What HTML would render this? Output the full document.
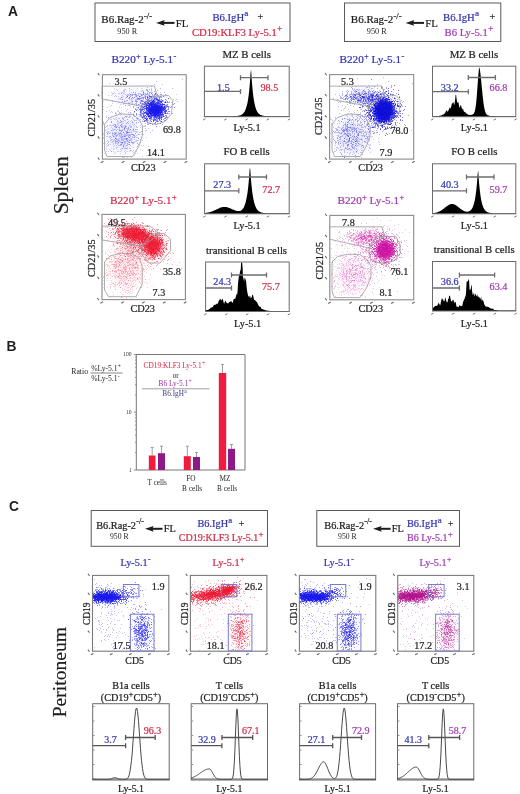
<!DOCTYPE html>
<html><head><meta charset="utf-8"><style>
html,body{margin:0;padding:0;background:#fff;}
body{width:520px;height:794px;overflow:hidden;font-family:"Liberation Serif", serif;}
svg{display:block;filter:blur(0.3px);}
</style></head><body>
<svg width="520" height="794" viewBox="0 0 520 794">
<defs>
<filter id="b5" x="-50%" y="-50%" width="200%" height="200%"><feGaussianBlur stdDeviation="0.5"/></filter>
<filter id="b8" x="-50%" y="-50%" width="200%" height="200%"><feGaussianBlur stdDeviation="0.8"/></filter>
<filter id="b10" x="-50%" y="-50%" width="200%" height="200%"><feGaussianBlur stdDeviation="1.0"/></filter>
<filter id="b12" x="-50%" y="-50%" width="200%" height="200%"><feGaussianBlur stdDeviation="1.2"/></filter>
<filter id="b15" x="-50%" y="-50%" width="200%" height="200%"><feGaussianBlur stdDeviation="1.5"/></filter>
<filter id="b20" x="-50%" y="-50%" width="200%" height="200%"><feGaussianBlur stdDeviation="2.0"/></filter>
<filter id="b25" x="-50%" y="-50%" width="200%" height="200%"><feGaussianBlur stdDeviation="2.5"/></filter>
<filter id="b30" x="-50%" y="-50%" width="200%" height="200%"><feGaussianBlur stdDeviation="3.0"/></filter>
<filter id="b40" x="-50%" y="-50%" width="200%" height="200%"><feGaussianBlur stdDeviation="4.0"/></filter>
</defs>
<rect width="520" height="794" fill="#fff"/>
<text transform="translate(8.00 15.80) scale(1 1.0)" font-size="13.8" fill="#1e1e1e" text-anchor="start" font-family='"Liberation Sans", sans-serif' font-weight="bold" >A</text>
<text transform="translate(6.60 350.90) scale(1 1.0)" font-size="13.8" fill="#1e1e1e" text-anchor="start" font-family='"Liberation Sans", sans-serif' font-weight="bold" >B</text>
<text transform="translate(8.90 510.80) scale(1 1.0)" font-size="13.8" fill="#1e1e1e" text-anchor="start" font-family='"Liberation Sans", sans-serif' font-weight="bold" >C</text>
<text transform="translate(67.8 214.3) rotate(-90) scale(1 1.0)" stroke="#1e1e1e" stroke-width="0.22" font-size="21.3" fill="#1e1e1e" font-family='"Liberation Serif", serif'>Spleen</text>
<text transform="translate(66.2 717.3) rotate(-90) scale(1 1.0)" stroke="#1e1e1e" stroke-width="0.22" font-size="19.6" fill="#1e1e1e" font-family='"Liberation Serif", serif'>Peritoneum</text>
<rect x="95.00" y="3.00" width="195.00" height="38.50" fill="none" stroke="#5a5a5a" stroke-width="1"/>
<text transform="translate(101.30 22.90) scale(1 1.0)" font-size="11" fill="#1e1e1e" stroke="#1e1e1e" stroke-width="0.22" text-anchor="start" font-family='"Liberation Serif", serif'>B6.Rag-2<tspan dx="0.2" dy="-3.60" font-size="8.60">-/-</tspan></text>
<text transform="translate(117.30 33.90) scale(1 1.0)" font-size="8.2" fill="#1e1e1e" text-anchor="start" font-family='"Liberation Serif", serif' font-weight="normal" >950 R</text>
<path d="M156.1 22.9 L164.7 20.0 L163.5 22.9 L164.7 25.8 Z" fill="#1e1e1e"/>
<rect x="162.1" y="21.9" width="12.4" height="2.0" fill="#1e1e1e"/>
<text transform="translate(175.70 26.60) scale(1 1.0)" font-size="10.8" fill="#1e1e1e" stroke="#1e1e1e" stroke-width="0.22" text-anchor="start" font-family='"Liberation Serif", serif' font-weight="normal" >FL</text>
<text transform="translate(212.40 20.60) scale(1 1.0)" font-size="10.7" fill="#3434b4" stroke="#3434b4" stroke-width="0.22" text-anchor="start" font-family='"Liberation Serif", serif'>B6.IgH<tspan dx="0.2" dy="-4.60" font-size="9.20">a</tspan></text>
<text transform="translate(257.60 20.00) scale(1 1.0)" font-size="10" fill="#1e1e1e" stroke="#1e1e1e" stroke-width="0.22" text-anchor="start" font-family='"Liberation Serif", serif' font-weight="normal" >+</text>
<text transform="translate(191.90 36.30) scale(1 1.0)" font-size="10.7" fill="#d22a48" stroke="#d22a48" stroke-width="0.22" text-anchor="start" font-family='"Liberation Serif", serif'>CD19:KLF3 Ly-5.1<tspan dx="0.2" dy="-4.40" font-size="9.60">+</tspan></text>
<rect x="344.50" y="3.00" width="156.30" height="38.50" fill="none" stroke="#5a5a5a" stroke-width="1"/>
<text transform="translate(350.80 22.90) scale(1 1.0)" font-size="11" fill="#1e1e1e" stroke="#1e1e1e" stroke-width="0.22" text-anchor="start" font-family='"Liberation Serif", serif'>B6.Rag-2<tspan dx="0.2" dy="-3.60" font-size="8.60">-/-</tspan></text>
<text transform="translate(366.80 33.90) scale(1 1.0)" font-size="8.2" fill="#1e1e1e" text-anchor="start" font-family='"Liberation Serif", serif' font-weight="normal" >950 R</text>
<path d="M405.6 22.9 L414.2 20.0 L413.0 22.9 L414.2 25.8 Z" fill="#1e1e1e"/>
<rect x="411.6" y="21.9" width="12.4" height="2.0" fill="#1e1e1e"/>
<text transform="translate(425.20 26.60) scale(1 1.0)" font-size="10.8" fill="#1e1e1e" stroke="#1e1e1e" stroke-width="0.22" text-anchor="start" font-family='"Liberation Serif", serif' font-weight="normal" >FL</text>
<text transform="translate(443.00 20.60) scale(1 1.0)" font-size="10.7" fill="#3434b4" stroke="#3434b4" stroke-width="0.22" text-anchor="start" font-family='"Liberation Serif", serif'>B6.IgH<tspan dx="0.2" dy="-4.60" font-size="9.20">a</tspan></text>
<text transform="translate(489.50 20.00) scale(1 1.0)" font-size="10" fill="#1e1e1e" stroke="#1e1e1e" stroke-width="0.22" text-anchor="start" font-family='"Liberation Serif", serif' font-weight="normal" >+</text>
<text transform="translate(444.50 36.30) scale(1 1.0)" font-size="10.7" fill="#a23ab4" stroke="#a23ab4" stroke-width="0.22" text-anchor="start" font-family='"Liberation Serif", serif'>B6 Ly-5.1<tspan dx="0.2" dy="-4.40" font-size="9.60">+</tspan></text>
<text transform="translate(111.50 63.00) scale(1 1.0)" font-size="11.2" fill="#3434b4" stroke="#3434b4" stroke-width="0.22" text-anchor="start" font-family='"Liberation Serif", serif' xml:space="preserve"><tspan>B220</tspan><tspan dx="0.3" dy="-4.30" font-size="8.40">+</tspan><tspan dy="4.30" font-size="11.2"> Ly-5.1</tspan><tspan dx="0.3" dy="-4.30" font-size="8.40">-</tspan></text>
<clipPath id="c10274"><rect x="102.4" y="74.7" width="83.79999999999998" height="84.39999999999999"/></clipPath>
<g clip-path="url(#c10274)">
<ellipse cx="123" cy="134" rx="15" ry="18" fill="#1515ee" fill-opacity="0.08" transform="rotate(0 123 134)" filter="url(#b40)"/>
<ellipse cx="135" cy="97" rx="22" ry="8" fill="#1515ee" fill-opacity="0.06" transform="rotate(0 135 97)" filter="url(#b40)"/>
<path transform="translate(0 0.5)" d="M129 88h1M156 81h1M146 105h1M108 117h1M106 111h1M109 83h1M137 143h1M113 93h1M154 153h1M150 108h1M182 79h1M173 99h1" stroke="#1515ee" stroke-width="1" stroke-opacity="0.3" fill="none"/>
<path transform="translate(0 0.5)" d="M125 138h1M115 152h1M127 147h1M115 125h1M118 132h1M128 136h1M117 123h1M116 147h1M113 136h1M126 117h1M122 148h1M120 125h1M126 133h1M107 143h1M128 144h1M136 137h1M123 119h1M128 127h1M117 120h1M112 128h1M134 111h1M107 136h1M136 140h1M103 106h1M125 125h1M110 144h1M133 135h1M124 138h1M137 140h1M127 140h1M106 148h1M131 139h1M130 114h1M120 145h1M108 151h1M127 132h1M125 141h1M123 146h1M115 129h1M132 134h1M113 144h1M136 129h1M108 132h1M120 130h1M136 122h1M134 120h1M114 140h1M133 143h1M125 135h1M123 140h1M120 137h1M127 134h1M129 140h1M142 137h1M117 129h1M121 144h1M118 138h1M140 105h1M110 136h1M125 136h1M117 141h1M124 128h1M146 137h1M116 132h1M119 133h1M132 121h1M121 144h1M130 150h1M104 130h1M118 140h1M132 104h1M132 118h1M128 117h1M123 147h1M120 136h1M129 135h1M121 150h1M132 130h1M149 121h1M131 131h1M123 141h1M124 141h1M106 117h1M128 123h1M111 117h1M134 142h1M136 123h1M122 121h1M129 151h1M113 151h1M131 132h1M121 127h1M125 138h1M136 122h1M133 150h1M136 132h1M114 145h1M123 135h1M136 131h1M103 143h1M125 127h1M121 143h1M122 148h1M121 145h1M136 151h1M115 143h1M103 122h1M109 133h1M120 133h1M116 136h1M139 134h1M127 145h1M120 120h1M116 145h1M105 127h1M132 142h1M122 142h1M123 121h1M106 126h1M131 127h1M112 125h1M106 132h1M110 138h1M115 112h1M129 130h1M124 128h1M129 142h1M128 137h1M135 141h1M126 111h1M130 148h1M119 128h1M141 114h1M112 141h1M140 132h1M127 143h1M112 133h1M124 143h1M121 131h1M111 130h1M130 135h1M113 124h1M148 146h1M128 105h1M128 139h1M138 138h1M121 139h1M125 126h1M135 153h1M107 126h1M124 136h1M118 123h1M143 145h1M110 119h1M139 144h1M140 142h1M113 136h1M121 139h1M114 132h1M126 138h1M128 136h1M118 142h1M122 124h1M115 133h1M120 135h1M121 135h1M120 120h1M126 145h1M126 131h1M126 123h1M103 134h1M112 142h1M111 105h1M111 151h1M118 118h1M114 139h1M126 135h1M136 141h1M121 140h1M138 144h1M132 122h1M120 142h1M119 145h1M127 143h1M134 131h1M118 143h1M131 134h1M110 136h1M125 146h1M129 134h1M130 139h1M124 134h1M119 141h1M111 127h1M122 117h1M117 111h1M115 140h1M127 133h1M119 118h1M140 139h1M132 124h1M120 113h1M129 144h1M103 133h1M128 114h1M103 122h1M115 118h1M122 136h1M128 141h1M137 146h1M108 128h1M111 122h1M121 134h1M126 116h1M109 133h1M120 130h1M121 125h1M129 137h1M121 126h1M120 104h1M112 134h1M106 136h1M123 118h1M119 130h1M126 140h1M121 124h1M120 133h1M129 137h1M114 119h1M118 125h1M110 132h1M117 135h1M127 129h1M145 130h1M133 135h1M133 107h1M114 136h1M125 148h1M129 144h1M127 132h1M127 122h1M133 122h1M124 157h1M119 134h1M133 134h1M113 136h1M127 141h1M114 153h1M138 134h1M124 129h1M136 126h1M128 128h1M115 141h1M135 133h1M115 142h1M121 137h1M137 146h1M122 142h1M115 133h1M104 153h1M135 120h1M106 116h1M133 128h1M121 130h1M120 122h1M122 118h1M121 137h1M126 131h1M112 135h1M117 151h1M129 132h1M117 126h1M112 130h1M124 139h1M127 157h1M114 134h1M149 113h1M116 135h1M123 138h1M119 138h1M122 142h1M103 124h1M121 122h1M111 140h1M115 140h1M129 137h1M127 132h1M107 133h1M126 128h1M121 142h1M113 141h1M140 127h1M123 132h1M137 137h1M130 126h1M121 133h1M104 149h1M130 114h1M129 132h1M126 138h1M107 131h1M136 127h1M111 119h1M109 137h1M138 138h1M116 126h1M127 140h1M111 121h1M124 136h1M108 131h1M116 139h1M120 133h1M118 145h1M135 129h1M130 125h1M122 142h1M137 129h1M121 136h1M107 134h1M115 138h1M110 112h1M122 136h1M116 143h1M119 127h1M126 116h1M115 133h1M130 132h1M125 126h1M125 152h1M115 134h1M123 145h1M109 110h1M128 142h1M124 136h1M131 138h1M138 120h1M118 96h1M130 129h1M131 157h1M121 131h1M117 124h1M115 141h1M122 134h1M120 144h1M126 132h1M128 132h1M110 150h1M126 123h1M132 137h1M106 151h1M125 143h1M123 132h1M106 144h1M122 130h1M125 134h1M128 129h1M121 110h1M117 141h1M135 129h1M120 151h1M118 142h1M138 134h1M134 126h1M124 133h1M123 146h1M145 126h1M116 139h1M111 139h1M127 130h1M127 116h1M129 117h1M115 127h1M117 143h1M122 129h1M127 151h1M122 138h1M134 136h1M144 112h1M121 138h1M131 141h1M119 122h1M123 145h1M111 122h1M121 112h1M119 129h1M126 126h1M113 129h1M121 126h1M122 142h1M133 152h1M114 129h1M114 133h1M127 119h1M126 133h1M103 137h1M133 113h1M130 136h1M126 138h1M135 131h1M130 129h1M129 125h1M120 153h1M126 132h1M110 125h1M123 144h1M126 139h1M121 148h1M118 127h1M130 134h1M119 127h1M119 140h1M125 120h1M126 135h1M111 142h1M119 130h1M129 148h1M115 138h1M117 147h1M115 142h1M144 106h1M117 139h1M121 126h1M143 134h1M105 143h1M104 146h1M116 135h1M134 135h1M108 115h1M133 142h1M113 143h1M126 141h1M131 142h1M130 106h1M123 139h1M147 123h1M118 134h1M130 129h1M133 125h1M124 128h1M123 126h1M106 146h1M125 127h1M124 144h1M112 132h1M127 139h1M118 110h1M134 137h1M122 130h1M124 129h1M111 125h1M116 127h1M110 140h1M108 141h1M111 137h1M135 136h1M114 134h1M123 114h1M115 135h1M117 134h1M129 142h1M131 140h1M119 133h1M119 130h1M120 115h1M118 133h1M112 133h1M127 132h1M142 105h1M119 113h1M127 130h1M127 109h1M130 138h1M122 127h1M128 128h1M124 128h1M124 142h1M113 133h1M128 135h1M134 155h1M112 112h1M130 150h1M131 142h1M115 126h1M130 123h1M103 123h1M146 155h1M115 125h1M124 125h1M135 133h1M111 148h1M116 136h1M121 130h1M125 126h1M103 109h1M109 125h1M121 134h1M127 135h1M114 126h1M126 139h1M120 132h1M131 134h1M129 140h1M124 148h1M116 130h1M113 125h1M137 153h1M122 140h1M133 142h1M134 120h1M115 138h1M136 135h1M113 130h1M115 124h1M137 127h1M122 157h1M133 137h1M115 138h1M138 140h1M134 135h1M127 131h1M126 148h1M107 133h1M124 127h1M118 142h1M142 140h1M125 116h1M141 134h1M121 121h1M121 121h1M122 139h1M122 137h1M113 149h1M115 113h1M120 125h1M111 130h1M124 120h1M120 149h1M128 132h1M123 132h1M121 142h1M121 107h1M121 124h1M128 127h1M123 157h1M111 121h1M107 107h1M103 138h1M115 113h1M107 140h1M114 129h1M125 148h1M141 145h1M123 136h1M140 149h1M118 139h1M124 134h1M116 119h1M116 117h1M134 139h1M109 149h1M130 113h1M140 142h1M142 120h1M127 138h1M124 135h1M132 117h1M109 118h1M116 127h1M125 136h1M122 126h1M117 144h1M129 135h1M118 151h1M116 141h1M133 131h1M130 121h1M132 136h1M106 141h1M113 148h1M115 132h1M124 130h1M124 127h1M128 134h1M124 103h1M133 134h1M104 135h1M126 145h1M111 151h1M120 141h1M118 121h1M132 143h1M137 143h1M116 115h1M115 126h1M113 140h1M125 131h1M123 132h1M124 142h1M131 126h1M106 149h1M123 146h1M105 130h1M122 118h1M116 141h1M132 151h1M113 118h1M127 144h1M123 119h1M129 142h1M127 128h1M125 142h1M116 113h1M125 139h1M122 143h1M116 133h1M118 140h1M137 131h1M142 150h1M129 140h1M139 132h1M120 122h1M126 148h1M127 138h1M119 135h1M107 145h1M117 121h1M114 124h1M130 145h1M108 144h1M130 127h1M107 125h1M115 137h1M118 111h1M124 117h1M131 120h1M115 124h1M116 148h1M130 140h1M125 116h1M116 127h1M112 139h1M114 126h1M111 111h1M127 148h1M123 123h1M134 137h1M131 150h1M133 129h1M132 142h1M106 129h1M107 132h1M127 122h1M125 150h1M108 145h1M142 156h1M119 136h1M120 144h1M132 134h1M108 142h1M117 140h1M124 151h1M133 129h1M125 153h1M116 138h1M133 147h1M127 119h1M109 136h1M113 146h1M129 115h1M113 135h1" stroke="#1515ee" stroke-width="1" stroke-opacity="0.22" fill="none"/>
<path transform="translate(0 0.5)" d="M130 96h1M143 94h1M143 94h1M129 99h1M129 98h1M157 97h1M135 100h1M132 101h1M120 99h1M130 94h1M160 94h1M159 100h1M155 93h1M152 103h1M135 96h1M168 98h1M131 94h1M142 98h1M139 104h1M132 99h1M155 93h1M150 104h1M119 93h1M123 90h1M142 90h1M143 103h1M116 96h1M112 100h1M127 96h1M137 99h1M132 97h1M129 97h1M121 97h1M111 95h1M161 97h1M120 98h1M124 90h1M127 100h1M141 97h1M124 93h1M154 98h1M124 89h1M119 107h1M122 97h1M139 96h1M133 92h1M123 104h1M127 100h1M114 96h1M140 101h1M122 99h1M142 94h1M143 93h1M126 97h1M123 91h1M131 100h1M131 102h1M121 92h1M157 99h1M149 94h1M147 98h1M145 97h1M152 94h1M124 91h1M152 94h1M123 93h1M131 92h1M133 94h1M129 93h1M137 95h1M138 98h1M141 88h1M130 94h1M147 91h1M127 96h1M132 101h1M131 101h1M117 90h1M152 99h1M143 97h1M143 92h1M149 95h1M149 97h1M111 92h1M151 96h1M131 98h1M131 95h1M138 98h1M156 97h1M161 104h1M159 101h1M138 98h1M135 94h1M136 94h1M158 99h1M131 89h1M136 95h1M122 92h1M107 99h1M136 107h1M136 96h1M155 98h1M139 96h1M129 103h1M150 104h1M132 97h1M125 101h1M118 99h1M151 103h1M124 101h1M127 94h1M119 102h1M158 95h1M127 96h1M169 101h1M129 90h1M128 102h1M161 96h1M128 95h1M112 101h1M122 101h1M114 92h1M140 94h1M147 97h1M121 99h1M147 89h1M160 99h1M146 90h1M127 96h1M151 91h1M125 89h1M133 98h1M115 95h1M143 103h1M145 96h1M121 93h1M128 98h1M136 104h1M140 93h1M157 101h1M138 94h1M112 93h1M148 94h1M119 98h1M140 99h1M145 103h1M126 101h1M124 100h1M139 98h1M149 97h1M151 101h1M138 95h1M127 95h1M134 97h1M175 100h1M146 94h1M127 96h1M139 93h1M157 95h1M151 88h1M136 98h1M139 99h1M140 98h1M112 94h1M106 100h1M140 96h1M126 95h1M160 104h1M136 102h1M116 89h1M130 94h1M129 98h1M176 94h1M137 98h1M136 101h1M160 92h1M139 96h1M141 91h1M114 88h1M143 98h1M137 88h1M132 94h1M118 93h1M146 99h1M136 99h1M129 97h1M137 99h1M136 96h1M135 94h1M166 99h1M142 106h1M155 91h1M146 100h1M161 102h1M147 92h1M125 98h1M143 93h1M132 95h1M137 98h1M133 92h1M153 103h1M135 101h1M142 100h1M143 94h1M144 101h1M125 105h1M164 104h1M162 100h1M132 95h1M126 97h1M136 100h1M110 106h1M166 97h1M145 99h1M140 96h1M135 94h1M139 97h1M141 94h1M137 97h1M144 93h1M142 101h1M144 96h1M130 96h1M146 103h1M134 94h1M141 98h1M125 94h1M135 100h1M121 93h1M143 92h1M138 98h1M135 93h1M136 96h1M141 94h1M151 90h1M134 97h1M149 95h1M144 95h1M146 104h1M131 99h1M124 101h1M152 97h1M122 99h1M151 101h1M147 90h1M128 103h1M121 102h1M161 100h1M151 96h1M121 97h1M134 97h1M146 96h1M139 99h1M136 104h1M142 97h1M134 94h1M154 98h1M122 95h1M135 95h1M151 92h1M143 98h1M121 97h1M135 99h1M131 98h1M115 93h1M147 101h1M136 95h1M151 89h1M126 100h1M145 93h1M112 103h1M138 93h1M137 101h1M103 101h1M146 89h1M147 90h1M151 99h1M166 95h1M137 101h1M128 94h1M132 97h1M122 99h1M144 97h1M159 96h1M153 95h1M146 89h1M139 96h1M130 95h1M132 94h1M108 95h1M129 95h1M123 96h1M147 96h1M130 102h1M149 101h1M152 96h1M135 101h1M129 97h1M141 98h1" stroke="#1515ee" stroke-width="1" stroke-opacity="0.22" fill="none"/>
<path transform="translate(0 0.5)" d="M151 115h1M151 113h1M161 109h1M154 97h1M138 107h1M158 117h1M141 113h1M141 105h1M150 113h1M155 115h1M144 117h1M159 105h1M153 102h1M140 108h1M152 130h1M151 121h1M153 109h1M155 100h1M159 107h1M139 116h1M156 109h1M163 100h1M157 111h1M146 119h1M135 103h1M152 98h1M145 96h1M148 99h1M149 96h1M154 104h1M151 107h1M148 98h1M129 116h1M141 107h1M149 92h1M142 106h1M142 113h1M147 102h1M144 116h1M146 114h1M149 93h1M141 111h1M155 112h1M160 112h1M147 107h1M156 102h1M155 93h1M156 104h1M136 120h1M153 107h1M140 108h1M161 97h1M119 112h1M140 110h1M145 102h1M146 117h1M143 126h1M143 101h1M159 109h1M144 116h1M133 107h1M159 102h1M141 115h1M158 105h1M134 111h1M156 112h1M166 100h1M146 109h1M158 97h1M154 84h1M156 100h1M156 111h1M140 111h1M154 111h1M140 103h1M141 131h1M148 107h1M140 119h1M150 119h1M158 105h1M154 97h1M146 104h1M140 112h1M153 118h1M120 113h1M142 107h1M155 109h1M150 104h1M156 109h1M134 111h1M136 103h1M152 107h1M149 101h1M146 102h1M155 111h1M169 111h1M143 107h1M143 113h1M169 106h1M129 105h1M141 115h1M151 110h1M163 96h1M148 124h1M151 101h1M129 103h1M130 116h1M153 114h1M148 103h1M149 123h1M136 114h1M152 112h1M148 112h1M157 104h1M146 108h1M142 109h1M148 110h1M165 113h1M148 113h1M155 112h1M151 109h1M145 103h1M161 114h1M157 109h1M152 104h1M137 118h1M151 103h1M146 119h1M140 125h1M162 122h1M144 110h1M147 110h1M147 103h1M158 99h1M148 113h1M145 106h1M153 104h1M140 111h1M153 120h1M144 118h1M143 107h1M148 110h1M162 117h1M149 119h1M161 110h1M146 116h1M150 110h1M150 113h1M163 112h1M151 115h1M160 96h1M160 94h1M157 110h1M164 105h1M144 103h1M142 117h1M147 103h1M153 100h1M146 106h1M168 113h1M145 97h1M153 107h1M155 110h1M150 115h1M158 106h1M146 105h1M154 98h1M147 103h1M140 116h1M150 108h1M154 94h1M151 110h1M155 97h1M157 107h1M165 111h1M161 121h1M149 105h1M145 102h1M145 94h1M151 111h1M158 102h1M161 99h1M145 95h1M142 104h1M164 107h1M143 114h1M154 104h1M150 105h1M142 97h1M153 117h1M162 101h1M144 108h1M159 107h1M147 112h1M150 112h1M143 99h1M153 113h1M141 110h1M157 102h1M150 123h1M160 112h1M147 122h1M136 109h1M160 114h1M141 106h1M147 94h1M157 109h1M148 113h1M158 107h1M159 116h1M147 110h1M149 116h1M148 112h1M152 108h1M164 102h1M164 109h1M161 102h1M160 110h1M146 111h1M149 108h1M159 99h1M132 101h1M145 104h1M152 111h1M166 104h1M152 101h1M159 115h1M157 90h1M162 116h1M154 95h1M149 112h1M152 101h1M146 117h1M143 121h1M151 109h1M138 107h1M152 95h1M164 92h1M141 111h1M156 111h1M147 107h1M147 104h1M132 122h1M153 108h1M146 111h1M150 107h1M155 93h1M150 100h1M152 119h1M141 110h1M148 116h1M138 99h1M154 104h1M151 116h1M142 108h1M153 110h1M149 116h1M168 98h1M160 88h1M161 101h1M151 105h1M142 101h1M150 117h1M159 102h1M144 104h1M145 123h1M156 106h1M144 102h1M163 109h1M145 117h1M143 115h1M142 108h1M156 109h1M157 99h1M167 112h1M152 111h1M144 109h1M140 112h1M155 116h1M160 110h1M147 107h1M148 110h1M137 118h1M137 109h1M149 104h1M164 102h1M166 111h1M147 112h1M160 101h1M150 103h1M150 105h1M154 114h1M162 104h1M154 113h1M146 101h1M157 98h1M156 98h1M163 95h1M161 115h1M146 120h1M139 98h1M158 110h1M143 91h1M149 106h1M147 107h1M135 109h1M169 113h1M146 104h1M156 114h1M153 97h1M152 108h1M165 111h1M158 114h1M151 119h1M148 111h1M156 99h1M140 98h1M152 107h1M149 112h1M133 114h1M151 105h1M161 117h1M145 102h1M146 110h1M153 100h1M156 98h1M158 108h1M160 121h1M148 107h1M156 112h1M140 113h1M146 114h1M162 104h1M150 109h1M128 121h1M155 107h1M145 104h1M152 116h1M153 117h1M128 112h1M153 107h1M135 108h1M157 95h1M140 103h1M148 113h1M150 92h1M161 99h1M150 121h1M147 99h1M144 104h1M141 108h1M158 107h1M146 130h1M143 111h1M153 113h1M149 112h1M168 102h1M143 113h1M143 107h1M153 109h1M150 114h1M146 99h1M157 102h1M159 99h1M156 108h1M125 105h1M145 120h1M137 119h1M161 108h1M155 102h1M151 109h1M156 111h1M147 103h1M147 112h1M134 104h1M146 105h1M142 90h1M147 107h1M152 92h1M149 112h1M157 114h1M156 97h1M155 103h1M148 120h1M143 104h1M145 103h1M160 107h1M163 106h1M148 116h1M144 106h1M149 108h1M159 100h1M153 106h1M138 104h1M150 111h1M154 110h1M150 104h1M151 99h1M139 109h1M138 108h1M143 106h1M148 102h1M143 97h1M150 101h1M147 87h1M145 112h1M130 112h1M152 108h1M139 114h1M149 100h1M156 105h1M150 104h1M155 107h1M161 107h1M145 108h1M157 102h1M155 110h1M143 92h1M152 109h1M150 102h1M160 103h1M144 104h1M151 99h1M147 124h1M164 111h1M163 107h1M140 121h1M162 107h1M138 122h1M160 100h1M153 112h1M153 115h1M153 112h1M148 97h1M150 132h1M156 116h1M164 116h1M154 102h1M146 94h1M151 114h1M133 115h1M161 114h1M141 106h1M133 106h1M160 120h1M145 120h1M153 103h1M162 84h1M150 109h1M172 113h1M169 102h1M162 114h1M156 108h1M148 105h1M145 125h1M142 95h1M153 106h1M156 119h1M149 106h1M144 110h1M147 110h1M177 101h1M148 123h1M160 111h1M158 111h1M160 115h1M162 114h1M146 109h1M147 116h1M156 102h1M162 124h1M158 96h1M151 112h1M151 110h1M161 106h1M143 116h1M150 109h1M142 100h1M139 109h1M135 92h1M157 96h1M146 113h1M134 124h1M146 114h1M147 111h1M151 107h1M132 103h1M154 117h1M147 113h1M153 110h1M155 94h1M152 105h1M146 103h1M141 103h1M148 128h1M165 102h1M154 99h1M123 103h1M155 117h1M148 101h1M146 101h1M138 110h1M145 103h1M141 104h1M156 116h1M154 123h1M138 114h1M141 110h1M153 111h1M158 100h1M140 110h1M151 102h1M162 116h1M140 114h1M154 91h1M152 105h1M142 121h1M151 104h1M156 111h1M158 109h1M151 98h1M147 110h1M133 130h1M145 101h1M136 115h1M149 103h1M145 103h1M144 109h1M147 114h1M150 109h1M157 115h1M156 107h1M147 102h1M149 113h1M151 104h1M136 101h1M156 114h1M150 97h1M149 110h1M144 113h1M147 102h1M142 117h1M151 100h1M144 117h1M155 104h1M163 101h1M145 118h1M150 110h1M148 101h1M140 110h1M160 96h1M162 105h1M142 113h1M153 100h1M134 116h1M142 114h1M134 112h1M140 100h1M149 109h1M143 101h1M148 95h1M156 109h1M167 109h1M154 108h1M147 98h1M164 107h1M145 101h1M164 107h1M142 116h1M166 102h1M153 103h1M148 117h1M176 99h1M151 113h1M150 113h1M155 98h1M142 110h1M158 107h1M157 94h1M153 102h1M152 109h1M142 109h1M142 113h1M142 107h1M151 102h1M158 100h1M158 107h1M141 109h1M143 108h1M153 121h1M151 119h1M151 97h1M133 119h1M136 118h1M160 107h1M148 106h1M152 105h1M145 107h1M159 100h1M151 99h1M141 100h1M151 113h1M152 103h1M155 103h1M154 108h1M149 89h1M142 117h1M155 123h1M147 104h1M164 107h1M167 105h1M151 113h1M143 107h1M145 108h1M156 102h1M152 103h1M151 86h1M149 109h1M144 118h1M155 116h1M160 109h1M147 101h1M148 105h1M151 104h1M172 88h1M159 101h1M151 115h1M148 99h1M153 105h1M134 115h1M140 106h1M155 108h1M154 123h1M152 102h1M152 106h1M129 103h1M144 126h1M148 106h1M148 116h1M155 119h1M161 116h1M150 110h1M147 108h1M135 109h1M141 106h1M161 106h1M163 110h1M160 112h1M148 115h1M147 105h1M166 119h1M147 122h1M155 99h1M154 109h1M153 104h1M140 112h1M159 110h1M159 113h1M142 110h1M156 113h1M153 111h1M157 121h1M133 114h1M171 102h1M136 114h1M137 107h1M157 118h1M156 111h1M159 106h1M143 109h1M153 105h1M144 107h1M136 105h1M149 105h1M154 117h1M153 106h1M138 104h1M151 100h1M151 99h1M151 107h1M158 102h1M148 110h1M155 119h1M147 105h1M149 112h1M154 112h1M145 128h1M165 102h1M141 112h1M148 91h1M147 97h1M158 116h1M155 94h1M164 110h1M149 112h1M162 101h1M149 104h1M155 89h1M160 97h1M154 94h1" stroke="#1515ee" stroke-width="1" stroke-opacity="0.3" fill="none"/>
<path transform="translate(0 0.5)" d="M149 106h1M159 101h1M158 106h1M162 108h1M157 109h1M165 108h1M154 120h1M155 113h1M150 111h1M141 110h1M151 102h1M146 116h1M157 101h1M165 106h1M152 111h1M148 101h1M150 116h1M160 101h1M161 110h1M157 110h1M157 104h1M149 106h1M152 113h1M147 118h1M151 106h1M159 112h1M153 104h1M149 101h1M161 115h1M165 112h1M156 114h1M160 108h1M157 121h1M145 102h1M149 113h1M161 108h1M158 109h1M156 107h1M154 109h1M161 121h1M144 112h1M154 115h1M161 114h1M159 104h1M145 118h1M161 104h1M162 113h1M140 114h1M149 116h1M151 106h1M146 108h1M160 106h1M144 121h1M165 113h1M151 103h1M145 112h1M162 104h1M154 108h1M153 112h1M167 106h1M159 115h1M153 109h1M147 115h1M151 106h1M155 105h1M148 108h1M163 108h1M158 102h1M143 119h1M152 101h1M154 113h1M145 105h1M156 105h1M159 115h1M157 107h1M154 106h1M154 111h1M153 115h1M170 107h1M156 114h1M158 108h1M152 115h1M158 112h1M150 113h1M159 109h1M158 121h1M144 113h1M148 102h1M153 112h1M155 103h1M146 107h1M155 105h1M146 119h1M150 109h1M151 106h1M155 108h1M158 103h1M146 120h1M154 114h1M161 112h1M155 101h1M145 115h1M158 113h1M145 98h1M148 103h1M155 104h1M164 106h1M151 114h1M156 105h1M159 120h1M147 108h1M148 99h1M158 113h1M160 112h1M143 109h1M151 103h1M148 114h1M153 120h1M157 99h1M160 116h1M155 103h1M165 102h1M154 99h1M147 100h1M161 116h1M152 102h1M154 112h1M146 103h1M154 113h1M155 112h1M147 96h1M156 105h1M154 107h1M157 105h1M163 110h1M158 113h1M161 112h1M144 106h1M165 112h1M158 112h1M151 106h1M151 116h1M157 119h1M157 120h1M157 103h1M165 111h1M161 111h1M153 110h1M148 103h1M149 107h1M147 109h1M156 120h1M165 109h1M160 108h1M157 109h1M151 110h1M146 112h1M153 104h1M152 112h1M150 112h1M158 118h1M148 109h1M158 118h1M156 114h1M146 106h1M164 108h1M167 106h1M153 101h1M158 111h1M166 110h1M153 102h1M154 115h1M159 116h1M160 109h1M158 110h1M147 119h1M157 104h1M157 111h1M160 117h1M136 113h1M164 104h1M143 111h1M156 111h1M148 107h1M156 114h1M168 111h1M151 97h1M161 109h1M154 104h1M159 100h1M155 110h1M156 117h1M154 110h1M160 101h1M153 110h1M160 105h1M159 112h1M146 101h1M146 110h1M156 113h1M159 106h1M161 114h1M157 112h1M147 111h1M148 103h1M152 110h1M154 108h1M149 111h1M150 102h1M155 117h1M152 104h1M163 119h1M153 108h1M156 126h1M155 115h1M157 100h1M148 103h1M157 110h1M165 108h1M156 110h1M155 122h1M156 118h1M162 106h1M159 107h1M155 110h1M155 107h1M164 108h1M159 119h1M158 115h1M163 115h1M165 102h1M166 110h1M144 106h1M146 109h1M146 104h1M156 110h1M150 108h1M154 110h1M154 108h1M160 101h1M152 110h1M152 106h1M152 111h1M162 108h1M153 111h1M153 99h1M156 107h1M151 113h1M155 106h1M141 100h1M155 109h1M157 111h1M152 103h1M148 109h1M148 114h1M147 100h1M153 100h1M164 104h1M154 108h1M150 100h1M143 114h1M161 121h1M146 113h1M154 114h1M151 113h1M160 113h1M163 109h1M164 106h1M165 94h1M155 105h1M155 115h1M159 110h1M165 101h1M150 118h1M156 98h1M157 103h1M163 116h1M151 117h1M149 115h1M158 109h1M146 108h1M141 106h1M143 116h1M149 96h1M158 112h1M151 121h1M159 110h1M151 93h1M157 115h1M151 102h1M154 100h1M155 114h1M164 111h1M156 114h1M163 108h1M147 105h1M147 105h1M154 111h1M155 110h1M152 112h1M160 114h1M163 108h1M153 119h1M156 112h1M152 115h1M152 104h1M154 107h1M160 107h1M155 108h1M157 106h1M161 102h1M152 106h1M158 110h1M157 108h1M150 103h1M152 107h1M156 111h1M160 109h1M150 104h1M155 111h1M166 111h1M165 120h1M148 116h1M161 117h1M154 115h1M152 109h1M155 119h1M153 115h1M155 106h1M156 113h1M150 113h1M150 105h1M156 108h1M149 101h1M155 111h1M152 111h1M145 112h1M157 111h1M151 110h1M155 115h1M156 111h1M150 114h1M162 107h1M158 111h1M154 102h1M165 99h1M156 107h1M161 107h1M155 113h1M157 107h1M159 112h1M160 107h1M154 107h1M149 111h1M157 117h1M153 112h1M161 109h1M155 110h1M150 104h1M161 110h1M154 103h1M155 116h1M148 105h1M161 117h1M164 106h1M158 105h1M158 108h1M156 117h1M157 108h1M155 111h1M151 111h1M158 118h1M142 103h1M147 114h1M169 111h1M155 116h1M140 109h1M136 110h1M151 107h1M157 106h1M161 109h1M157 123h1M152 115h1M150 116h1M160 110h1M160 118h1M163 110h1M154 116h1M146 106h1M157 113h1M166 119h1M156 112h1M147 108h1M156 108h1M155 113h1M149 106h1M144 116h1M148 100h1M159 108h1M160 107h1M167 113h1M155 110h1M153 114h1M166 107h1M148 113h1M161 101h1M150 104h1M158 112h1M150 103h1M159 98h1M158 109h1M166 115h1M151 108h1M153 106h1M155 115h1M146 108h1M163 114h1M150 105h1M149 101h1M161 110h1M150 102h1M152 107h1M165 107h1M155 115h1M158 109h1M142 117h1M158 107h1M154 104h1M149 101h1M157 112h1M156 114h1M158 110h1M149 113h1M162 113h1M162 107h1M149 116h1M151 111h1M153 110h1M153 107h1M144 120h1M156 99h1M149 103h1M150 96h1M158 118h1M153 114h1M158 103h1M162 100h1M151 108h1M162 110h1M154 105h1M155 110h1M159 117h1M159 110h1M154 118h1M156 109h1M165 118h1M158 109h1M151 115h1M152 115h1M150 110h1M157 110h1M156 112h1M148 104h1M154 119h1M154 105h1M151 110h1M161 106h1M158 111h1M152 104h1M154 106h1M158 100h1M161 114h1M158 118h1M158 100h1M155 112h1M150 103h1M157 112h1M152 108h1M152 106h1M154 115h1M145 108h1M164 111h1M155 114h1M149 103h1M145 102h1M156 114h1M152 106h1M157 113h1M156 99h1M151 96h1M156 105h1M151 118h1M162 112h1M156 110h1M151 109h1M166 105h1M151 110h1M160 114h1M149 109h1M153 103h1M155 107h1M160 112h1M150 110h1M152 106h1M152 115h1M152 100h1M150 114h1M167 104h1M152 108h1M146 112h1M154 111h1M168 108h1M159 114h1M151 106h1M164 113h1M155 104h1M160 112h1M167 117h1M159 111h1M155 107h1M156 111h1M158 115h1M156 107h1M159 118h1M150 112h1M158 112h1M157 109h1M154 119h1M165 102h1M140 112h1M151 107h1M145 111h1M154 107h1M160 123h1M163 116h1M152 113h1M154 116h1M158 109h1M158 106h1M159 118h1M152 112h1M145 115h1M160 104h1M165 110h1M144 102h1M160 108h1M161 101h1M154 115h1M151 113h1M152 111h1M156 121h1M147 114h1M162 103h1M155 122h1M161 94h1M153 100h1M156 106h1M151 105h1M156 107h1M149 108h1M157 105h1M161 101h1M157 107h1M164 106h1M151 102h1M166 113h1M148 108h1M149 118h1M157 99h1M156 114h1M155 112h1M154 111h1M156 106h1M157 110h1M154 106h1M149 111h1M159 97h1M151 117h1M160 106h1M162 104h1M150 120h1M152 108h1M145 104h1M148 109h1M144 115h1M152 106h1M151 113h1M163 107h1M164 118h1M162 111h1M146 113h1M152 111h1M144 108h1M156 104h1M156 118h1M156 106h1M168 98h1M149 112h1M151 97h1M156 114h1M150 117h1M157 116h1M146 109h1M164 120h1M162 109h1M156 106h1M161 106h1M155 98h1M146 119h1M155 111h1M142 109h1M167 101h1M141 109h1M151 108h1M147 102h1M147 113h1M154 114h1M148 113h1M152 110h1M160 110h1M152 101h1M155 114h1M151 109h1M144 102h1M157 116h1M153 101h1M152 101h1M153 120h1M156 109h1M161 107h1M156 111h1M157 102h1M159 114h1M141 95h1M149 118h1M155 113h1M158 114h1M151 106h1M157 113h1M158 111h1M152 115h1M157 115h1M140 115h1M140 111h1M151 110h1M152 108h1M156 111h1M150 96h1M150 112h1M150 112h1M152 104h1M161 118h1M154 109h1M160 102h1M149 116h1M160 107h1M150 111h1M146 107h1M153 96h1M158 114h1M161 102h1M147 105h1M147 121h1M149 108h1M156 112h1M163 104h1M160 110h1M148 110h1M146 118h1M150 115h1M162 106h1M149 110h1M148 114h1M156 105h1M150 113h1M146 119h1M150 108h1M149 118h1M159 117h1M158 110h1M165 113h1M157 113h1M159 111h1M154 101h1M167 102h1M142 106h1M166 116h1M151 111h1M154 99h1M153 111h1M162 103h1M141 101h1M156 110h1M155 110h1M152 102h1M157 112h1M158 116h1M147 97h1M144 121h1M149 112h1M154 114h1M174 107h1M153 106h1M156 112h1M149 117h1M161 112h1M154 108h1M145 113h1M149 107h1M160 104h1M151 114h1M166 106h1M161 106h1M157 112h1M148 115h1M165 110h1M156 103h1M165 110h1M147 114h1M146 106h1M142 117h1M168 106h1M151 106h1M151 113h1M163 104h1M157 100h1M164 109h1M150 118h1M154 117h1M161 119h1M150 110h1M157 108h1M164 106h1M161 117h1M143 104h1M149 106h1M157 109h1M155 107h1M154 112h1M159 105h1M154 105h1M153 102h1M160 113h1M154 106h1M152 106h1M145 118h1M174 103h1M147 113h1M158 101h1M143 112h1M143 117h1M152 110h1M154 106h1M154 108h1M162 109h1M154 107h1M151 105h1M155 120h1M161 111h1M165 115h1M156 109h1M148 111h1M153 101h1M147 120h1M156 112h1M156 107h1M157 115h1M153 112h1M161 107h1M156 105h1M158 107h1M161 105h1M165 108h1M149 105h1M158 105h1M165 117h1M158 102h1M154 106h1M144 112h1M168 107h1M159 117h1M149 108h1M156 112h1M148 111h1M154 115h1M145 106h1M151 108h1M159 106h1M171 106h1M160 115h1M160 108h1M150 108h1M158 110h1M158 113h1M149 104h1M163 107h1M145 120h1M149 104h1M160 103h1M149 115h1M150 123h1M155 124h1M155 110h1M151 108h1M151 109h1M159 103h1M149 98h1M164 109h1M154 109h1M161 111h1M160 109h1M154 109h1M143 115h1M145 104h1M159 110h1M159 119h1M166 117h1M153 121h1M149 109h1M160 108h1M154 108h1M163 96h1M162 115h1M154 113h1M149 116h1M173 104h1M163 109h1M152 107h1M153 103h1M146 119h1M154 113h1M156 112h1M145 104h1M158 115h1M148 106h1M148 113h1M157 110h1M151 111h1M155 105h1M156 106h1M160 113h1M150 113h1M155 106h1M149 100h1M148 111h1M162 106h1M155 111h1M159 112h1M162 114h1M150 112h1M140 109h1M155 113h1M153 114h1M162 105h1M151 111h1M157 110h1M159 103h1M159 116h1M161 112h1M153 112h1M154 101h1M151 109h1M151 104h1M153 107h1M155 109h1M156 115h1M155 112h1M147 93h1M152 113h1M152 106h1M147 114h1M151 111h1M161 112h1M168 109h1M160 113h1M151 110h1M151 104h1M156 105h1M165 105h1M151 110h1M151 110h1M151 102h1M140 102h1M164 112h1M155 107h1M154 111h1M146 105h1M149 116h1M148 116h1M152 124h1M154 110h1M163 114h1M160 104h1M161 119h1M154 107h1M148 115h1M156 110h1M147 118h1M160 109h1M163 104h1" stroke="#1515ee" stroke-width="1" stroke-opacity="0.5" fill="none"/>
<ellipse cx="155.5" cy="110" rx="7.5" ry="6.5" fill="#1515ee" fill-opacity="0.9" transform="rotate(0 155.5 110)" filter="url(#b15)"/>
</g>
<rect x="102.40" y="74.70" width="83.80" height="84.40" fill="none" stroke="#8a8a8a" stroke-width="1.1"/>
<path d="M100.8 162.7l2.6 -1.4M121.8 162.7l2.6 -1.4M142.7 162.7l2.6 -1.4M163.7 162.7l2.6 -1.4M184.6 162.7l2.6 -1.4M97.8 157.5l1.6 2.2M97.8 136.4l1.6 2.2M97.8 115.3l1.6 2.2M97.8 94.2l1.6 2.2M97.8 73.1l1.6 2.2" stroke="#666" stroke-width="1.1" fill="none"/>
<path d="M102.0 86.2 L154.5 86.0 L157.0 95.0 L143.0 106.5 L102.0 99.0 Z" fill="none" stroke="#9a9a9a" stroke-width="0.8"/>
<path d="M141.0 106.0 L152.5 96.5 L168.5 95.5 L172.8 100.5 L171.5 114.0 L165.0 121.5 L156.0 124.5 L147.5 122.5 L141.5 117.5 Z" fill="none" stroke="#9a9a9a" stroke-width="0.8"/>
<path d="M104.5 124.0 L110.0 117.5 L120.0 114.0 L132.5 114.5 L139.0 119.0 L142.5 126.0 L142.5 135.0 L139.0 146.0 L132.5 156.5 L107.0 156.5 L104.5 150.0 Z" fill="none" stroke="#9a9a9a" stroke-width="0.8"/>
<text transform="translate(114.50 85.20) scale(1 1.0)" font-size="10.2" fill="#1e1e1e" stroke="#1e1e1e" stroke-width="0.22" text-anchor="start" font-family='"Liberation Serif", serif' font-weight="normal" >3.5</text>
<text transform="translate(163.00 133.20) scale(1 1.0)" font-size="10.2" fill="#1e1e1e" stroke="#1e1e1e" stroke-width="0.22" text-anchor="start" font-family='"Liberation Serif", serif' font-weight="normal" >69.8</text>
<text transform="translate(147.00 155.60) scale(1 1.0)" font-size="10.2" fill="#1e1e1e" stroke="#1e1e1e" stroke-width="0.22" text-anchor="start" font-family='"Liberation Serif", serif' font-weight="normal" >14.1</text>
<text transform="translate(95.2 136.6) rotate(-90) scale(1 1.0)" stroke="#1e1e1e" stroke-width="0.22" font-size="10.3" fill="#1e1e1e" font-family='"Liberation Serif", serif'>CD21/35</text>
<text transform="translate(143.30 171.10) scale(1 1.0)" font-size="10.3" fill="#1e1e1e" stroke="#1e1e1e" stroke-width="0.22" text-anchor="middle" font-family='"Liberation Serif", serif' font-weight="normal" >CD23</text>
<text transform="translate(110.00 204.00) scale(1 1.0)" font-size="11.2" fill="#d22a48" stroke="#d22a48" stroke-width="0.22" text-anchor="start" font-family='"Liberation Serif", serif' xml:space="preserve"><tspan>B220</tspan><tspan dx="0.3" dy="-4.30" font-size="8.40">+</tspan><tspan dy="4.30" font-size="11.2"> Ly-5.1</tspan><tspan dx="0.3" dy="-4.30" font-size="8.40">+</tspan></text>
<clipPath id="c102214"><rect x="102.0" y="214.4" width="83.4" height="85.20000000000002"/></clipPath>
<g clip-path="url(#c102214)">
<ellipse cx="126" cy="268" rx="16" ry="20" fill="#ee1530" fill-opacity="0.08" transform="rotate(0 126 268)" filter="url(#b40)"/>
<ellipse cx="140" cy="243" rx="26" ry="14" fill="#ee1530" fill-opacity="0.12" transform="rotate(25 140 243)" filter="url(#b30)"/>
<path transform="translate(0 0.5)" d="M172 264h1M181 268h1M179 262h1M118 258h1M142 243h1M133 257h1M150 233h1M125 256h1" stroke="#ee1530" stroke-width="1" stroke-opacity="0.3" fill="none"/>
<path transform="translate(0 0.5)" d="M114 265h1M122 258h1M117 263h1M128 244h1M128 249h1M126 297h1M115 265h1M123 279h1M120 241h1M108 268h1M128 280h1M120 275h1M114 284h1M125 256h1M127 290h1M116 248h1M114 249h1M125 270h1M124 268h1M139 261h1M112 234h1M128 256h1M123 271h1M131 244h1M115 267h1M124 282h1M120 237h1M138 243h1M115 271h1M128 273h1M121 297h1M131 255h1M139 242h1M119 270h1M127 252h1M143 286h1M115 271h1M119 259h1M136 267h1M124 267h1M113 283h1M117 284h1M120 259h1M142 268h1M118 258h1M132 292h1M132 260h1M113 256h1M124 269h1M118 283h1M115 256h1M131 272h1M121 279h1M110 288h1M150 293h1M127 293h1M126 284h1M123 268h1M131 241h1M123 290h1M136 270h1M128 285h1M129 239h1M115 261h1M127 259h1M124 289h1M136 274h1M126 266h1M129 269h1M118 276h1M116 265h1M122 249h1M132 265h1M113 264h1M110 286h1M131 293h1M119 275h1M115 254h1M125 271h1M136 262h1M138 279h1M116 263h1M115 289h1M119 278h1M136 262h1M120 270h1M117 248h1M115 270h1M128 290h1M105 273h1M113 282h1M133 267h1M142 260h1M120 251h1M118 267h1M133 283h1M123 255h1M122 260h1M120 260h1M116 265h1M120 263h1M110 268h1M132 275h1M120 250h1M111 249h1M118 261h1M106 275h1M109 256h1M118 277h1M146 261h1M123 260h1M123 263h1M152 250h1M124 255h1M129 258h1M132 251h1M149 268h1M106 275h1M120 250h1M130 258h1M134 258h1M135 268h1M129 268h1M122 261h1M130 275h1M121 296h1M144 250h1M137 265h1M128 255h1M143 254h1M125 256h1M147 283h1M111 259h1M129 260h1M122 251h1M128 250h1M122 288h1M130 256h1M122 252h1M127 275h1M136 262h1M113 264h1M144 269h1M125 237h1M121 273h1M115 284h1M119 254h1M119 264h1M136 258h1M106 264h1M131 287h1M113 286h1M133 272h1M117 253h1M115 278h1M128 280h1M145 266h1M125 292h1M111 259h1M121 260h1M127 254h1M138 247h1M117 242h1M110 274h1M132 263h1M135 274h1M119 265h1M129 293h1M121 271h1M131 282h1M130 280h1M114 262h1M105 265h1M151 269h1M126 269h1M127 247h1M118 263h1M127 254h1M124 256h1M111 257h1M117 277h1M140 274h1M123 258h1M109 258h1M142 281h1M128 262h1M126 271h1M125 271h1M117 266h1M122 280h1M112 283h1M125 259h1M126 267h1M123 271h1M119 242h1M133 265h1M144 271h1M104 283h1M118 273h1M149 281h1M114 264h1M108 275h1M132 252h1M130 278h1M134 256h1M118 250h1M112 270h1M126 283h1M128 261h1M110 287h1M127 265h1M115 251h1M132 252h1M132 274h1M121 244h1M130 285h1M117 248h1M137 268h1M119 282h1M123 272h1M121 255h1M128 254h1M106 258h1M139 281h1M149 279h1M143 269h1M121 272h1M115 276h1M121 269h1M116 264h1M136 263h1M118 269h1M135 263h1M113 244h1M111 280h1M125 272h1M137 270h1M131 259h1M108 274h1M124 273h1M114 264h1M147 254h1M127 283h1M123 267h1M103 276h1M121 283h1M125 261h1M130 262h1M120 287h1M136 267h1M134 277h1M132 266h1M126 271h1M132 270h1M120 265h1M130 252h1M125 276h1M127 262h1M125 259h1M136 261h1M108 249h1M129 269h1M120 248h1M124 254h1M118 266h1M117 270h1M118 259h1M123 285h1M142 278h1M118 266h1M135 277h1M108 265h1M118 276h1M132 259h1M149 262h1M152 263h1M125 291h1M120 259h1M141 265h1M131 249h1M145 279h1M129 275h1M120 259h1M109 271h1M139 277h1M135 275h1M116 248h1M132 268h1M136 262h1M116 272h1M120 244h1M119 254h1M114 258h1M136 297h1M144 260h1M138 265h1M130 257h1M125 243h1M145 256h1M132 258h1M128 250h1M121 278h1M132 240h1M135 248h1M129 273h1M119 261h1M123 271h1M135 284h1M129 292h1M115 289h1M123 276h1M124 267h1M116 271h1M147 268h1M125 266h1M133 263h1M125 269h1M140 278h1M114 257h1M126 277h1M136 263h1M148 264h1M141 285h1M143 268h1M132 245h1M106 258h1M133 280h1M124 280h1M132 286h1M108 255h1M115 252h1M143 253h1M117 260h1M135 260h1M133 273h1M119 234h1M116 249h1M143 256h1M114 271h1M126 253h1M137 278h1M129 256h1M116 238h1M130 271h1M116 266h1M161 251h1M107 274h1M121 259h1M132 264h1M136 273h1M138 267h1M102 284h1M107 280h1M128 247h1M126 277h1M114 266h1M118 252h1M119 283h1M133 265h1M125 267h1M129 268h1M107 278h1M116 231h1M133 250h1M124 264h1M119 273h1M123 262h1M115 262h1M114 266h1M140 279h1M130 248h1M137 278h1M148 236h1M126 261h1M137 251h1M121 297h1M136 239h1M126 284h1M119 274h1M127 246h1M119 281h1M138 258h1M138 256h1M128 265h1M112 270h1M121 229h1M117 254h1M116 253h1M118 233h1M135 267h1M128 262h1M126 262h1M114 245h1M126 279h1M128 287h1M111 262h1M119 282h1M144 259h1M133 262h1M115 264h1M114 286h1M132 281h1M129 233h1M134 267h1M136 288h1M114 276h1M129 263h1M122 273h1M132 274h1M121 248h1M140 283h1M119 265h1M134 242h1M131 298h1M128 256h1M148 266h1M128 260h1M127 242h1M112 246h1M135 264h1M138 238h1M119 285h1M117 241h1M117 261h1M125 283h1M140 286h1M132 259h1M120 246h1M139 282h1M126 254h1M133 272h1M127 250h1M128 258h1M133 274h1M130 260h1M142 276h1M139 277h1M133 271h1M114 241h1M115 274h1M135 268h1M126 290h1M121 242h1M109 261h1M133 275h1M123 276h1M125 256h1M121 276h1M136 250h1M115 267h1M148 250h1M112 271h1M131 257h1M125 272h1M107 265h1M132 278h1M138 265h1M110 284h1M134 257h1M137 279h1M124 234h1M120 255h1M116 264h1M114 271h1M146 250h1M137 258h1M131 264h1M139 256h1M133 255h1M128 265h1M137 244h1M111 284h1M130 288h1M114 268h1M132 289h1M125 259h1M133 264h1M117 276h1M105 252h1M140 259h1M122 270h1M138 273h1M115 258h1M137 264h1M119 277h1M138 295h1M114 256h1M118 270h1M120 280h1M119 262h1M132 268h1M115 286h1M132 259h1M128 251h1M112 261h1M129 267h1M117 247h1M107 287h1M129 255h1M138 273h1M121 257h1M138 270h1M143 270h1M119 257h1M118 269h1M128 274h1M130 251h1M123 253h1M131 248h1M119 254h1M119 262h1M142 262h1M110 261h1M134 273h1M128 292h1M137 267h1M139 248h1M124 254h1M127 287h1M120 287h1M115 285h1M107 254h1M136 264h1M127 265h1M127 263h1M115 262h1M127 253h1M130 289h1M108 258h1M123 266h1M127 256h1M125 266h1M125 286h1M127 246h1M109 273h1M122 257h1M111 261h1M125 256h1M122 277h1M134 273h1M124 247h1M134 286h1M139 281h1M128 271h1M125 282h1M123 294h1M134 261h1M125 244h1M118 261h1M152 255h1M135 267h1M122 274h1M104 278h1M146 269h1M125 268h1M133 259h1M127 272h1M122 271h1M129 275h1M115 258h1M121 282h1M128 243h1M112 292h1M129 248h1M116 267h1M141 287h1M122 261h1M146 252h1M142 270h1M127 283h1M131 254h1M109 266h1M131 284h1M132 286h1M134 268h1M130 271h1M119 264h1M127 259h1M110 246h1M131 273h1M127 250h1M135 260h1M103 287h1M110 296h1M131 260h1M141 284h1M128 242h1M121 262h1M130 264h1M129 244h1M119 285h1M110 278h1M150 274h1M111 282h1M106 270h1M121 282h1M138 268h1M145 279h1M120 252h1M152 260h1M130 264h1M120 244h1M124 264h1M136 259h1M109 251h1M125 269h1M133 260h1M131 267h1M144 265h1M127 273h1M139 253h1M120 262h1M103 283h1M137 266h1M161 283h1M147 287h1M135 246h1M142 271h1M113 266h1M134 279h1M127 258h1M134 255h1M125 276h1M110 271h1M105 253h1M112 264h1M133 265h1M135 267h1M123 272h1M123 267h1M137 258h1M138 251h1M123 242h1M120 287h1M129 283h1M110 252h1M130 277h1M134 243h1M131 265h1M127 272h1M123 243h1M114 246h1M111 264h1M139 256h1M117 250h1M107 266h1M120 262h1M115 272h1M113 273h1M118 276h1M116 271h1M130 264h1M143 268h1M116 275h1M117 258h1M126 268h1M144 242h1M123 281h1M124 270h1M142 249h1M126 276h1M119 242h1M115 268h1M128 290h1M140 245h1M137 278h1M143 263h1M120 267h1M142 274h1M144 276h1M119 252h1M145 245h1M122 261h1M116 258h1M126 298h1M125 258h1M127 278h1M117 260h1M107 275h1M133 286h1M113 295h1M135 262h1M121 261h1M112 276h1M119 256h1M131 267h1M119 262h1M120 284h1M136 256h1M125 284h1M122 290h1M130 275h1M103 277h1M129 273h1M131 273h1M120 278h1M126 251h1M115 268h1M129 236h1M103 280h1M109 262h1M119 273h1M141 287h1M115 282h1M112 270h1M127 274h1M117 284h1M125 265h1M123 251h1M133 270h1M130 291h1M116 262h1M126 277h1M124 278h1M130 242h1M118 238h1M122 260h1M132 268h1M125 283h1M132 249h1M118 270h1M144 263h1M124 269h1M134 264h1M129 260h1M120 255h1M133 258h1M131 271h1M136 229h1M115 249h1M124 276h1M153 286h1M140 271h1M121 273h1M102 278h1M126 274h1M114 251h1M119 265h1M129 261h1M129 275h1M113 264h1M109 258h1M135 256h1M146 272h1M135 267h1M135 280h1M127 258h1M120 292h1M124 259h1M118 243h1M120 270h1M120 255h1M130 272h1M121 270h1M115 277h1M115 261h1M127 260h1M113 294h1M142 242h1M127 248h1M129 248h1M132 273h1M144 282h1M121 278h1M121 264h1M120 242h1M132 238h1M123 273h1M127 244h1M119 275h1M137 287h1M106 272h1M120 276h1M107 264h1M133 257h1M122 252h1M137 247h1M116 261h1M122 294h1M128 254h1M132 270h1M129 265h1M130 250h1M113 260h1M114 275h1M146 282h1M130 270h1M118 248h1M131 245h1M129 264h1M134 266h1" stroke="#ee1530" stroke-width="1" stroke-opacity="0.2" fill="none"/>
<path transform="translate(0 0.5)" d="M141 239h1M118 230h1M144 252h1M158 244h1M125 240h1M126 254h1M146 235h1M127 247h1M115 232h1M117 243h1M136 233h1M119 228h1M108 224h1M165 255h1M138 233h1M144 241h1M124 245h1M146 239h1M157 250h1M144 245h1M151 252h1M132 244h1M133 240h1M162 245h1M127 233h1M129 246h1M113 245h1M159 248h1M142 241h1M145 249h1M146 250h1M163 252h1M148 244h1M138 243h1M137 243h1M128 236h1M134 231h1M131 235h1M141 232h1M138 234h1M128 238h1M151 250h1M134 236h1M159 240h1M157 239h1M131 238h1M131 250h1M145 244h1M150 247h1M125 243h1M154 258h1M119 246h1M131 244h1M147 262h1M121 226h1M152 251h1M142 223h1M144 243h1M109 224h1M138 243h1M149 244h1M128 234h1M115 223h1M165 249h1M132 252h1M151 248h1M148 244h1M125 242h1M136 251h1M136 238h1M143 242h1M137 235h1M141 245h1M161 252h1M115 234h1M168 252h1M129 236h1M104 223h1M140 232h1M148 240h1M117 227h1M141 256h1M154 250h1M133 237h1M152 244h1M141 249h1M129 233h1M144 244h1M138 238h1M133 252h1M160 240h1M139 242h1M143 234h1M136 242h1M129 239h1M112 219h1M139 244h1M138 238h1M138 249h1M150 246h1M130 245h1M143 250h1M137 235h1M143 239h1M151 253h1M110 233h1M152 255h1M135 234h1M148 253h1M142 235h1M119 234h1M130 233h1M141 250h1M115 226h1M155 249h1M133 243h1M128 228h1M135 251h1M151 247h1M152 245h1M128 225h1M139 248h1M143 243h1M131 245h1M142 233h1M157 246h1M143 244h1M151 249h1M153 250h1M134 236h1M149 240h1M151 246h1M129 231h1M132 251h1M148 246h1M122 247h1M135 240h1M130 247h1M142 240h1M143 237h1M126 234h1M166 247h1M141 232h1M140 244h1M151 238h1M133 234h1M129 253h1M136 240h1M130 243h1M167 263h1M160 244h1M152 248h1M151 255h1M151 236h1M142 239h1M144 244h1M156 238h1M129 237h1M144 241h1M138 242h1M152 247h1M146 232h1M110 218h1M149 230h1M144 243h1M141 237h1M131 244h1M143 243h1M132 240h1M153 248h1M137 233h1M142 237h1M118 238h1M136 226h1M125 248h1M141 233h1M123 239h1M143 245h1M135 243h1M156 253h1M140 232h1M140 253h1M150 238h1M137 250h1M129 241h1M149 258h1M123 222h1M141 248h1M134 239h1M130 246h1M110 230h1M124 230h1M122 227h1M138 242h1M161 251h1M142 246h1M138 252h1M140 243h1M137 241h1M135 247h1M139 242h1M136 246h1M130 244h1M129 242h1M162 254h1M141 234h1M148 246h1M152 243h1M140 255h1M144 242h1M122 234h1M145 249h1M127 229h1M129 230h1M134 241h1M162 254h1M161 240h1M156 255h1M142 249h1M141 256h1M153 236h1M112 241h1M134 249h1M136 236h1M133 241h1M143 239h1M144 248h1M130 230h1M115 228h1M141 238h1M131 237h1M137 245h1M148 249h1M155 242h1M145 247h1M127 231h1M144 245h1M124 231h1M155 255h1M136 250h1M128 235h1M151 245h1M123 238h1M165 236h1M144 235h1M139 232h1M173 253h1M141 238h1M127 233h1M136 253h1M138 252h1M125 236h1M137 230h1M144 239h1M134 232h1M152 245h1M136 242h1M122 236h1M135 243h1M134 239h1M142 250h1M127 243h1M127 235h1M140 243h1M110 221h1M134 246h1M126 246h1M116 231h1M145 245h1M139 248h1M127 240h1M152 246h1M113 221h1M131 230h1M146 239h1M168 259h1M123 232h1M156 254h1M123 242h1M127 252h1M130 242h1M147 242h1M133 247h1M145 244h1M139 254h1M149 250h1M147 234h1M142 239h1M149 242h1M147 238h1M152 242h1M137 245h1M134 240h1M147 258h1M118 226h1M144 251h1M132 239h1M130 254h1M139 233h1M122 225h1M156 247h1M161 257h1M142 247h1M146 251h1M128 233h1M131 239h1M139 233h1M125 248h1M167 249h1M143 244h1M126 241h1M133 251h1M145 242h1M106 225h1M151 242h1M148 251h1M117 230h1M140 248h1M140 242h1M135 238h1M141 235h1M147 243h1M146 242h1M143 245h1M148 249h1M151 246h1M139 240h1M123 233h1M150 252h1M127 238h1M152 238h1M142 245h1M147 247h1M122 220h1M164 251h1M151 256h1M143 235h1M156 249h1M144 247h1M148 253h1M125 225h1M140 242h1M149 245h1M131 252h1M153 256h1M154 243h1M138 241h1M127 230h1M144 235h1M144 247h1M136 238h1M145 248h1M146 237h1M113 244h1M131 236h1M118 226h1M127 242h1M109 218h1M135 236h1M130 234h1M118 234h1M153 249h1M128 246h1M147 238h1M133 235h1M135 248h1M130 237h1M143 235h1M131 242h1M158 237h1M148 244h1M153 253h1M162 255h1M136 234h1M119 236h1M143 249h1M147 235h1M134 238h1M138 247h1M156 251h1M115 224h1M114 225h1M123 236h1M133 247h1M153 245h1M150 247h1M141 252h1M124 234h1M160 246h1M141 244h1M137 232h1M133 232h1M151 249h1M151 239h1M144 245h1M154 243h1M145 254h1M164 247h1M128 226h1M149 251h1M145 238h1M150 258h1M138 241h1M152 251h1M156 247h1M144 242h1M132 236h1M134 243h1M135 240h1M132 230h1M159 244h1M159 258h1M112 224h1M133 239h1M138 237h1M155 248h1M152 243h1M126 245h1M138 234h1M134 247h1M138 236h1M144 251h1M137 238h1M127 255h1M131 250h1M136 243h1M113 231h1M140 240h1M137 231h1M119 234h1M131 237h1M138 238h1M124 248h1M126 232h1M138 233h1M124 241h1M150 248h1M177 265h1M156 244h1M148 258h1M129 250h1M131 230h1M140 237h1M149 239h1M145 231h1M135 247h1M134 242h1M155 242h1M122 235h1M143 242h1M123 243h1M125 233h1M136 245h1M135 234h1M166 248h1M149 245h1M133 238h1M134 242h1M107 227h1M142 236h1M127 253h1M160 256h1M142 241h1M157 247h1M126 241h1M129 231h1M161 241h1M137 242h1M146 235h1M137 238h1M160 259h1M127 242h1M147 245h1M136 239h1M121 229h1M146 255h1M163 250h1M153 231h1M139 233h1M153 237h1M128 229h1M141 249h1M122 247h1M143 238h1M143 243h1M148 248h1M163 261h1M128 242h1M151 240h1M131 233h1M106 231h1M133 247h1M131 239h1M145 251h1M145 237h1M164 259h1M151 259h1M155 252h1M143 248h1M118 237h1M125 238h1M124 240h1M126 253h1M140 246h1M128 235h1M139 240h1M135 234h1M149 244h1M127 239h1M129 236h1M135 233h1M138 236h1M122 236h1M139 231h1M133 240h1M143 246h1M140 246h1M135 234h1M147 243h1M137 245h1M147 254h1M131 235h1M149 237h1M121 238h1M133 233h1M147 249h1M151 245h1M136 238h1M148 232h1M128 242h1M129 237h1M139 245h1M136 232h1M172 252h1M165 241h1M141 241h1M157 264h1M154 241h1M131 233h1M131 240h1M129 236h1M153 258h1M118 225h1M130 247h1M129 251h1M139 252h1M129 235h1M150 251h1M116 229h1M139 246h1M126 248h1M137 251h1M143 244h1M138 233h1M147 251h1M151 245h1M127 234h1M135 240h1M153 242h1M131 243h1M144 259h1M147 240h1M128 231h1M139 243h1M139 238h1M137 240h1M146 245h1M132 230h1M157 250h1M137 240h1M154 246h1M141 241h1M149 239h1M138 249h1M152 252h1M138 252h1M144 254h1M127 228h1M149 245h1M136 234h1M160 243h1M144 234h1M131 253h1M170 253h1M122 245h1M133 226h1M146 237h1M118 240h1M132 231h1M141 241h1M152 249h1M155 257h1M158 258h1M138 245h1M143 233h1M122 239h1M111 223h1M123 234h1M125 237h1M137 238h1M134 224h1M143 235h1M134 242h1M150 252h1M161 242h1M143 254h1M147 238h1M145 241h1M128 244h1M139 234h1M125 249h1M126 241h1M138 249h1M138 235h1M133 232h1M170 258h1M131 247h1M147 244h1M146 247h1M148 258h1M135 240h1M133 248h1M141 248h1M152 243h1M137 250h1M148 252h1M136 238h1M129 235h1M142 233h1M155 244h1M140 246h1M137 228h1M150 250h1M133 247h1M152 241h1M142 231h1M132 248h1M126 241h1M121 231h1M146 257h1M142 249h1M166 238h1M113 243h1M168 259h1M139 243h1M141 238h1M139 241h1M145 249h1M149 251h1M123 244h1M105 227h1M144 241h1M165 246h1M126 232h1M142 249h1M138 246h1M132 234h1M144 235h1M142 240h1M150 240h1M134 235h1M137 234h1M139 232h1M144 249h1M139 240h1M130 231h1M138 235h1M124 236h1M140 239h1M129 237h1M131 235h1M139 247h1M150 243h1M157 242h1M133 248h1M168 256h1M135 237h1M124 234h1M135 235h1M156 244h1M157 256h1M148 242h1M138 227h1M143 242h1M145 240h1M149 236h1M111 232h1M160 230h1M155 247h1M141 232h1M125 240h1M130 237h1M132 252h1M153 239h1M136 232h1M123 230h1M152 248h1M147 245h1M133 240h1M133 252h1M160 254h1M151 234h1M131 255h1M127 242h1M155 246h1M137 238h1M148 246h1M154 257h1M132 256h1M137 236h1M138 235h1M134 239h1M154 238h1M124 229h1M134 242h1M125 246h1M133 237h1M136 249h1M142 243h1M132 239h1M145 242h1M143 231h1M129 245h1M156 249h1M107 240h1M130 255h1M131 245h1M127 246h1M156 242h1M147 265h1M139 233h1M143 241h1M123 227h1M146 234h1M151 250h1M133 249h1M126 240h1M123 232h1M148 242h1M136 245h1M154 258h1M145 243h1M116 243h1M167 240h1M149 246h1M146 247h1M136 240h1M135 248h1M137 237h1M145 249h1M143 246h1M154 256h1M142 242h1M152 235h1M134 235h1M142 240h1M167 260h1M138 257h1M139 240h1M151 253h1M147 254h1M136 236h1M130 238h1M154 241h1M136 231h1M161 258h1M145 236h1M128 232h1M142 234h1M133 247h1M139 242h1M114 228h1M139 237h1M122 233h1M128 233h1M119 232h1M152 242h1M147 235h1M144 248h1M132 244h1M128 237h1M159 251h1M122 242h1M146 243h1M121 220h1M116 241h1M144 238h1M149 257h1M127 240h1M118 234h1M165 244h1M141 238h1M137 242h1M140 248h1M142 250h1M148 254h1M129 240h1M136 235h1M162 254h1M145 230h1M134 245h1M138 237h1M157 248h1M135 239h1M133 246h1M146 244h1M135 238h1M160 249h1M151 236h1M141 247h1M153 251h1M145 247h1M146 259h1M143 238h1M146 244h1M144 250h1M142 240h1M146 236h1M144 238h1M144 245h1M139 233h1M141 238h1M135 245h1M154 240h1M146 255h1M152 250h1M133 251h1M139 231h1M139 244h1M129 229h1M162 253h1M150 243h1M121 232h1M157 245h1M117 230h1M135 240h1M127 234h1M130 244h1M138 247h1M144 229h1M113 234h1M147 252h1M143 231h1M132 241h1M156 247h1M134 234h1M149 252h1M113 238h1M131 228h1M121 228h1M160 269h1M125 231h1M139 245h1M137 230h1M135 235h1M116 232h1M126 223h1M155 256h1M156 250h1M134 239h1M120 238h1M143 241h1M116 230h1M155 259h1M150 245h1M139 246h1M138 249h1M137 224h1M112 223h1M120 238h1M152 248h1M145 245h1M142 240h1M131 246h1M135 240h1M151 254h1M133 241h1M126 237h1M142 243h1M140 245h1M110 222h1M141 239h1M128 235h1M159 249h1M132 235h1M123 238h1M124 241h1M148 250h1M151 247h1M117 231h1M151 236h1M121 241h1M140 252h1M147 246h1M142 249h1M139 240h1M143 242h1" stroke="#ee1530" stroke-width="1" stroke-opacity="0.3" fill="none"/>
<path transform="translate(0 0.5)" d="M158 234h1M122 225h1M145 233h1M137 233h1M139 227h1M136 231h1M145 238h1M124 227h1M139 239h1M142 234h1M147 225h1M131 228h1M125 234h1M137 235h1M133 236h1M143 232h1M145 231h1M153 231h1M133 228h1M134 239h1M127 240h1M148 237h1M129 236h1M108 225h1M144 235h1M159 235h1M123 230h1M139 242h1M118 231h1M148 233h1M132 227h1M142 238h1M140 235h1M145 234h1M141 238h1M147 238h1M135 237h1M122 223h1M150 237h1M125 229h1M134 233h1M127 236h1M117 243h1M123 239h1M143 227h1M123 232h1M138 232h1M135 234h1M124 232h1M157 234h1M125 235h1M147 240h1M129 232h1M137 233h1M138 239h1M140 234h1M132 241h1M122 240h1M142 235h1M126 240h1M146 239h1M156 229h1M136 232h1M128 232h1M140 237h1M135 227h1M140 237h1M155 241h1M136 228h1M162 235h1M136 237h1M139 240h1M126 229h1M138 228h1M128 238h1M138 233h1M129 233h1M136 229h1M144 229h1M148 234h1M114 223h1M138 230h1M152 242h1M155 241h1M149 233h1M148 234h1M136 227h1M135 235h1M135 228h1M143 239h1M134 237h1M145 231h1M136 225h1M125 233h1M126 234h1M140 225h1M129 239h1M135 234h1M129 225h1M117 243h1M134 229h1M138 225h1M147 243h1M127 233h1M126 236h1M127 231h1M147 238h1M133 226h1M118 236h1M140 234h1M147 236h1M128 232h1M134 233h1M159 240h1M138 233h1M129 228h1M117 228h1M122 223h1M127 223h1M148 241h1M124 241h1M143 223h1M136 229h1M118 229h1M146 237h1M121 228h1M127 237h1M135 229h1M128 223h1M126 236h1M116 231h1M133 237h1M123 235h1M149 246h1M119 230h1M133 233h1M125 235h1M157 244h1M126 229h1M142 235h1M127 237h1M139 239h1M132 239h1M131 228h1M136 227h1M147 239h1M118 231h1M144 233h1M140 231h1M134 233h1M141 230h1M124 233h1M130 235h1M131 227h1M142 236h1M142 233h1M130 238h1M117 238h1M140 234h1M135 236h1M127 233h1M127 223h1M137 234h1M141 237h1M141 238h1M124 237h1M162 235h1M122 234h1M143 239h1M151 230h1M138 236h1M148 232h1M135 232h1M133 232h1M135 225h1M135 234h1M134 217h1M129 229h1M125 239h1M144 234h1M138 249h1M125 234h1M128 239h1M146 235h1M142 231h1M119 234h1M151 235h1M131 224h1M157 232h1M125 231h1M147 236h1M135 233h1M143 235h1M137 233h1M123 237h1M129 226h1M131 233h1M144 228h1M122 232h1M140 229h1M124 232h1M135 226h1M125 238h1M124 236h1M119 237h1M151 233h1M128 235h1M122 234h1M147 237h1M138 233h1M145 231h1M151 236h1M133 225h1M130 234h1M149 228h1M134 230h1M123 231h1M127 236h1M108 232h1M118 221h1M140 233h1M137 229h1M125 228h1M135 229h1M131 229h1M138 229h1M116 218h1M135 234h1M145 232h1M125 225h1M143 232h1M145 235h1M134 225h1M128 236h1M128 235h1M118 235h1M162 243h1M139 228h1M130 229h1M138 225h1M126 235h1M136 237h1M144 230h1M121 233h1M135 234h1M126 236h1M139 239h1M131 236h1M135 229h1M135 226h1M133 234h1M143 230h1M122 228h1M115 227h1M161 239h1M128 229h1M153 231h1M134 233h1M128 229h1M119 227h1M147 242h1M132 236h1M139 235h1M133 238h1M141 233h1M132 237h1M130 229h1M133 231h1M147 237h1M134 231h1M149 238h1M155 241h1M133 230h1M132 234h1M142 237h1M152 229h1M136 227h1M125 229h1M129 228h1M119 236h1M131 237h1M126 221h1M128 236h1M129 234h1M123 238h1M138 239h1M131 239h1M136 231h1M129 232h1M127 226h1M136 237h1M131 237h1M152 230h1M138 229h1M128 233h1M111 232h1M143 237h1M140 242h1M130 238h1M149 238h1M117 229h1M133 226h1M134 237h1M132 232h1M150 233h1M126 232h1M146 238h1M136 231h1M146 239h1M118 232h1M110 236h1M141 232h1M122 230h1M117 233h1M131 225h1M134 239h1M123 230h1M153 237h1M129 233h1M143 230h1M135 226h1M120 224h1M143 236h1M141 240h1M135 234h1M139 236h1M125 230h1M133 233h1M128 231h1M138 235h1M140 238h1M140 239h1M142 241h1M142 232h1M157 242h1M147 239h1M136 228h1M139 232h1M133 223h1M151 231h1M124 233h1M141 231h1M135 234h1M136 236h1M143 233h1M117 240h1M132 228h1M142 237h1M127 243h1M111 235h1M134 235h1M138 233h1M139 228h1M130 241h1M108 234h1M113 226h1M144 233h1M130 226h1M134 232h1M130 225h1M136 235h1M146 238h1M149 241h1M106 236h1M135 228h1M138 238h1M121 225h1M142 232h1M149 237h1M130 226h1M142 227h1M123 225h1M150 244h1M133 231h1M141 240h1M125 242h1M132 238h1M112 229h1M126 241h1M134 227h1M155 234h1M136 228h1M141 235h1M132 231h1M130 229h1M120 236h1M145 229h1M123 233h1M157 236h1M132 232h1M137 233h1M145 240h1M139 241h1M133 230h1M166 230h1M121 220h1M139 229h1M147 226h1M134 231h1M123 236h1M131 235h1M130 233h1M130 233h1M134 230h1M139 233h1M126 227h1M138 240h1M122 229h1M139 239h1M143 229h1M135 237h1M137 233h1M123 232h1M134 233h1M149 241h1M127 233h1M132 233h1M150 240h1M136 230h1M133 235h1M129 237h1M136 228h1M157 224h1M132 232h1M144 240h1M148 243h1M138 234h1M145 235h1M123 229h1M141 237h1M123 237h1M139 227h1M139 239h1M140 233h1M126 237h1M137 234h1M132 228h1M117 228h1M145 239h1M127 239h1M133 228h1M143 241h1M132 227h1M136 222h1M134 240h1M138 231h1M142 232h1M148 234h1M155 235h1M138 229h1M122 233h1M139 230h1M141 232h1M129 232h1M138 237h1M147 237h1M128 229h1M139 229h1M134 231h1M134 234h1M144 242h1M143 239h1M124 236h1M149 230h1M160 235h1M110 237h1M136 230h1M128 237h1M138 232h1M147 231h1M127 229h1M127 235h1M133 228h1M132 224h1M136 234h1M141 233h1M140 230h1M135 234h1M122 234h1M136 234h1M129 241h1M136 230h1M126 234h1M133 229h1M127 236h1M135 238h1M136 228h1M143 236h1M129 231h1M125 235h1M130 235h1M138 233h1M139 233h1M124 229h1M123 235h1M142 232h1M141 235h1M145 231h1M136 229h1M127 238h1M116 226h1M139 238h1M129 223h1M118 232h1M145 239h1M127 238h1M133 236h1M132 240h1M131 223h1M132 234h1M138 231h1M134 228h1M133 233h1M136 241h1M115 232h1M140 229h1M136 233h1M124 235h1M153 240h1M142 239h1M133 237h1M127 233h1M141 240h1M132 232h1M140 234h1M136 237h1M127 236h1M139 233h1M123 228h1M134 237h1M115 233h1M138 229h1M143 237h1M140 230h1M123 235h1M148 237h1M133 231h1M117 235h1M133 239h1M127 237h1M127 235h1M149 233h1M144 235h1M126 233h1M142 231h1M133 230h1M128 231h1M143 233h1M147 234h1M127 237h1M149 233h1M142 229h1M131 231h1M143 229h1M130 229h1M137 228h1M120 243h1M138 227h1M144 229h1M115 237h1M148 232h1M124 234h1M154 239h1M142 229h1M117 232h1M145 236h1M134 239h1M126 237h1M143 232h1M136 234h1M141 230h1M133 233h1M135 233h1M137 233h1M129 237h1M129 231h1M127 227h1M139 234h1M133 235h1M133 236h1M152 238h1M131 240h1M143 227h1M148 236h1M144 230h1M127 229h1M141 229h1M127 236h1M129 233h1M127 224h1M134 233h1M120 235h1M142 239h1M131 227h1M134 234h1M134 230h1M126 228h1M134 231h1M151 235h1M140 232h1M134 229h1M131 226h1M114 236h1M124 233h1M134 231h1M142 232h1M139 232h1M144 239h1M135 238h1M139 241h1M135 226h1M137 235h1M132 232h1M133 227h1M152 233h1M126 225h1M127 232h1M149 238h1M129 227h1M124 231h1M144 233h1M149 244h1M138 224h1M145 235h1M141 239h1M125 232h1M137 230h1M142 234h1M130 241h1M135 241h1M133 238h1M128 233h1M147 226h1M140 233h1M145 236h1M135 228h1M164 235h1M132 230h1M132 234h1M121 236h1M132 235h1M115 227h1M132 231h1M128 233h1M140 230h1M115 233h1M131 237h1M143 234h1M121 229h1M127 237h1M118 234h1M120 228h1M122 228h1M130 234h1M129 235h1M152 237h1M124 231h1M134 232h1M145 240h1M154 239h1M109 228h1M142 231h1M128 236h1M137 229h1M132 219h1M136 228h1M135 228h1M126 229h1M163 233h1M124 229h1M144 239h1M142 233h1M137 230h1M134 229h1M122 226h1M153 238h1M128 232h1M130 238h1M135 230h1M141 236h1M129 229h1M137 226h1M125 236h1M142 240h1M131 230h1M133 231h1M147 234h1M148 232h1M137 241h1M128 229h1M130 225h1M132 230h1M156 235h1M114 234h1M144 235h1M137 237h1M129 232h1M135 241h1M148 236h1M121 235h1M133 238h1M135 234h1M142 231h1M127 242h1M126 236h1M141 238h1M149 230h1M146 226h1M135 235h1M144 240h1M126 230h1M134 230h1M127 229h1M145 241h1M141 242h1M136 229h1M128 233h1M144 240h1M125 236h1M129 235h1M142 241h1M130 233h1M139 232h1M135 236h1M120 228h1M157 239h1M131 224h1M125 234h1M141 236h1M141 232h1M151 231h1M140 233h1M118 234h1M132 236h1M147 236h1M129 231h1M133 239h1M142 242h1M143 231h1M143 239h1M133 235h1M133 227h1M133 236h1M133 223h1M126 237h1M136 239h1M128 230h1M126 228h1M140 235h1M130 234h1M123 229h1M122 224h1M123 226h1M149 242h1M147 233h1M142 229h1M129 233h1M119 231h1M142 225h1M112 228h1M133 234h1M123 234h1M136 230h1M150 237h1M140 243h1M130 231h1M118 229h1M137 245h1M140 235h1M123 227h1M118 224h1M136 235h1M126 231h1M127 235h1M141 232h1M131 227h1M129 242h1M134 237h1M139 241h1M132 229h1M144 239h1M128 237h1M135 233h1M152 239h1M138 232h1M136 238h1M140 231h1M139 234h1M138 233h1M115 223h1M133 223h1M119 240h1M142 232h1M140 224h1M136 238h1M138 228h1M144 233h1M129 233h1M130 242h1M132 242h1M140 229h1M135 233h1M148 241h1M160 235h1M129 243h1M126 233h1M151 232h1M132 229h1M139 236h1M134 236h1M127 230h1M138 243h1M134 233h1M147 236h1M147 237h1M146 236h1M127 228h1M137 242h1M153 235h1M160 233h1M126 236h1M119 235h1M138 237h1M123 233h1M144 235h1M145 235h1M138 232h1M122 230h1M140 231h1M117 223h1M148 235h1M126 237h1M134 226h1M131 229h1M134 229h1M135 235h1M129 231h1M133 237h1M127 235h1M147 235h1M126 230h1M118 228h1M123 230h1M131 235h1M136 235h1M134 234h1M123 234h1M146 240h1M121 233h1M118 234h1M133 231h1M128 231h1M135 229h1M135 235h1M140 234h1M133 244h1M144 236h1M121 234h1M142 222h1M133 235h1M135 234h1M132 239h1M139 233h1M131 242h1M127 229h1M138 234h1M137 240h1M145 237h1M135 233h1M132 237h1M123 227h1M131 228h1M127 237h1M113 232h1M122 230h1M130 228h1M120 231h1M108 219h1M130 237h1M153 235h1M127 231h1M139 238h1M125 234h1M134 238h1M131 232h1M128 226h1M137 237h1M145 236h1M131 228h1M124 228h1M138 234h1M113 229h1M133 228h1M134 236h1M126 226h1M131 234h1M131 240h1M137 229h1M143 232h1M141 235h1" stroke="#ee1530" stroke-width="1" stroke-opacity="0.45" fill="none"/>
<path transform="translate(0 0.5)" d="M160 239h1M157 248h1M147 250h1M166 248h1M148 244h1M160 247h1M161 241h1M160 235h1M151 243h1M150 253h1M149 248h1M163 251h1M150 241h1M141 248h1M158 253h1M154 259h1M157 230h1M147 250h1M150 251h1M168 240h1M166 245h1M144 246h1M158 242h1M162 240h1M151 251h1M151 242h1M152 250h1M163 254h1M164 245h1M143 245h1M150 239h1M149 245h1M153 251h1M147 253h1M153 250h1M160 237h1M162 241h1M155 252h1M158 235h1M153 253h1M152 245h1M153 256h1M149 239h1M146 242h1M151 248h1M152 234h1M143 250h1M157 236h1M158 229h1M166 249h1M143 249h1M152 242h1M150 244h1M152 239h1M149 249h1M156 237h1M150 255h1M157 256h1M144 239h1M139 233h1M150 238h1M146 241h1M151 251h1M156 234h1M161 243h1M146 245h1M150 236h1M162 242h1M149 249h1M163 248h1M147 248h1M159 248h1M156 242h1M152 234h1M148 238h1M153 255h1M139 237h1M147 245h1M159 240h1M148 253h1M155 249h1M157 240h1M154 241h1M148 246h1M155 237h1M148 249h1M153 250h1M151 240h1M157 249h1M135 251h1M148 250h1M162 243h1M147 247h1M153 249h1M144 247h1M158 250h1M156 253h1M148 253h1M154 239h1M151 247h1M154 254h1M154 242h1M166 243h1M148 251h1M150 240h1M146 253h1M146 246h1M150 244h1M148 246h1M156 252h1M150 238h1M144 245h1M138 254h1M153 246h1M144 241h1M148 250h1M150 249h1M156 233h1M151 254h1M149 246h1M152 237h1M166 244h1M156 242h1M161 253h1M160 252h1M157 254h1M155 246h1M157 240h1M137 251h1M153 241h1M151 239h1M147 247h1M153 251h1M152 249h1M157 241h1M142 241h1M151 242h1M166 241h1M155 240h1M157 237h1M158 247h1M150 238h1M163 242h1M161 230h1M145 257h1M163 245h1M159 249h1M150 246h1M146 237h1M153 250h1M153 237h1M158 246h1M157 243h1M151 252h1M161 238h1M146 252h1M155 246h1M147 252h1M154 247h1M155 242h1M155 246h1M157 248h1M145 241h1M151 253h1M149 253h1M159 251h1M166 245h1M154 253h1M155 252h1M152 255h1M155 233h1M159 244h1M147 243h1M151 253h1M155 245h1M152 240h1M149 242h1M151 238h1M150 252h1M155 245h1M155 244h1M145 251h1M166 249h1M157 261h1M145 249h1M150 244h1M143 245h1M155 235h1M151 242h1M146 249h1M162 248h1M159 250h1M152 249h1M160 243h1M152 236h1M141 240h1M158 248h1M154 254h1M142 254h1M153 250h1M161 240h1M147 248h1M152 242h1M152 241h1M153 243h1M163 239h1M156 246h1M162 239h1M150 257h1M149 243h1M150 239h1M160 255h1M152 241h1M144 250h1M149 249h1M138 243h1M156 248h1M135 247h1M153 245h1M150 243h1M153 249h1M133 245h1M158 244h1M160 239h1M164 252h1M150 263h1M161 256h1M145 245h1M155 252h1M153 237h1M160 244h1M155 243h1M152 237h1M157 241h1M142 248h1M152 252h1M157 238h1M151 245h1M153 239h1M153 252h1M160 255h1M157 229h1M151 242h1M135 255h1M158 245h1M155 249h1M151 254h1M163 251h1M149 247h1M158 250h1M148 252h1M157 249h1M150 245h1M141 245h1M150 243h1M151 243h1M153 246h1M149 245h1M152 249h1M155 243h1M148 235h1M145 248h1M147 256h1M152 243h1M152 242h1M149 246h1M144 246h1M152 240h1M159 248h1M159 241h1M145 238h1M143 233h1M162 242h1M154 242h1M152 255h1M142 239h1M153 240h1M157 254h1M158 250h1M152 252h1M148 238h1M151 244h1M160 239h1M159 240h1M145 234h1M152 236h1M154 246h1M150 233h1M149 248h1M142 250h1M153 242h1M154 250h1M152 240h1M157 241h1M155 252h1M160 256h1M159 246h1M151 247h1M156 265h1M156 240h1M162 235h1M159 237h1M146 242h1M151 237h1M156 245h1M161 239h1M142 250h1M151 252h1M138 237h1M153 258h1M145 233h1M150 254h1M162 237h1M149 234h1M147 239h1M155 253h1M167 243h1M157 247h1M153 258h1M157 255h1M154 251h1M156 245h1M148 243h1M153 243h1M150 241h1M158 244h1M152 244h1M160 242h1M161 240h1M162 249h1M150 248h1M159 239h1M151 247h1M151 243h1M153 247h1M157 255h1M151 264h1M151 257h1M152 236h1M150 243h1M159 232h1M149 244h1M156 248h1M158 244h1M151 253h1M163 248h1M153 240h1M165 248h1M156 235h1M156 261h1M152 244h1M162 244h1M158 258h1M146 240h1M157 246h1M153 244h1M153 248h1M150 244h1M154 238h1M155 231h1M156 245h1M145 254h1M145 259h1M148 253h1M152 256h1M151 252h1M151 233h1M155 248h1M155 256h1M148 236h1M154 241h1M152 245h1M148 252h1M152 257h1M154 252h1M151 241h1M149 240h1M155 246h1M146 235h1M147 234h1M147 236h1M157 238h1M149 245h1M153 248h1M157 249h1M150 253h1M155 241h1M161 238h1M155 253h1M153 248h1M153 250h1M154 245h1M157 233h1M154 243h1M164 247h1M149 250h1M150 238h1M151 249h1M160 252h1M154 244h1M154 253h1M152 253h1M148 245h1M157 250h1M154 242h1M142 242h1M147 243h1M162 240h1M158 245h1M146 246h1M157 238h1M146 243h1M157 241h1M155 248h1M153 248h1M160 244h1M154 238h1M148 245h1M157 241h1M144 251h1M167 229h1M146 246h1M155 239h1M155 252h1M151 250h1M153 239h1M149 241h1M160 253h1M154 235h1M150 243h1M141 245h1M154 237h1M150 242h1M163 250h1M157 246h1M145 251h1M149 233h1M157 243h1M153 249h1M151 248h1M160 243h1M150 245h1M156 243h1M153 241h1M152 249h1M148 244h1M144 241h1M153 249h1M146 245h1M147 247h1M154 248h1M151 236h1M149 237h1M149 245h1M159 241h1M148 247h1M140 258h1M143 252h1M158 251h1M152 250h1M151 251h1M149 240h1M155 242h1M156 240h1M154 239h1M152 259h1M146 237h1M143 244h1M162 242h1M158 244h1M149 258h1M159 234h1M147 248h1M156 244h1M154 249h1M150 252h1M148 250h1M158 247h1M151 245h1M140 247h1M144 232h1M157 239h1M155 246h1M142 240h1M151 248h1M153 237h1M149 246h1M145 242h1M149 232h1M163 251h1M150 251h1M146 255h1M150 246h1M149 246h1M154 246h1M148 250h1M156 245h1M159 241h1M160 244h1M161 242h1M151 247h1M159 255h1M150 241h1M157 253h1M157 243h1M160 245h1M153 249h1M149 231h1M154 250h1M155 249h1M153 252h1M153 255h1M153 250h1M149 247h1M155 246h1M161 246h1M159 248h1M159 240h1M150 251h1M148 248h1M156 247h1M155 249h1M151 248h1M150 242h1M143 245h1M143 245h1M154 238h1M153 247h1M150 239h1M152 248h1M158 258h1M141 248h1M155 241h1M154 259h1M153 254h1M159 242h1M139 253h1M161 234h1M151 241h1M154 246h1M159 242h1M164 234h1M154 262h1M152 249h1M150 266h1M158 243h1M141 247h1M157 232h1M150 249h1M139 244h1M143 237h1M155 253h1M159 241h1M155 234h1M144 249h1M150 239h1M142 244h1M165 232h1M146 253h1M141 241h1M153 253h1M152 257h1M152 245h1M155 248h1M144 239h1M151 247h1M145 241h1M148 247h1M150 249h1M155 239h1M151 237h1M153 251h1M147 234h1M156 243h1M152 248h1M155 251h1M150 231h1M150 243h1M150 248h1M151 254h1M149 245h1M150 259h1M147 239h1M150 250h1M153 244h1M144 232h1M151 244h1M163 248h1M155 252h1M147 237h1M150 255h1M158 242h1M145 251h1M159 238h1M162 240h1M157 244h1M151 241h1M157 249h1M157 243h1M148 259h1M163 244h1M146 255h1M153 246h1M157 248h1M153 258h1M141 249h1M147 246h1M152 247h1M138 250h1M166 243h1M158 249h1M154 242h1M156 247h1M161 251h1M148 226h1M161 248h1M154 241h1M167 254h1M153 243h1M156 254h1M156 251h1M154 248h1M145 246h1M153 245h1M151 247h1M149 244h1M145 260h1M147 238h1M149 243h1M146 229h1M162 252h1M150 249h1M146 235h1M154 249h1M148 245h1M134 244h1M159 246h1M154 249h1M140 237h1M145 247h1M149 233h1M158 244h1M158 258h1M143 237h1M159 254h1M155 248h1M157 250h1M145 250h1M158 243h1M147 242h1M149 249h1M157 245h1M151 234h1M150 239h1M149 248h1M153 268h1M147 242h1M146 244h1M151 252h1M141 251h1M156 242h1M148 247h1M156 244h1M152 245h1M146 247h1M156 246h1M146 245h1M152 247h1M150 251h1M159 251h1M154 253h1M152 244h1M144 245h1M160 239h1M157 237h1M154 257h1M153 238h1M154 244h1M157 242h1M142 242h1M156 252h1M154 245h1M157 244h1M150 247h1M159 242h1M155 241h1M148 246h1M145 240h1M145 241h1M147 260h1M156 246h1M145 230h1M155 241h1M159 243h1M145 241h1M143 236h1M157 242h1M157 242h1M151 242h1M149 241h1" stroke="#ee1530" stroke-width="1" stroke-opacity="0.45" fill="none"/>
<ellipse cx="135.4" cy="234.2" rx="14" ry="6.5" fill="#ee1530" fill-opacity="0.8" transform="rotate(12 135.4 234.2)" filter="url(#b20)"/>
<ellipse cx="153.5" cy="245.5" rx="8.5" ry="9.5" fill="#ee1530" fill-opacity="0.8" transform="rotate(15 153.5 245.5)" filter="url(#b20)"/>
</g>
<rect x="102.00" y="214.40" width="83.40" height="85.20" fill="none" stroke="#8a8a8a" stroke-width="1.1"/>
<path d="M100.4 303.2l2.6 -1.4M121.2 303.2l2.6 -1.4M142.1 303.2l2.6 -1.4M163.0 303.2l2.6 -1.4M183.8 303.2l2.6 -1.4M97.4 298.0l1.6 2.2M97.4 276.7l1.6 2.2M97.4 255.4l1.6 2.2M97.4 234.1l1.6 2.2M97.4 212.8l1.6 2.2" stroke="#666" stroke-width="1.1" fill="none"/>
<path d="M102.0 226.2 L150.0 226.0 L160.0 234.0 L142.0 246.3 L102.0 240.0 Z" fill="none" stroke="#9a9a9a" stroke-width="0.8"/>
<path d="M142.0 246.3 L148.0 238.0 L154.6 233.0 L164.0 233.5 L170.6 239.2 L170.6 250.7 L160.0 263.0 L149.3 263.0 L142.0 255.0 Z" fill="none" stroke="#9a9a9a" stroke-width="0.8"/>
<path d="M104.5 262.0 L110.0 256.0 L120.0 253.4 L132.0 253.5 L139.0 258.0 L142.2 266.0 L142.2 284.0 L136.0 296.7 L108.6 296.7 L104.5 290.0 Z" fill="none" stroke="#9a9a9a" stroke-width="0.8"/>
<text transform="translate(108.00 225.60) scale(1 1.0)" font-size="10.2" fill="#1e1e1e" stroke="#1e1e1e" stroke-width="0.22" text-anchor="start" font-family='"Liberation Serif", serif' font-weight="normal" >49.5</text>
<text transform="translate(163.00 275.00) scale(1 1.0)" font-size="10.2" fill="#1e1e1e" stroke="#1e1e1e" stroke-width="0.22" text-anchor="start" font-family='"Liberation Serif", serif' font-weight="normal" >35.8</text>
<text transform="translate(152.50 296.20) scale(1 1.0)" font-size="10.2" fill="#1e1e1e" stroke="#1e1e1e" stroke-width="0.22" text-anchor="start" font-family='"Liberation Serif", serif' font-weight="normal" >7.3</text>
<text transform="translate(94.8 277.1) rotate(-90) scale(1 1.0)" stroke="#1e1e1e" stroke-width="0.22" font-size="10.3" fill="#1e1e1e" font-family='"Liberation Serif", serif'>CD21/35</text>
<text transform="translate(142.70 311.60) scale(1 1.0)" font-size="10.3" fill="#1e1e1e" stroke="#1e1e1e" stroke-width="0.22" text-anchor="middle" font-family='"Liberation Serif", serif' font-weight="normal" >CD23</text>
<text transform="translate(339.50 63.00) scale(1 1.0)" font-size="11.2" fill="#3434b4" stroke="#3434b4" stroke-width="0.22" text-anchor="start" font-family='"Liberation Serif", serif' xml:space="preserve"><tspan>B220</tspan><tspan dx="0.3" dy="-4.30" font-size="8.40">+</tspan><tspan dy="4.30" font-size="11.2"> Ly-5.1</tspan><tspan dx="0.3" dy="-4.30" font-size="8.40">-</tspan></text>
<clipPath id="c32974"><rect x="329.6" y="74.6" width="84.09999999999997" height="84.5"/></clipPath>
<g clip-path="url(#c32974)">
<ellipse cx="352" cy="136" rx="16" ry="18" fill="#0c0cd8" fill-opacity="0.09" transform="rotate(0 352 136)" filter="url(#b40)"/>
<ellipse cx="364" cy="96" rx="14" ry="7" fill="#0c0cd8" fill-opacity="0.12" transform="rotate(0 364 96)" filter="url(#b30)"/>
<path transform="translate(0 0.5)" d="M411 130h1M362 154h1M340 136h1M383 77h1M368 85h1M412 83h1M382 120h1M340 152h1M377 126h1M352 88h1M357 78h1M347 116h1" stroke="#0c0cd8" stroke-width="1" stroke-opacity="0.3" fill="none"/>
<path transform="translate(0 0.5)" d="M336 147h1M355 141h1M334 132h1M348 142h1M358 143h1M336 149h1M351 145h1M350 126h1M379 142h1M359 129h1M348 148h1M355 155h1M364 122h1M334 148h1M357 132h1M347 128h1M370 133h1M335 145h1M349 139h1M346 134h1M330 141h1M343 130h1M354 149h1M356 146h1M340 138h1M355 145h1M344 132h1M345 148h1M362 129h1M349 137h1M340 133h1M360 144h1M343 127h1M349 118h1M354 136h1M336 132h1M343 131h1M341 150h1M340 143h1M353 151h1M350 135h1M351 113h1M377 132h1M347 122h1M349 153h1M342 140h1M362 145h1M346 115h1M355 141h1M347 130h1M370 116h1M345 128h1M333 127h1M342 149h1M331 119h1M353 117h1M337 123h1M349 140h1M343 131h1M358 133h1M358 128h1M356 149h1M347 131h1M349 140h1M337 135h1M344 151h1M331 142h1M347 126h1M352 132h1M351 137h1M363 130h1M369 104h1M370 148h1M367 137h1M353 123h1M365 121h1M342 135h1M353 139h1M338 131h1M356 148h1M359 139h1M347 128h1M345 134h1M356 129h1M373 123h1M359 132h1M349 130h1M367 131h1M356 136h1M359 141h1M368 126h1M341 154h1M364 135h1M347 138h1M365 126h1M366 134h1M346 130h1M336 128h1M340 137h1M358 135h1M352 139h1M368 141h1M368 134h1M354 127h1M357 125h1M355 128h1M346 148h1M352 144h1M348 114h1M366 133h1M343 145h1M338 126h1M363 127h1M363 131h1M348 135h1M345 147h1M362 135h1M357 141h1M369 117h1M362 145h1M347 135h1M347 149h1M338 142h1M364 141h1M345 129h1M362 124h1M332 132h1M334 140h1M341 145h1M349 119h1M342 127h1M341 149h1M339 139h1M344 141h1M335 117h1M356 151h1M335 131h1M345 124h1M361 135h1M335 132h1M365 127h1M345 125h1M352 128h1M360 125h1M334 140h1M353 137h1M344 130h1M341 133h1M345 141h1M350 141h1M368 132h1M347 139h1M373 131h1M369 148h1M340 139h1M365 135h1M341 153h1M345 107h1M341 129h1M350 143h1M358 141h1M342 155h1M363 135h1M344 134h1M348 127h1M350 127h1M357 127h1M356 138h1M352 141h1M343 143h1M351 130h1M369 147h1M347 141h1M358 153h1M361 133h1M348 122h1M353 144h1M346 142h1M352 129h1M337 147h1M378 141h1M339 123h1M353 142h1M367 107h1M371 137h1M352 139h1M346 131h1M362 115h1M349 141h1M332 133h1M367 139h1M358 143h1M353 139h1M341 132h1M371 121h1M349 120h1M345 126h1M337 137h1M340 141h1M370 106h1M349 111h1M349 139h1M353 148h1M352 115h1M367 124h1M349 138h1M341 136h1M367 115h1M332 130h1M349 120h1M355 120h1M357 134h1M352 119h1M348 140h1M331 123h1M361 157h1M358 134h1M339 130h1M348 140h1M365 110h1M338 135h1M361 139h1M365 141h1M379 144h1M356 152h1M346 128h1M339 137h1M355 145h1M366 142h1M364 132h1M340 143h1M362 150h1M349 129h1M346 139h1M350 133h1M353 131h1M354 128h1M333 131h1M371 125h1M361 150h1M344 138h1M367 137h1M342 136h1M354 130h1M347 125h1M357 137h1M354 129h1M356 131h1M354 133h1M343 122h1M330 119h1M332 125h1M348 121h1M364 121h1M349 127h1M359 118h1M354 137h1M357 140h1M352 114h1M347 124h1M356 132h1M352 147h1M349 154h1M360 117h1M344 149h1M345 148h1M344 133h1M362 116h1M351 129h1M352 154h1M356 119h1M361 129h1M352 148h1M347 146h1M352 124h1M347 119h1M364 136h1M361 122h1M360 121h1M354 134h1M344 138h1M351 124h1M342 119h1M366 136h1M346 143h1M341 121h1M354 153h1M354 136h1M370 117h1M384 122h1M350 119h1M337 132h1M377 124h1M344 138h1M339 132h1M360 109h1M347 131h1M345 133h1M331 129h1M345 123h1M359 124h1M366 140h1M342 142h1M344 141h1M361 148h1M339 133h1M351 120h1M355 143h1M335 128h1M338 120h1M339 150h1M343 130h1M361 146h1M366 110h1M359 114h1M344 130h1M344 157h1M349 148h1M349 134h1M356 140h1M356 114h1M356 138h1M357 134h1M355 119h1M363 120h1M366 146h1M350 131h1M359 131h1M337 138h1M337 129h1M370 144h1M346 134h1M343 134h1M335 142h1M351 127h1M346 129h1M344 129h1M365 142h1M355 139h1M338 106h1M367 143h1M353 138h1M353 135h1M348 109h1M357 135h1M361 138h1M347 142h1M353 129h1M346 130h1M347 129h1M349 148h1M345 133h1M342 119h1M341 129h1M352 131h1M337 130h1M367 124h1M351 146h1M342 128h1M382 149h1M345 136h1M352 136h1M356 131h1M352 119h1M347 152h1M353 127h1M352 147h1M332 120h1M343 129h1M350 128h1M352 136h1M338 127h1M337 138h1M353 142h1M341 128h1M333 139h1M362 140h1M357 137h1M355 145h1M348 144h1M360 139h1M353 120h1M362 124h1M343 125h1M357 123h1M356 141h1M352 131h1M357 150h1M345 122h1M344 124h1M348 133h1M342 130h1M339 137h1M360 113h1M353 152h1M347 145h1M354 124h1M361 127h1M354 130h1M348 136h1M365 115h1M338 136h1M361 132h1M348 141h1M368 124h1M333 131h1M359 119h1M363 145h1M359 125h1M336 142h1M353 142h1M336 100h1M363 146h1M347 134h1M355 143h1M348 129h1M340 146h1M352 95h1M354 128h1M337 129h1M336 129h1M344 140h1M339 113h1M344 118h1M359 132h1M332 124h1M350 134h1M330 133h1M354 146h1M363 133h1M336 130h1M358 124h1M364 123h1M338 144h1M349 138h1M347 135h1M344 157h1M358 133h1M356 144h1M345 137h1M353 128h1M342 132h1M347 130h1M358 135h1M369 145h1M347 127h1M356 130h1M333 136h1M347 132h1M357 137h1M373 126h1M349 138h1M346 129h1M370 118h1M354 114h1M354 112h1M338 148h1M367 136h1M353 122h1M347 119h1M349 133h1M352 144h1M343 109h1M338 120h1M346 129h1M350 150h1M351 122h1M347 124h1M348 141h1M338 143h1M370 152h1M368 136h1M350 137h1M347 124h1M357 118h1M335 141h1M346 125h1M356 151h1M347 133h1M357 145h1M362 142h1M343 141h1M351 115h1M364 141h1M366 134h1M358 134h1M352 145h1M351 142h1M350 149h1M358 115h1M369 140h1M345 127h1M372 136h1M356 141h1M344 155h1M374 126h1M363 116h1M347 135h1M351 141h1M355 139h1M349 138h1M344 157h1M351 149h1M352 133h1M349 120h1M373 139h1M352 129h1M365 131h1M345 128h1M367 138h1M349 127h1M365 138h1M347 145h1M360 123h1M363 147h1M348 119h1M362 131h1M348 131h1M348 144h1M339 141h1M363 147h1M358 138h1M348 133h1M341 154h1M349 123h1M360 152h1M354 131h1M338 142h1M348 127h1M357 120h1M359 107h1M344 118h1M348 144h1M336 150h1M343 129h1M361 126h1M366 132h1M350 124h1M363 134h1M345 124h1M344 133h1M343 144h1M350 127h1M356 151h1M362 136h1M360 117h1M343 146h1M350 135h1M357 139h1M355 129h1M347 149h1M345 118h1M347 145h1M370 136h1M344 141h1M354 148h1M356 143h1M356 139h1M341 133h1M368 150h1M361 139h1M349 138h1M347 147h1M347 126h1M333 152h1M343 125h1M355 155h1M358 131h1M357 125h1M348 135h1M351 143h1M357 156h1M360 131h1M353 125h1M344 131h1M362 127h1M334 123h1M338 132h1M348 121h1M342 130h1M355 141h1M365 132h1M358 135h1M339 127h1M374 133h1M368 144h1M369 132h1M361 131h1M339 121h1M356 116h1M355 125h1M355 119h1M360 132h1M335 118h1M352 116h1M354 140h1M344 150h1M366 138h1M356 140h1M348 149h1M345 106h1M351 140h1M360 122h1M366 125h1M358 143h1M353 147h1M356 130h1M379 134h1M334 151h1M367 128h1M340 147h1M352 124h1M346 135h1M361 152h1M344 152h1M335 143h1M349 139h1M346 126h1M354 147h1M347 122h1M337 140h1M357 142h1M330 117h1M344 130h1M370 130h1M352 146h1M369 139h1M355 157h1M347 114h1M343 131h1M365 138h1M364 136h1M351 128h1M338 140h1M355 141h1M345 130h1M355 141h1M372 125h1M361 145h1M348 136h1M350 152h1M378 138h1M348 145h1M356 132h1M359 144h1M347 144h1M348 136h1M335 151h1M347 136h1M351 143h1M345 143h1M342 118h1M356 136h1M360 112h1M352 127h1M349 130h1M347 127h1M362 115h1M333 138h1M372 126h1M341 121h1M340 149h1M358 145h1M355 137h1" stroke="#0c0cd8" stroke-width="1" stroke-opacity="0.24" fill="none"/>
<path transform="translate(0 0.5)" d="M356 93h1M369 106h1M358 102h1M354 97h1M380 97h1M369 95h1M382 92h1M368 96h1M364 98h1M376 100h1M373 98h1M351 102h1M378 99h1M370 96h1M347 101h1M354 104h1M369 97h1M355 97h1M351 96h1M379 96h1M382 97h1M366 93h1M359 95h1M347 104h1M368 97h1M350 97h1M351 93h1M360 105h1M343 99h1M356 86h1M347 96h1M363 94h1M381 99h1M355 91h1M364 94h1M373 93h1M375 95h1M364 96h1M369 101h1M356 94h1M382 101h1M382 101h1M363 103h1M355 95h1M358 100h1M353 96h1M353 96h1M374 101h1M360 107h1M354 99h1M357 89h1M349 102h1M344 108h1M361 98h1M375 97h1M355 95h1M352 99h1M357 99h1M346 95h1M384 98h1M361 102h1M365 103h1M349 100h1M351 100h1M388 103h1M353 99h1M367 94h1M364 93h1M372 100h1M360 100h1M387 96h1M342 98h1M357 94h1M371 101h1M368 103h1M355 95h1M366 87h1M333 98h1M360 97h1M352 98h1M373 95h1M368 96h1M360 97h1M378 99h1M369 98h1M339 101h1M362 97h1M356 91h1M378 104h1M379 90h1M368 92h1M360 95h1M355 94h1M357 100h1M379 101h1M362 96h1M359 97h1M355 96h1M371 96h1M353 97h1M363 97h1M359 100h1M361 93h1M368 94h1M370 100h1M367 98h1M347 96h1M363 99h1M350 96h1M345 98h1M363 97h1M379 100h1M360 95h1M357 100h1M372 95h1M360 95h1M369 98h1M354 94h1M376 92h1M342 85h1M384 95h1M371 99h1M371 101h1M357 97h1M372 99h1M354 94h1M346 98h1M356 91h1M356 98h1M364 96h1M363 100h1M349 94h1M372 100h1M347 94h1M377 100h1M360 101h1M377 102h1M347 92h1M356 97h1M358 98h1M378 101h1M372 97h1M380 99h1M364 97h1M342 105h1M361 100h1M386 96h1M349 101h1M364 93h1M372 97h1M351 87h1M351 98h1M350 101h1M386 98h1M364 97h1M371 97h1M373 102h1M371 93h1M369 96h1M365 101h1M355 98h1M378 94h1M360 100h1M359 101h1M351 91h1M366 96h1M365 101h1M373 96h1M358 90h1M351 98h1M364 91h1M370 97h1M374 96h1M372 93h1M342 94h1M369 99h1M341 98h1M369 103h1M370 99h1M345 98h1M340 96h1M358 93h1M351 96h1M368 95h1M365 100h1M361 104h1M358 94h1M341 101h1M369 96h1M365 97h1M371 97h1M364 97h1M352 89h1M368 92h1M366 99h1M382 94h1M363 101h1M354 95h1M367 105h1M373 101h1M351 100h1M374 92h1M362 96h1M369 90h1M369 97h1M359 89h1M339 95h1M369 99h1M370 91h1M364 102h1M345 99h1M354 99h1M363 91h1M350 102h1M360 102h1M365 100h1M357 98h1M358 100h1M355 101h1M379 92h1M360 99h1M381 101h1M363 90h1M371 95h1M364 99h1M346 101h1M372 99h1M368 98h1M346 95h1M371 96h1M362 98h1M363 98h1M367 97h1M350 96h1M372 94h1M367 98h1M352 86h1M361 94h1M355 101h1M353 98h1M363 98h1M383 90h1M372 96h1M359 94h1M362 97h1M352 103h1M354 96h1M348 98h1M366 101h1M372 95h1M379 97h1M379 103h1M357 93h1M368 102h1M366 101h1M368 100h1M376 96h1M346 97h1M353 93h1M360 100h1M342 91h1M370 94h1M357 102h1M374 98h1M367 87h1M368 98h1M347 98h1M367 97h1M370 100h1M362 96h1M349 101h1M355 98h1M378 100h1M348 97h1M354 91h1M353 99h1M365 96h1M364 93h1M353 96h1M370 96h1M360 98h1M378 92h1M367 98h1M361 98h1M340 97h1M359 92h1M371 97h1M358 100h1M352 94h1M371 100h1M384 95h1M346 91h1M349 97h1M359 94h1M351 94h1M358 101h1M368 102h1M371 100h1M374 99h1M378 101h1M381 98h1M353 106h1M359 99h1M358 94h1M366 93h1M360 102h1M363 100h1M369 98h1M363 99h1M351 99h1M350 94h1M355 92h1M340 98h1M367 99h1M386 98h1M370 94h1M369 93h1M383 93h1M357 100h1M338 102h1M351 98h1M372 98h1M372 95h1M368 89h1M378 95h1M352 97h1M380 94h1M361 96h1M351 92h1M368 100h1M353 98h1M366 98h1M360 97h1M365 93h1M360 100h1M355 102h1M359 93h1M358 92h1M368 91h1M362 96h1M358 99h1M365 95h1M370 95h1M371 102h1M366 100h1M347 99h1M345 96h1M369 87h1M353 94h1M351 97h1M368 93h1M355 90h1M354 89h1M345 99h1M371 94h1M365 94h1M373 104h1M335 94h1M355 95h1M378 103h1M361 99h1M344 96h1M358 96h1M365 91h1M350 105h1M343 97h1M369 99h1M362 91h1M356 91h1M383 98h1M369 98h1M357 101h1M371 99h1M368 100h1M358 99h1M362 96h1M369 105h1M340 102h1M357 102h1M350 96h1M373 97h1M365 92h1M349 103h1M363 97h1M347 93h1M350 97h1M360 95h1M354 97h1M374 92h1M346 101h1M346 95h1M363 104h1M339 86h1M361 101h1M363 94h1M364 89h1M370 103h1M359 100h1M350 103h1M355 94h1M353 90h1M369 105h1M346 96h1M366 95h1M345 98h1M372 97h1M350 96h1M341 97h1M375 101h1M361 99h1M356 97h1M355 98h1M356 98h1M369 97h1M347 99h1M359 95h1M368 94h1M372 99h1M354 94h1M360 94h1M372 88h1M363 96h1M350 99h1M356 99h1M357 96h1M367 101h1M372 97h1M378 96h1M347 90h1M346 94h1M342 98h1M362 97h1M364 97h1M359 96h1M362 93h1M375 103h1M362 106h1M351 100h1M344 99h1M353 101h1M363 101h1M368 99h1M359 103h1M365 99h1M377 96h1M380 101h1M362 92h1M375 96h1M363 97h1M372 99h1M342 95h1M365 98h1M370 99h1M379 94h1M376 98h1M365 100h1M358 100h1M359 100h1M353 101h1M345 95h1M361 98h1M353 95h1M364 101h1M376 95h1M361 96h1M345 95h1M374 92h1M392 101h1M380 98h1M337 99h1M379 95h1M375 100h1M370 100h1M368 99h1M374 99h1M368 99h1M363 94h1M342 93h1M348 91h1M369 96h1M375 109h1M370 95h1M366 96h1M365 105h1M379 102h1M365 104h1M371 100h1M349 95h1M363 96h1M356 89h1M354 97h1M365 93h1M360 104h1M363 90h1M360 97h1M375 98h1M376 98h1M374 102h1M378 98h1M369 112h1" stroke="#0c0cd8" stroke-width="1" stroke-opacity="0.3" fill="none"/>
<path transform="translate(0 0.5)" d="M368 115h1M381 102h1M386 105h1M386 108h1M373 121h1M400 110h1M376 95h1M382 108h1M366 97h1M386 116h1M392 125h1M362 119h1M383 121h1M375 102h1M379 113h1M370 106h1M384 116h1M378 114h1M373 108h1M383 117h1M393 103h1M389 124h1M385 104h1M378 97h1M357 110h1M368 101h1M387 102h1M380 110h1M373 101h1M391 87h1M380 115h1M376 109h1M382 110h1M379 119h1M388 120h1M374 93h1M362 111h1M378 95h1M377 121h1M380 103h1M378 111h1M374 108h1M373 113h1M397 116h1M374 132h1M373 99h1M365 116h1M379 104h1M371 110h1M383 114h1M377 88h1M374 114h1M384 115h1M370 127h1M367 112h1M373 107h1M374 119h1M387 110h1M365 109h1M379 113h1M373 109h1M403 101h1M369 91h1M377 125h1M383 97h1M386 108h1M374 119h1M372 109h1M379 111h1M376 113h1M379 111h1M380 103h1M366 113h1M391 108h1M379 103h1M365 103h1M369 110h1M364 114h1M366 120h1M373 95h1M374 113h1M384 114h1M375 109h1M378 115h1M372 110h1M379 106h1M373 124h1M381 100h1M394 97h1M370 109h1M388 120h1M393 109h1M381 115h1M369 106h1M384 109h1M378 101h1M377 97h1M387 107h1M371 108h1M376 123h1M356 128h1M380 111h1M366 102h1M380 105h1M386 116h1M379 114h1M381 111h1M375 113h1M383 109h1M370 99h1M374 126h1M389 109h1M381 107h1M388 115h1M377 113h1M383 94h1M368 108h1M367 110h1M370 109h1M380 98h1M384 120h1M377 99h1M377 121h1M374 105h1M384 101h1M370 118h1M377 104h1M386 117h1M389 107h1M384 112h1M370 128h1M371 107h1M368 104h1M389 106h1M368 97h1M380 109h1M369 112h1M364 121h1M369 118h1M373 92h1M367 108h1M388 112h1M389 121h1M375 106h1M359 107h1M381 101h1M374 120h1M360 129h1M385 91h1M383 108h1M386 104h1M382 121h1M375 115h1M384 107h1M388 111h1M381 93h1M370 115h1M393 117h1M377 103h1M363 97h1M376 116h1M374 98h1M378 110h1M376 124h1M386 117h1M377 101h1M392 115h1M370 101h1M384 102h1M368 113h1M382 102h1M382 117h1M381 95h1M390 121h1M387 106h1M377 96h1M372 107h1M397 103h1M375 126h1M385 92h1M372 97h1M381 88h1M392 95h1M376 130h1M385 111h1M384 99h1M386 104h1M384 110h1M387 95h1M368 119h1M402 106h1M379 115h1M368 114h1M364 116h1M390 121h1M377 119h1M388 97h1M371 95h1M372 116h1M360 114h1M389 119h1M357 121h1M366 93h1M371 118h1M381 115h1M378 116h1M367 105h1M372 96h1M389 103h1M367 106h1M370 114h1M378 118h1M368 113h1M364 111h1M391 104h1M387 106h1M366 106h1M370 116h1M389 133h1M396 111h1M370 114h1M377 132h1M376 121h1M369 120h1M366 110h1M381 110h1M378 109h1M371 111h1M375 102h1M384 109h1M376 123h1M368 96h1M389 102h1M393 108h1M374 121h1M386 116h1M384 122h1M386 104h1M365 114h1M376 101h1M381 122h1M378 120h1M367 105h1M387 105h1M384 117h1M390 94h1M385 109h1M385 124h1M375 105h1M377 91h1M379 101h1M379 102h1M383 106h1M374 116h1M381 94h1M366 112h1M379 122h1M394 108h1M388 103h1M367 116h1M368 129h1M384 118h1M368 98h1M378 114h1M375 106h1M379 108h1M387 94h1M359 116h1M377 96h1M380 113h1M383 111h1M368 100h1M386 104h1M371 127h1M377 84h1M402 102h1M367 123h1M385 119h1M374 96h1M376 107h1M381 107h1M380 98h1M372 107h1M377 94h1M386 129h1M366 124h1M382 117h1M380 111h1M383 112h1M367 112h1M399 115h1M368 105h1M380 119h1M385 102h1M357 117h1M367 125h1M394 110h1M386 112h1M398 112h1M388 95h1M374 111h1M358 114h1M378 109h1M401 100h1M376 109h1M371 99h1M389 106h1M382 109h1M367 99h1M378 115h1M380 116h1M371 110h1M380 108h1M384 121h1M375 112h1M374 116h1M378 103h1M366 103h1M376 112h1M374 110h1M387 128h1M396 125h1M380 111h1M397 106h1M383 103h1M376 118h1M371 106h1M366 117h1M379 114h1M367 102h1M389 106h1M382 98h1M359 93h1M384 117h1M396 120h1M359 107h1M371 105h1M374 104h1M365 114h1M377 103h1M375 99h1M375 108h1M374 110h1M363 103h1M373 118h1M367 105h1M396 101h1M372 104h1M393 109h1M386 122h1M363 100h1M390 109h1M376 118h1M383 126h1M368 117h1M390 114h1M374 107h1M377 117h1M374 110h1M387 105h1M380 108h1M372 91h1M371 116h1M371 107h1M386 128h1M369 104h1M364 119h1M376 103h1M378 119h1M389 109h1M392 114h1M377 118h1M382 115h1M387 126h1M368 117h1M376 132h1M373 108h1M378 109h1M394 103h1M384 117h1M389 97h1M377 98h1M387 119h1M373 109h1M391 109h1M384 103h1M375 108h1M388 92h1M378 124h1M375 101h1M380 107h1M379 114h1M381 95h1M385 121h1M366 113h1M370 119h1M370 110h1M376 115h1M362 102h1M384 120h1M375 115h1M381 110h1M377 105h1M380 120h1M386 119h1M372 113h1M369 101h1M386 104h1M376 97h1M376 109h1M378 119h1M383 109h1M379 105h1M371 110h1M369 111h1M381 119h1M382 131h1M374 112h1M376 105h1M373 95h1M387 101h1M373 95h1M380 97h1M388 96h1M374 117h1M384 89h1M368 128h1M378 96h1M377 117h1M379 123h1M373 113h1M393 118h1M382 114h1M375 110h1M374 115h1M383 98h1M368 114h1M397 105h1M379 109h1M361 109h1M386 87h1M391 94h1M405 125h1M392 103h1M382 103h1M375 113h1M352 124h1M372 102h1M378 116h1M373 115h1M367 115h1M370 120h1M371 118h1M361 118h1M386 99h1M376 102h1M385 114h1M393 117h1M388 99h1M381 114h1M376 98h1M404 124h1M371 88h1M394 102h1M396 93h1M386 114h1M364 111h1M385 113h1M374 86h1M358 120h1M388 91h1M385 116h1M365 99h1M379 105h1M377 108h1M378 112h1M374 111h1M371 104h1M379 101h1M383 108h1M390 111h1M360 116h1M385 108h1M382 118h1M380 96h1M382 118h1M376 98h1M387 112h1M389 107h1M382 116h1M374 127h1M383 110h1M388 114h1M361 125h1M375 103h1M389 114h1M380 103h1M376 101h1M399 96h1M391 120h1M369 108h1M357 115h1M367 115h1M376 110h1M377 105h1M379 109h1M371 109h1M369 101h1M372 94h1M383 107h1M383 119h1M386 103h1M385 118h1M378 113h1M379 99h1M380 105h1M377 114h1M382 100h1M375 109h1M371 116h1M374 104h1M387 106h1M368 113h1M378 113h1M400 107h1M391 103h1M384 112h1M378 112h1M376 117h1M375 127h1M341 110h1M378 113h1M375 95h1M380 101h1M379 105h1M371 98h1M365 109h1M370 115h1M366 116h1M381 101h1M369 110h1M390 119h1M398 103h1M385 109h1M375 101h1M379 120h1M389 100h1M370 131h1M380 113h1M371 95h1M378 100h1M374 105h1M383 130h1M386 88h1M363 110h1M375 118h1M390 98h1M383 106h1M364 126h1M392 97h1M382 103h1M376 106h1M377 110h1M374 114h1M369 121h1M364 97h1M385 104h1M376 119h1M384 126h1M378 96h1M372 106h1M381 125h1M408 115h1M384 113h1M373 90h1M397 122h1M374 111h1M371 110h1M367 103h1M383 89h1M384 97h1M370 93h1M381 99h1M398 94h1M383 114h1M367 106h1M370 118h1M384 117h1M363 106h1M376 106h1M385 118h1M377 102h1M376 104h1M378 127h1M390 123h1M376 110h1M368 116h1M387 113h1M368 114h1M385 103h1M383 103h1M377 105h1M362 107h1M379 107h1M377 105h1M386 105h1M380 104h1M390 104h1M389 127h1M377 95h1M373 114h1M362 101h1M372 97h1M389 110h1M379 121h1M369 102h1M387 107h1M379 119h1M379 115h1M384 119h1M382 104h1M391 102h1M390 93h1M372 91h1M387 119h1M376 115h1M381 122h1M383 111h1M384 93h1M385 108h1M390 105h1M384 107h1M368 109h1M373 99h1M377 106h1M394 101h1M380 110h1M380 94h1M368 129h1M368 105h1M390 108h1M373 118h1M373 127h1M377 113h1M384 126h1M370 112h1M391 85h1M375 113h1M378 114h1M385 96h1M377 123h1M388 81h1M386 116h1M370 104h1M368 112h1M370 119h1M374 116h1M367 122h1M387 115h1M388 128h1M387 107h1M392 101h1M385 123h1M374 111h1M381 110h1M379 119h1M397 99h1M364 110h1M362 103h1M372 122h1M382 115h1M381 118h1M379 122h1M387 108h1M362 105h1M378 100h1M376 109h1M389 99h1M378 105h1M373 116h1M383 94h1M399 123h1M381 113h1M368 110h1M381 108h1M388 98h1M378 115h1M377 108h1M379 113h1M369 138h1M382 98h1M367 103h1M377 93h1M399 97h1M372 131h1M380 114h1M376 108h1M391 86h1M379 102h1" stroke="#0c0cd8" stroke-width="1" stroke-opacity="0.35" fill="none"/>
<path transform="translate(0 0.5)" d="M382 110h1M372 115h1M385 114h1M380 116h1M381 116h1M393 115h1M374 111h1M377 125h1M385 101h1M374 120h1M377 113h1M382 109h1M381 110h1M395 104h1M387 114h1M379 102h1M378 114h1M385 118h1M386 111h1M384 112h1M384 115h1M378 118h1M395 110h1M388 102h1M385 100h1M390 111h1M391 119h1M379 116h1M394 127h1M383 114h1M380 115h1M388 121h1M383 111h1M387 109h1M398 94h1M372 107h1M388 110h1M387 99h1M388 114h1M395 116h1M380 105h1M376 107h1M383 119h1M395 111h1M388 109h1M375 114h1M379 98h1M378 121h1M376 120h1M375 110h1M387 107h1M377 110h1M395 115h1M385 114h1M392 120h1M382 104h1M377 111h1M382 110h1M380 129h1M379 121h1M378 104h1M376 102h1M373 104h1M382 115h1M372 113h1M383 110h1M369 114h1M388 119h1M382 119h1M384 104h1M387 117h1M385 110h1M382 115h1M372 112h1M375 106h1M385 119h1M384 103h1M402 113h1M366 110h1M379 106h1M391 126h1M385 100h1M390 111h1M381 112h1M376 112h1M386 119h1M397 106h1M386 104h1M385 119h1M388 108h1M396 117h1M392 111h1M393 109h1M390 111h1M384 99h1M390 114h1M380 111h1M388 115h1M370 121h1M377 124h1M392 111h1M385 112h1M381 121h1M379 106h1M382 99h1M391 102h1M394 117h1M398 106h1M382 107h1M389 104h1M382 93h1M384 112h1M397 104h1M390 114h1M390 102h1M360 107h1M390 112h1M394 126h1M379 107h1M394 98h1M367 112h1M386 121h1M389 110h1M380 97h1M387 106h1M381 113h1M370 110h1M380 125h1M383 119h1M377 99h1M390 108h1M375 118h1M387 98h1M382 125h1M385 100h1M378 121h1M394 115h1M373 116h1M378 106h1M380 118h1M387 115h1M381 106h1M391 106h1M382 114h1M383 118h1M388 115h1M400 106h1M398 101h1M378 92h1M379 104h1M389 120h1M400 106h1M391 109h1M371 79h1M381 96h1M390 103h1M388 105h1M387 103h1M387 124h1M386 100h1M378 111h1M389 101h1M378 98h1M396 112h1M386 107h1M397 115h1M383 119h1M388 108h1M381 110h1M393 100h1M372 115h1M391 121h1M388 99h1M390 112h1M377 98h1M373 111h1M375 113h1M383 115h1M390 103h1M381 116h1M379 118h1M388 117h1M380 116h1M382 112h1M388 106h1M384 92h1M379 115h1M376 94h1M374 108h1M389 114h1M374 113h1M375 119h1M387 105h1M381 110h1M380 119h1M386 106h1M387 100h1M385 108h1M380 110h1M385 99h1M386 133h1M389 106h1M386 123h1M376 123h1M381 125h1M378 118h1M380 120h1M390 113h1M378 118h1M386 102h1M388 109h1M383 103h1M385 117h1M378 116h1M371 111h1M386 103h1M385 100h1M397 113h1M391 103h1M368 110h1M393 109h1M392 113h1M386 118h1M380 107h1M391 114h1M380 102h1M394 85h1M390 109h1M375 113h1M387 128h1M386 91h1M378 116h1M381 110h1M383 121h1M386 109h1M380 118h1M379 113h1M387 116h1M389 112h1M397 116h1M379 103h1M379 120h1M376 122h1M387 106h1M377 109h1M389 110h1M389 111h1M393 106h1M383 102h1M382 103h1M374 108h1M388 93h1M375 99h1M386 114h1M386 109h1M379 112h1M378 108h1M386 108h1M392 94h1M373 118h1M380 107h1M380 110h1M383 113h1M390 124h1M370 109h1M378 112h1M377 111h1M386 110h1M385 115h1M377 110h1M391 117h1M390 104h1M379 118h1M384 112h1M382 117h1M385 103h1M386 108h1M382 115h1M385 106h1M376 107h1M383 101h1M380 128h1M380 111h1M376 108h1M385 111h1M373 110h1M377 118h1M383 122h1M386 101h1M390 106h1M383 111h1M375 119h1M385 102h1M375 114h1M392 113h1M386 107h1M391 114h1M379 106h1M370 119h1M404 109h1M387 116h1M382 126h1M377 104h1M394 117h1M389 109h1M384 111h1M387 106h1M391 123h1M380 103h1M385 129h1M378 120h1M379 104h1M391 109h1M384 116h1M391 112h1M394 105h1M380 115h1M388 97h1M382 115h1M383 124h1M373 112h1M378 98h1M382 110h1M381 105h1M389 102h1M380 100h1M391 99h1M395 103h1M384 123h1M377 120h1M375 107h1M387 113h1M386 113h1M394 98h1M379 117h1M374 105h1M400 120h1M387 111h1M383 104h1M378 103h1M375 111h1M387 103h1M385 100h1M386 108h1M383 112h1M392 112h1M380 112h1M386 114h1M391 104h1M376 115h1M376 114h1M402 120h1M374 104h1M386 108h1M388 112h1M386 115h1M373 119h1M374 104h1M368 110h1M386 107h1M376 94h1M388 102h1M381 112h1M383 113h1M395 116h1M377 110h1M382 104h1M388 107h1M385 115h1M398 106h1M389 127h1M394 113h1M379 112h1M380 107h1M372 108h1M371 118h1M387 107h1M384 111h1M382 113h1M383 114h1M378 111h1M395 104h1M378 118h1M386 112h1M385 107h1M380 114h1M385 115h1M387 127h1M384 121h1M385 128h1M390 105h1M394 106h1M391 105h1M386 112h1M393 94h1M371 118h1M389 107h1M384 97h1M381 105h1M390 112h1M383 119h1M380 116h1M382 114h1M382 121h1M381 126h1M389 104h1M381 121h1M394 101h1M385 115h1M400 116h1M383 118h1M384 104h1M384 109h1M382 111h1M386 105h1M388 99h1M388 114h1M387 99h1M381 112h1M387 116h1M374 111h1M391 102h1M376 107h1M382 109h1M392 113h1M371 117h1M385 117h1M384 121h1M385 107h1M376 118h1M383 97h1M390 120h1M370 115h1M388 124h1M392 105h1M387 116h1M374 122h1M387 117h1M378 117h1M384 108h1M384 113h1M374 111h1M386 98h1M395 130h1M388 111h1M377 102h1M376 117h1M378 112h1M381 118h1M392 118h1M388 119h1M395 104h1M386 106h1M384 109h1M385 116h1M375 91h1M386 119h1M381 122h1M399 111h1M382 115h1M389 99h1M387 95h1M377 112h1M386 102h1M384 121h1M373 115h1M392 101h1M392 114h1M382 111h1M384 111h1M382 105h1M390 124h1M383 122h1M379 101h1M388 113h1M387 104h1M381 119h1M395 113h1M386 91h1M379 121h1M397 105h1M367 115h1M375 108h1M380 108h1M377 116h1M386 101h1M373 127h1M388 112h1M372 127h1M377 112h1M386 105h1M385 107h1M370 100h1M380 107h1M387 123h1M382 127h1M381 112h1M382 98h1M383 109h1M378 117h1M386 108h1M378 113h1M378 104h1M380 118h1M382 110h1M382 115h1M383 117h1M383 117h1M382 105h1M386 109h1M381 122h1M380 105h1M381 122h1M375 120h1M387 108h1M381 105h1M370 104h1M374 99h1M381 115h1M377 108h1M379 109h1M386 120h1M388 114h1M393 116h1M387 115h1M389 103h1M378 112h1M372 109h1M381 113h1M388 121h1M368 113h1M386 122h1M379 114h1M383 104h1M385 118h1M381 112h1M391 109h1M381 113h1M386 114h1M392 114h1M376 99h1M383 124h1M384 108h1M385 115h1M392 101h1M389 112h1M389 119h1M369 118h1M387 105h1M383 119h1M373 118h1M389 124h1M378 106h1M390 109h1M386 91h1M399 97h1M372 115h1M387 105h1M369 115h1M385 104h1M384 107h1M377 116h1M383 111h1M375 106h1M382 106h1M386 111h1M382 110h1M386 119h1M376 118h1M389 117h1M380 113h1M397 101h1M389 109h1M394 112h1M389 106h1M380 123h1M375 107h1M382 101h1M388 102h1M384 109h1M369 112h1M373 111h1M368 107h1M389 113h1M391 123h1M388 109h1M383 116h1M375 103h1M383 124h1M376 113h1M379 116h1M386 111h1M389 109h1M372 127h1M383 113h1M389 105h1M380 105h1M387 114h1M385 101h1M378 100h1M374 105h1M385 115h1M371 116h1M386 123h1M389 99h1M387 113h1M386 105h1M393 112h1M380 97h1M382 100h1M374 123h1M383 118h1M391 117h1M381 102h1M382 112h1M382 109h1M384 100h1M390 102h1M384 104h1M392 107h1M377 108h1M389 101h1M375 107h1M388 88h1M390 128h1M382 118h1M383 97h1M381 116h1M376 109h1M379 114h1M400 111h1M375 124h1M381 108h1M387 117h1M385 114h1M385 102h1M389 118h1M378 97h1M379 112h1M393 113h1M362 106h1M384 113h1M373 108h1M384 116h1M389 124h1M379 107h1M380 115h1M397 112h1M385 104h1M375 125h1M383 122h1M389 107h1M385 104h1M388 110h1M389 121h1M379 117h1M386 107h1M385 120h1M385 118h1M386 121h1M383 108h1M388 93h1M380 123h1M378 125h1M394 107h1M378 114h1M390 124h1M394 105h1M389 107h1M391 114h1M393 110h1M389 101h1M377 115h1M384 118h1M399 106h1M375 103h1M379 120h1M386 108h1M388 109h1M385 111h1M374 117h1M385 128h1M384 106h1M385 105h1M383 108h1M386 104h1M383 108h1M377 110h1M388 116h1M386 110h1M390 109h1M388 97h1M375 105h1M391 109h1M387 102h1M373 133h1M395 124h1M384 106h1M385 109h1M380 91h1M385 93h1M380 99h1M397 101h1M381 114h1M381 113h1M390 106h1M387 110h1M375 113h1M376 119h1M384 112h1M390 104h1M378 122h1M389 114h1M370 111h1M377 106h1M372 98h1M381 114h1M380 109h1M384 121h1M380 112h1M403 110h1M389 101h1M376 107h1M405 106h1M393 107h1M375 96h1M385 119h1M378 107h1M376 105h1M391 106h1M376 115h1M386 110h1M398 113h1M392 101h1M383 121h1M389 118h1M373 108h1M395 122h1M362 96h1M393 117h1M393 89h1M384 117h1M392 103h1M391 117h1M380 123h1M393 118h1M380 113h1M384 124h1M401 104h1M398 114h1M379 105h1M395 113h1M379 109h1M381 110h1M397 105h1M381 87h1M387 118h1M398 106h1M382 107h1M375 111h1M378 109h1M385 116h1M384 129h1M386 115h1M387 110h1M391 112h1M374 106h1M394 98h1M396 111h1M386 120h1M385 107h1M368 106h1M375 116h1M384 103h1M392 117h1M400 113h1M375 111h1M389 117h1M374 114h1M389 114h1M372 107h1M383 109h1M390 107h1M371 94h1M387 104h1M384 119h1M380 110h1M373 101h1M388 120h1M379 109h1M386 107h1M384 107h1M388 106h1M380 100h1M378 99h1M383 118h1M375 104h1M378 114h1M382 108h1M377 108h1M381 104h1M394 114h1M383 113h1M400 115h1M380 110h1M392 114h1M382 111h1M376 108h1M381 108h1M394 111h1M392 110h1M373 120h1M380 109h1M392 121h1M385 120h1M380 115h1M377 118h1M380 115h1M375 122h1M396 108h1M384 103h1M382 99h1M389 110h1M392 110h1M382 104h1M388 109h1M375 99h1M391 110h1M383 106h1M380 110h1M385 101h1M402 117h1M370 111h1M392 105h1M374 114h1M379 110h1M396 110h1M393 104h1M371 107h1M381 116h1M387 95h1M376 107h1M379 105h1M381 111h1M373 103h1M377 120h1M383 99h1M387 117h1M372 101h1M387 111h1M388 123h1M389 118h1M380 121h1M379 113h1M369 107h1M389 103h1M380 94h1M381 100h1M384 107h1M379 108h1M381 110h1M382 119h1M391 91h1M393 109h1M386 103h1M388 115h1M380 102h1M388 114h1M377 94h1M376 113h1M393 103h1M380 102h1M386 104h1M396 115h1M382 107h1M391 107h1M381 111h1M391 121h1M381 101h1M377 109h1M388 90h1M388 113h1M385 99h1M385 106h1M377 115h1M393 112h1M388 118h1M384 107h1M395 105h1M382 113h1M381 103h1M392 110h1M379 106h1M388 116h1M385 119h1M384 122h1M390 101h1M383 113h1M384 103h1M387 110h1M373 100h1M381 117h1M384 112h1M391 108h1M384 110h1M390 105h1M387 105h1M385 118h1M378 114h1M385 112h1M388 111h1M388 124h1M379 102h1M389 113h1M398 105h1M389 106h1M381 106h1M378 103h1M382 109h1M384 116h1M378 109h1M378 116h1M378 107h1M379 118h1M376 101h1M381 107h1M378 119h1M380 94h1M383 100h1M380 106h1M378 107h1M381 115h1M401 105h1M381 119h1M396 116h1M382 125h1M385 119h1M380 101h1M393 103h1M377 111h1M378 115h1M385 109h1M380 121h1M394 119h1M375 123h1M385 123h1M388 105h1M373 105h1M392 107h1M395 100h1M388 109h1M374 113h1M381 108h1M370 103h1M380 109h1M378 126h1M381 112h1M382 120h1M388 118h1M374 111h1M383 115h1M379 111h1M377 107h1M386 106h1M378 109h1M386 113h1M376 107h1M376 103h1M400 119h1M389 108h1M390 122h1M392 116h1M377 128h1M389 117h1M386 113h1M381 97h1M396 130h1M387 115h1M384 116h1M383 110h1M388 97h1M394 107h1M388 115h1M395 123h1M375 103h1M385 98h1M388 109h1M379 117h1M377 105h1M384 117h1M383 108h1M385 107h1M371 117h1M387 119h1M385 114h1M372 100h1M371 119h1M379 120h1M387 107h1M383 104h1M381 113h1M388 106h1M373 119h1M376 116h1M373 103h1M370 115h1M387 134h1M397 111h1M370 108h1M385 113h1M385 103h1M382 125h1M380 107h1M375 105h1M392 113h1M380 107h1M389 106h1M378 108h1M366 119h1M378 116h1M384 118h1M380 129h1M387 109h1M386 94h1M376 95h1M382 127h1M386 99h1M373 113h1M388 109h1M394 112h1M398 117h1M398 90h1M389 116h1M394 115h1M386 113h1M385 114h1M395 98h1M380 99h1M380 112h1M385 113h1M389 113h1M381 109h1M376 107h1M383 113h1M373 119h1M383 98h1M382 115h1M384 107h1M377 112h1M385 112h1M381 119h1M371 110h1M372 95h1M385 117h1M381 114h1M382 119h1M379 114h1M386 98h1M392 106h1M376 105h1M389 107h1M389 103h1M385 97h1M381 120h1M380 112h1M371 123h1M382 114h1M381 102h1M381 108h1M376 109h1M377 106h1M364 103h1M386 112h1M382 113h1M395 113h1M384 110h1M386 115h1M368 126h1M390 114h1M379 109h1M378 120h1M379 98h1M382 104h1M385 111h1M378 99h1M381 100h1M382 111h1M381 111h1M380 122h1M371 102h1M391 101h1M388 109h1M383 100h1M380 109h1M369 110h1M380 93h1M384 107h1M373 119h1M382 102h1M377 112h1M379 115h1M375 112h1M386 114h1M378 103h1M375 111h1M369 131h1M381 119h1M381 120h1M381 118h1M390 112h1M375 113h1M384 108h1M382 115h1M369 114h1M394 105h1M391 107h1M381 107h1M383 104h1M379 108h1M377 110h1M390 104h1M384 104h1M375 110h1M381 117h1M388 111h1M379 120h1M374 104h1M388 113h1M387 108h1M388 119h1M370 114h1M390 102h1M377 113h1M387 110h1M372 112h1M382 107h1M390 94h1M384 106h1M387 108h1M395 111h1M379 98h1M381 110h1M394 113h1M384 103h1M384 103h1M374 113h1M380 100h1M391 119h1M386 98h1M377 103h1M385 135h1M389 109h1M377 100h1M378 111h1M381 114h1M387 102h1M389 110h1M394 109h1M381 109h1M391 114h1M391 118h1M385 127h1M382 108h1M391 101h1M385 117h1M377 96h1M374 118h1M400 103h1M374 101h1M394 116h1M388 105h1M388 105h1M387 104h1M375 107h1M386 112h1M379 117h1M372 96h1M387 109h1M383 107h1M387 112h1M393 103h1M375 109h1M381 108h1M369 113h1M395 113h1M392 114h1M385 113h1M391 113h1M388 109h1M378 113h1M381 114h1M368 123h1M392 121h1M386 102h1M381 101h1M386 110h1M384 96h1M373 94h1M393 114h1M384 107h1" stroke="#0c0cd8" stroke-width="1" stroke-opacity="0.55" fill="none"/>
<ellipse cx="384.3" cy="110.7" rx="10" ry="11" fill="#0c0cd8" fill-opacity="0.95" transform="rotate(0 384.3 110.7)" filter="url(#b15)"/>
</g>
<rect x="329.60" y="74.60" width="84.10" height="84.50" fill="none" stroke="#8a8a8a" stroke-width="1.1"/>
<path d="M328.0 162.7l2.6 -1.4M349.0 162.7l2.6 -1.4M370.0 162.7l2.6 -1.4M391.1 162.7l2.6 -1.4M412.1 162.7l2.6 -1.4M325.0 157.5l1.6 2.2M325.0 136.4l1.6 2.2M325.0 115.2l1.6 2.2M325.0 94.1l1.6 2.2M325.0 73.0l1.6 2.2" stroke="#666" stroke-width="1.1" fill="none"/>
<path d="M329.5 86.2 L382.0 86.0 L384.5 95.0 L370.5 106.5 L329.5 99.0 Z" fill="none" stroke="#9a9a9a" stroke-width="0.8"/>
<path d="M368.5 106.0 L380.0 96.5 L396.0 95.5 L400.3 100.5 L399.0 114.0 L392.5 121.5 L383.5 124.5 L375.0 122.5 L369.0 117.5 Z" fill="none" stroke="#9a9a9a" stroke-width="0.8"/>
<path d="M332.0 124.0 L337.5 117.5 L347.5 114.0 L360.0 114.5 L366.5 119.0 L370.0 126.0 L370.0 135.0 L366.5 146.0 L360.0 156.5 L334.5 156.5 L332.0 150.0 Z" fill="none" stroke="#9a9a9a" stroke-width="0.8"/>
<text transform="translate(341.00 85.20) scale(1 1.0)" font-size="10.2" fill="#1e1e1e" stroke="#1e1e1e" stroke-width="0.22" text-anchor="start" font-family='"Liberation Serif", serif' font-weight="normal" >5.3</text>
<text transform="translate(390.50 133.80) scale(1 1.0)" font-size="10.2" fill="#1e1e1e" stroke="#1e1e1e" stroke-width="0.22" text-anchor="start" font-family='"Liberation Serif", serif' font-weight="normal" >78.0</text>
<text transform="translate(379.50 155.80) scale(1 1.0)" font-size="10.2" fill="#1e1e1e" stroke="#1e1e1e" stroke-width="0.22" text-anchor="start" font-family='"Liberation Serif", serif' font-weight="normal" >7.9</text>
<text transform="translate(322.4 135.1) rotate(-90) scale(1 1.0)" stroke="#1e1e1e" stroke-width="0.22" font-size="10.3" fill="#1e1e1e" font-family='"Liberation Serif", serif'>CD21/35</text>
<text transform="translate(370.65 171.10) scale(1 1.0)" font-size="10.3" fill="#1e1e1e" stroke="#1e1e1e" stroke-width="0.22" text-anchor="middle" font-family='"Liberation Serif", serif' font-weight="normal" >CD23</text>
<text transform="translate(337.50 204.00) scale(1 1.0)" font-size="11.2" fill="#a23ab4" stroke="#a23ab4" stroke-width="0.22" text-anchor="start" font-family='"Liberation Serif", serif' xml:space="preserve"><tspan>B220</tspan><tspan dx="0.3" dy="-4.30" font-size="8.40">+</tspan><tspan dy="4.30" font-size="11.2"> Ly-5.1</tspan><tspan dx="0.3" dy="-4.30" font-size="8.40">+</tspan></text>
<clipPath id="c329215"><rect x="329.8" y="215.4" width="83.89999999999998" height="84.4"/></clipPath>
<g clip-path="url(#c329215)">
<ellipse cx="353" cy="275" rx="16" ry="18" fill="#cc10a0" fill-opacity="0.06" transform="rotate(0 353 275)" filter="url(#b40)"/>
<ellipse cx="367" cy="236" rx="14" ry="6" fill="#cc10a0" fill-opacity="0.1" transform="rotate(0 367 236)" filter="url(#b30)"/>
<path transform="translate(0 0.5)" d="M374 283h1M385 247h1M397 291h1M349 236h1M397 278h1M365 297h1M410 265h1M361 223h1M331 248h1M366 223h1M349 287h1M391 245h1" stroke="#cc10a0" stroke-width="1" stroke-opacity="0.3" fill="none"/>
<path transform="translate(0 0.5)" d="M372 292h1M367 263h1M345 258h1M350 290h1M361 275h1M354 280h1M350 262h1M344 294h1M341 261h1M357 270h1M347 276h1M350 255h1M361 277h1M370 284h1M345 269h1M344 248h1M359 266h1M362 276h1M350 293h1M341 295h1M364 268h1M370 279h1M355 269h1M351 269h1M348 284h1M360 289h1M364 273h1M360 271h1M358 282h1M356 265h1M339 294h1M343 267h1M356 270h1M356 290h1M335 275h1M358 258h1M359 292h1M352 280h1M348 286h1M346 274h1M344 266h1M364 274h1M361 255h1M339 264h1M372 288h1M376 269h1M358 279h1M349 281h1M351 280h1M332 262h1M341 294h1M361 263h1M357 268h1M339 263h1M384 275h1M351 289h1M355 261h1M360 264h1M351 276h1M352 268h1M349 270h1M364 277h1M356 273h1M333 281h1M359 262h1M339 267h1M337 245h1M347 267h1M353 288h1M342 256h1M350 282h1M367 285h1M353 275h1M333 282h1M360 273h1M348 279h1M356 280h1M356 256h1M346 255h1M343 273h1M354 266h1M370 277h1M357 265h1M366 271h1M343 272h1M364 265h1M349 285h1M349 285h1M365 268h1M339 260h1M365 281h1M352 270h1M363 269h1M381 278h1M334 287h1M354 274h1M350 288h1M346 293h1M343 285h1M335 286h1M341 271h1M360 265h1M357 274h1M366 285h1M354 272h1M342 291h1M349 259h1M343 252h1M342 269h1M354 285h1M360 253h1M346 281h1M355 274h1M343 282h1M350 271h1M350 271h1M355 287h1M352 267h1M350 272h1M357 283h1M369 285h1M333 264h1M338 278h1M377 279h1M345 290h1M358 265h1M341 291h1M360 250h1M343 281h1M337 274h1M342 255h1M346 268h1M354 254h1M354 270h1M334 288h1M346 279h1M368 279h1M361 277h1M345 276h1M334 280h1M360 279h1M344 260h1M343 271h1M336 297h1M342 276h1M346 276h1M351 274h1M356 268h1M360 277h1M351 274h1M363 274h1M368 276h1M354 274h1M354 280h1M344 283h1M379 280h1M352 265h1M343 265h1M354 266h1M369 269h1M341 263h1M350 272h1M361 266h1M355 285h1M348 254h1M354 286h1M355 274h1M330 293h1M349 260h1M348 276h1M352 264h1M377 289h1M362 282h1M347 260h1M337 287h1M352 293h1M356 268h1M361 266h1M348 280h1M353 277h1M354 286h1M342 251h1M341 246h1M372 266h1M351 278h1M343 268h1M354 274h1M360 271h1M344 257h1M333 277h1M355 269h1M364 243h1M358 260h1M347 271h1M343 271h1M351 282h1M360 263h1M356 269h1M361 267h1M363 264h1M346 284h1M362 284h1M373 286h1M351 285h1M342 284h1M355 272h1M343 286h1M336 270h1M346 264h1M344 277h1M373 294h1M349 269h1M358 264h1M335 285h1M347 292h1M355 257h1M354 280h1M352 258h1M335 296h1M360 295h1M358 274h1M355 287h1M345 289h1M354 277h1M356 278h1M341 292h1M346 271h1M357 273h1M350 270h1M358 266h1M335 255h1M342 278h1M367 281h1M344 259h1M360 280h1M351 281h1M358 280h1M366 256h1M344 268h1M340 297h1M355 279h1M360 271h1M360 272h1M359 281h1M365 256h1M341 265h1M342 279h1M362 270h1M363 285h1M345 282h1M367 268h1M354 281h1M357 274h1M351 265h1M372 292h1M350 264h1M356 293h1M352 264h1M361 277h1M343 272h1M353 261h1M354 289h1M363 289h1M359 273h1M358 289h1M352 280h1M344 274h1M346 262h1M333 269h1M353 266h1M353 284h1M334 273h1M358 281h1M371 277h1M365 268h1M341 268h1M347 285h1M360 275h1M342 276h1M347 270h1M332 293h1M381 275h1M375 269h1M382 274h1M331 274h1M360 295h1M362 295h1M353 256h1M353 264h1M361 249h1M341 261h1M353 287h1M348 259h1M346 273h1M364 276h1M366 241h1M335 286h1M337 267h1M357 277h1M355 272h1M331 255h1M342 263h1M346 254h1M350 280h1M346 290h1M354 285h1M342 277h1M336 252h1M332 270h1M355 270h1M363 276h1M352 276h1M362 294h1M336 276h1M346 275h1M377 272h1M346 263h1M363 277h1M343 292h1M349 277h1M349 276h1M337 248h1M339 268h1M349 273h1M347 287h1M349 264h1M367 273h1M363 281h1M348 286h1M335 260h1M347 246h1M347 272h1M332 262h1M365 282h1M354 290h1M353 289h1M363 268h1M358 288h1M355 269h1M361 288h1M351 281h1M353 277h1M355 270h1M360 279h1M370 278h1M353 260h1M376 272h1M346 271h1M351 273h1M370 269h1M349 269h1M358 255h1M362 270h1M336 292h1M337 283h1M352 266h1M333 266h1M360 273h1M345 286h1M352 275h1M342 258h1M346 278h1M347 278h1M349 271h1M351 278h1M349 269h1M362 288h1M364 283h1M356 276h1M360 266h1M350 278h1M350 259h1M350 269h1M344 282h1M363 275h1M339 272h1M349 262h1M345 276h1M345 279h1M337 282h1M344 276h1M352 268h1M363 253h1M354 282h1M349 273h1M339 274h1M353 267h1M351 270h1M340 273h1M343 284h1M343 291h1M351 274h1M343 279h1M340 256h1M356 249h1M364 268h1M369 277h1M369 257h1M346 277h1M345 275h1M350 282h1M367 248h1M358 260h1M369 256h1M342 280h1M349 282h1M355 265h1M333 288h1M349 273h1M348 271h1M343 275h1M354 259h1M334 280h1M361 267h1M349 268h1M356 273h1M345 265h1M356 278h1M346 279h1M353 250h1M345 277h1M365 278h1M338 284h1M348 284h1M336 255h1M334 281h1M364 277h1M353 273h1M353 262h1M365 283h1M362 273h1M361 285h1M379 287h1M343 264h1M361 280h1M357 275h1M342 276h1M335 277h1M377 282h1M342 264h1M378 281h1M346 281h1M348 261h1M353 280h1M366 259h1M368 271h1M362 280h1M361 263h1M357 255h1M370 278h1M357 275h1M358 276h1M341 270h1M330 264h1M349 278h1M376 255h1M375 269h1M347 273h1M376 261h1M347 280h1M362 278h1M353 285h1M340 292h1M346 278h1M341 267h1M363 281h1M349 283h1M388 245h1M332 286h1M342 274h1M342 298h1M369 254h1M359 270h1M368 278h1M343 269h1M352 294h1M352 268h1M347 284h1M348 294h1M361 276h1M353 270h1M368 272h1M355 258h1M349 276h1M351 275h1M363 282h1M360 267h1M346 274h1M333 257h1M355 274h1M352 288h1M349 259h1M359 291h1M335 275h1M362 275h1M346 285h1M332 273h1M344 273h1M337 276h1M365 279h1M337 268h1M343 257h1M360 280h1M349 291h1M360 267h1M352 272h1M351 289h1M366 263h1M374 255h1M359 288h1M353 280h1M344 291h1M349 268h1M335 262h1M357 274h1M371 281h1M355 265h1M358 257h1M343 290h1M355 261h1M344 273h1M355 276h1M361 239h1M360 252h1M346 276h1M363 267h1M337 264h1M338 268h1M344 287h1M358 272h1M355 293h1M348 261h1M352 260h1M354 284h1M347 285h1M365 296h1M348 281h1M361 284h1M362 280h1M359 285h1M357 281h1M355 274h1M331 273h1M352 268h1M347 289h1M349 248h1M346 273h1M365 278h1M357 268h1M345 256h1M359 275h1M344 275h1M364 285h1M361 288h1M354 274h1M352 280h1M333 278h1M352 264h1M345 288h1M347 273h1M368 263h1M351 269h1M346 272h1M358 271h1M362 283h1M340 275h1M350 259h1M332 286h1M355 289h1M369 283h1M356 289h1M350 270h1M363 282h1M346 270h1M347 269h1M345 268h1M353 275h1M360 245h1M353 294h1M352 267h1M374 268h1M359 277h1M350 263h1M353 277h1M372 257h1M334 281h1M335 241h1M348 288h1M331 257h1M368 264h1M342 272h1M369 272h1M360 272h1M340 277h1M331 286h1M334 276h1M356 266h1M373 274h1M356 257h1M346 277h1M360 281h1M336 257h1M339 287h1M332 260h1M353 274h1M351 265h1M355 273h1M349 277h1M349 272h1M364 282h1M352 276h1M367 259h1M330 275h1M332 262h1M354 277h1M348 265h1M335 266h1M342 274h1M362 271h1M339 279h1M365 278h1M346 270h1M348 262h1M362 271h1M373 288h1M346 265h1M332 274h1M356 270h1M350 280h1M343 274h1M348 292h1M359 273h1M340 273h1M343 270h1M355 284h1M363 267h1M353 274h1M363 285h1M354 280h1M350 274h1M354 260h1M347 284h1M359 276h1M357 265h1M368 250h1M348 265h1M346 277h1M353 286h1M372 280h1M341 274h1M343 265h1M347 285h1M343 278h1M343 284h1M364 258h1M360 264h1M355 273h1M361 260h1M372 278h1" stroke="#cc10a0" stroke-width="1" stroke-opacity="0.18" fill="none"/>
<path transform="translate(0 0.5)" d="M358 242h1M380 239h1M360 234h1M356 243h1M366 237h1M361 242h1M362 240h1M346 234h1M369 233h1M387 229h1M370 239h1M370 237h1M364 251h1M368 235h1M336 244h1M365 244h1M365 241h1M380 235h1M340 242h1M387 231h1M360 237h1M363 239h1M364 239h1M357 231h1M386 238h1M370 233h1M371 237h1M371 237h1M377 242h1M362 236h1M374 231h1M358 236h1M342 244h1M363 236h1M353 239h1M361 232h1M369 243h1M349 237h1M389 236h1M358 243h1M368 241h1M384 239h1M369 244h1M349 233h1M363 235h1M364 230h1M348 240h1M363 239h1M361 237h1M349 244h1M377 232h1M361 238h1M361 237h1M368 230h1M374 239h1M355 236h1M364 236h1M366 231h1M366 239h1M370 239h1M359 238h1M376 237h1M368 237h1M371 232h1M365 240h1M356 239h1M360 235h1M353 233h1M378 231h1M367 232h1M388 240h1M357 233h1M362 238h1M384 243h1M355 238h1M376 234h1M360 241h1M350 237h1M365 236h1M366 231h1M375 235h1M387 245h1M360 245h1M381 234h1M363 242h1M358 236h1M338 232h1M353 234h1M358 238h1M368 236h1M351 238h1M372 237h1M381 235h1M375 238h1M380 243h1M353 230h1M377 238h1M369 235h1M357 242h1M371 235h1M366 238h1M351 235h1M371 238h1M350 238h1M387 239h1M351 235h1M359 234h1M356 235h1M365 232h1M376 238h1M387 240h1M376 239h1M364 233h1M373 237h1M358 239h1M369 235h1M381 235h1M367 241h1M360 236h1M371 236h1M360 233h1M368 236h1M375 241h1M365 240h1M358 243h1M359 237h1M361 235h1M374 237h1M356 240h1M366 239h1M368 235h1M346 236h1M356 242h1M363 243h1M391 242h1M392 233h1M360 233h1M351 232h1M375 234h1M362 239h1M361 243h1M379 240h1M384 239h1M368 241h1M377 232h1M378 241h1M341 245h1M367 242h1M353 238h1M358 234h1M369 232h1M365 240h1M357 233h1M372 241h1M376 235h1M361 242h1M375 238h1M368 236h1M372 240h1M366 238h1M350 237h1M383 238h1M351 235h1M367 243h1M389 237h1M364 238h1M354 242h1M353 240h1M361 233h1M369 244h1M352 238h1M358 241h1M350 232h1M361 232h1M376 231h1M366 235h1M376 235h1M363 244h1M373 242h1M381 239h1M369 231h1M347 236h1M369 241h1M357 236h1M388 233h1M364 237h1M358 243h1M348 236h1M347 234h1M382 229h1M347 237h1M369 234h1M370 236h1M361 237h1M379 233h1M375 238h1M363 234h1M369 240h1M355 240h1M366 240h1M368 236h1M368 240h1M350 237h1M339 238h1M360 237h1M376 241h1M381 241h1M363 234h1M394 235h1M362 239h1M357 238h1M368 235h1M354 237h1M370 233h1M367 238h1M356 239h1M351 241h1M358 241h1M367 237h1M351 240h1M354 246h1M370 238h1M366 240h1M371 239h1M375 237h1M383 231h1M348 239h1M365 231h1M352 234h1M379 240h1M347 232h1M367 232h1M359 235h1M366 239h1M358 235h1M368 243h1M370 236h1M376 237h1M351 240h1M383 233h1M374 232h1M365 237h1M362 237h1M373 235h1M363 236h1M369 235h1M374 238h1M359 232h1M363 241h1M372 237h1M388 243h1M371 242h1M363 236h1M368 230h1M366 235h1M380 239h1M383 235h1M382 238h1M371 239h1M352 241h1M361 240h1M365 233h1M362 238h1M362 244h1M379 237h1M362 243h1M366 242h1M351 229h1M374 241h1M364 236h1M371 239h1M365 237h1M368 241h1M373 227h1M369 236h1M377 240h1M360 237h1M340 237h1M354 238h1M358 242h1M380 236h1M356 242h1M351 236h1M361 238h1M366 234h1M375 239h1M369 243h1M386 238h1M361 236h1M364 233h1M358 235h1M371 240h1M339 231h1M359 233h1M365 230h1M363 238h1M370 235h1M370 240h1M362 233h1M360 238h1M369 231h1M349 231h1M385 239h1M368 233h1M342 245h1M372 228h1M383 239h1M365 238h1M375 229h1M369 232h1M361 236h1M361 234h1M367 236h1M368 240h1M356 236h1M356 240h1M374 241h1M377 238h1M355 234h1M379 238h1M374 235h1M363 244h1M376 231h1M358 238h1M377 241h1M375 242h1M373 240h1M356 232h1M360 242h1M380 233h1M362 237h1M372 238h1M382 238h1M363 236h1M377 236h1M371 235h1M353 229h1M362 234h1M374 236h1M355 240h1M361 245h1M361 237h1M357 243h1M369 236h1M365 229h1M379 237h1M378 234h1M381 235h1M366 245h1M360 237h1M364 237h1M367 236h1M370 235h1M380 240h1M353 235h1M362 241h1M344 241h1M344 235h1M356 236h1M374 241h1M364 236h1M355 242h1M360 247h1M348 234h1M373 244h1M362 239h1M359 238h1M342 240h1M360 239h1M364 233h1M349 233h1M365 240h1M378 241h1M388 241h1M385 240h1M369 230h1M376 237h1M361 232h1M379 237h1M361 234h1M365 239h1M372 237h1M368 237h1M361 241h1M364 235h1M384 233h1M361 238h1M364 237h1M376 241h1M351 244h1M353 233h1M373 233h1M352 240h1M371 239h1M381 241h1M360 235h1M370 235h1M368 240h1M368 232h1M384 237h1M369 231h1M365 232h1M383 235h1M350 237h1M355 237h1M355 230h1M363 236h1M357 240h1M375 237h1M365 238h1M376 238h1M353 239h1M391 240h1M369 235h1M349 239h1M372 239h1M367 242h1M364 230h1M364 238h1M374 239h1M373 239h1M369 233h1M362 241h1M383 227h1M364 235h1M375 230h1M359 238h1M357 230h1M386 236h1M366 239h1M386 234h1M364 236h1M376 241h1M383 235h1M352 235h1M345 238h1M343 239h1M354 239h1M382 237h1M364 237h1M359 238h1M363 238h1M357 239h1M369 234h1M365 232h1M350 233h1M370 236h1M365 238h1M362 236h1M359 245h1M356 239h1M363 244h1M353 237h1M370 235h1M389 238h1M370 231h1M370 232h1M371 238h1M364 235h1M356 235h1M382 234h1M362 239h1M350 235h1M378 238h1M371 240h1M365 228h1M374 239h1M339 236h1M381 233h1M376 243h1M364 236h1M354 239h1M368 239h1M365 237h1M359 241h1M364 242h1M375 234h1M353 241h1M370 236h1M377 229h1M372 236h1M373 235h1M360 240h1M369 232h1M371 240h1M347 233h1M353 233h1M358 244h1M354 233h1M363 242h1M361 241h1M377 235h1M370 241h1M368 243h1M370 243h1M354 238h1M339 232h1M359 235h1M363 239h1M349 230h1" stroke="#cc10a0" stroke-width="1" stroke-opacity="0.26" fill="none"/>
<path transform="translate(0 0.5)" d="M387 249h1M391 253h1M379 244h1M380 239h1M362 252h1M399 232h1M392 243h1M395 238h1M362 249h1M377 255h1M370 254h1M404 240h1M393 271h1M369 253h1M374 253h1M367 250h1M385 247h1M359 268h1M388 265h1M369 256h1M370 260h1M375 264h1M371 230h1M367 260h1M389 256h1M381 243h1M379 250h1M381 259h1M366 251h1M392 243h1M382 243h1M382 261h1M395 243h1M375 266h1M355 256h1M393 268h1M389 244h1M376 249h1M365 250h1M375 233h1M358 226h1M388 247h1M354 243h1M375 267h1M379 238h1M366 237h1M361 238h1M400 249h1M393 248h1M372 262h1M380 241h1M359 256h1M363 252h1M348 241h1M390 251h1M378 247h1M376 240h1M391 261h1M365 238h1M372 234h1M399 241h1M382 250h1M369 245h1M372 272h1M382 259h1M393 241h1M370 248h1M378 239h1M387 243h1M371 259h1M390 236h1M374 249h1M386 255h1M373 242h1M373 260h1M399 244h1M376 276h1M388 238h1M360 246h1M363 247h1M369 239h1M380 237h1M376 256h1M378 260h1M375 262h1M368 247h1M362 259h1M385 247h1M396 249h1M376 233h1M376 254h1M368 268h1M386 262h1M369 271h1M393 245h1M379 266h1M365 252h1M390 244h1M364 242h1M376 263h1M405 229h1M365 260h1M374 246h1M380 262h1M383 239h1M379 236h1M383 226h1M375 260h1M398 247h1M354 256h1M390 252h1M380 243h1M354 253h1M377 243h1M369 257h1M374 253h1M387 238h1M385 235h1M388 250h1M385 254h1M374 233h1M397 244h1M380 249h1M381 246h1M358 244h1M399 248h1M370 269h1M377 238h1M366 247h1M393 252h1M373 248h1M369 253h1M368 262h1M379 259h1M396 246h1M377 218h1M367 256h1M371 263h1M373 249h1M355 265h1M376 264h1M383 247h1M386 243h1M368 252h1M378 260h1M366 242h1M396 252h1M373 252h1M364 272h1M364 232h1M377 255h1M386 249h1M379 247h1M375 248h1M406 240h1M372 230h1M379 255h1M380 232h1M382 264h1M374 248h1M384 246h1M369 246h1M358 258h1M386 253h1M370 256h1M360 239h1M380 235h1M360 252h1M379 265h1M396 265h1M374 233h1M363 257h1M363 259h1M391 251h1M362 267h1M400 252h1M402 232h1M379 258h1M394 259h1M373 244h1M372 244h1M377 246h1M384 240h1M385 238h1M395 256h1M376 248h1M383 252h1M368 260h1M352 246h1M364 256h1M360 231h1M388 240h1M375 254h1M383 253h1M364 258h1M391 252h1M389 230h1M386 231h1M365 256h1M408 251h1M376 251h1M386 233h1M371 245h1M393 250h1M385 260h1M371 242h1M382 229h1M380 248h1M360 258h1M372 266h1M389 255h1M389 245h1M392 251h1M387 257h1M394 225h1M367 238h1M365 261h1M366 252h1M374 261h1M396 244h1M368 247h1M370 235h1M364 256h1M381 250h1M379 241h1M373 241h1M373 230h1M384 250h1M373 253h1M389 246h1M404 253h1M378 247h1M360 244h1M380 250h1M387 264h1M384 251h1M371 240h1M372 250h1M388 253h1M366 253h1M381 233h1M370 237h1M374 263h1M389 268h1M369 262h1M370 235h1M381 251h1M379 262h1M376 258h1M376 245h1M386 258h1M398 255h1M354 244h1M379 262h1M357 259h1M367 262h1M388 243h1M396 251h1M381 264h1M401 240h1M382 252h1M386 242h1M379 261h1M381 262h1M387 264h1M391 233h1M385 244h1M374 260h1M392 250h1M396 260h1M384 254h1M388 262h1M368 252h1M362 249h1M381 245h1M368 250h1M398 264h1M377 242h1M378 243h1M384 255h1M397 235h1M374 242h1M387 236h1M399 261h1M362 267h1M404 241h1M384 269h1M375 250h1M370 259h1M390 237h1M389 251h1M395 242h1M370 255h1M382 245h1M370 259h1M356 245h1M372 237h1M378 232h1M377 254h1M390 236h1M385 260h1M370 256h1M395 255h1M378 253h1M372 258h1M381 243h1M407 246h1M369 253h1M380 238h1M370 260h1M377 249h1M389 243h1M357 245h1M376 248h1M371 243h1M357 255h1M384 250h1M395 275h1M363 249h1M372 226h1M386 246h1M377 250h1M373 244h1M391 248h1M381 246h1M355 253h1M350 253h1M381 246h1M384 264h1M388 257h1M373 248h1M367 269h1M390 244h1M384 250h1M395 249h1M373 240h1M342 238h1M379 262h1M369 250h1M390 262h1M351 258h1M375 259h1M367 235h1M345 244h1M369 241h1M369 274h1M360 253h1M391 245h1M355 258h1M382 262h1M363 239h1M369 241h1M382 255h1M377 249h1M359 242h1M386 262h1M395 269h1M359 234h1M378 252h1M361 235h1M387 226h1M386 255h1M392 244h1M387 243h1M391 259h1M371 233h1M372 219h1M391 238h1M375 261h1M389 251h1M373 259h1M378 246h1M370 257h1M373 265h1M354 248h1M374 233h1M394 229h1M369 248h1M384 262h1M371 246h1M392 244h1M387 247h1M370 246h1M363 246h1M379 248h1M387 247h1M379 240h1M362 266h1M397 239h1M384 238h1M368 257h1M389 251h1M391 246h1M376 251h1M366 250h1M354 245h1M385 241h1M347 248h1M386 246h1M379 255h1M390 242h1M387 267h1M383 242h1M366 249h1M384 225h1M383 243h1M385 249h1M358 251h1M354 256h1M372 261h1M357 260h1M365 249h1M364 274h1M375 251h1M398 224h1M373 241h1M373 247h1M386 254h1M382 260h1M369 239h1M361 265h1M375 255h1M383 238h1M395 251h1M399 249h1M366 260h1M374 235h1M387 243h1M388 263h1M391 240h1M389 256h1M383 259h1M383 243h1M393 241h1M371 248h1M361 267h1M357 237h1M374 227h1M377 258h1M383 252h1M371 242h1M383 256h1M380 259h1M347 251h1M346 256h1M375 237h1M371 251h1M367 251h1M389 246h1M391 249h1M372 252h1M386 240h1M374 264h1M389 252h1M371 250h1M383 252h1M384 235h1M384 236h1M365 249h1M375 262h1M399 264h1M370 254h1M387 228h1M393 264h1M386 238h1M377 251h1M366 243h1M388 236h1M386 235h1M361 231h1M355 278h1M369 249h1M382 232h1M381 260h1M392 260h1M371 236h1M380 254h1M365 251h1M385 270h1M367 245h1M373 244h1M376 244h1M361 248h1M361 274h1M393 243h1M382 255h1M378 240h1M370 261h1M376 255h1M376 259h1M377 252h1M377 228h1M393 258h1M366 236h1M379 239h1M372 268h1M373 240h1M364 259h1M383 252h1M362 248h1M376 246h1M377 246h1M378 251h1M389 259h1M370 230h1M389 229h1M385 260h1M389 259h1M385 270h1M378 232h1M385 243h1M388 238h1M383 234h1M374 250h1M388 237h1M385 259h1M362 272h1M377 252h1M400 241h1M390 258h1M399 255h1M372 256h1M357 244h1M373 248h1M368 245h1M392 230h1M379 235h1M378 240h1M351 237h1M395 256h1M374 249h1M376 233h1M395 275h1M367 236h1M371 252h1M380 267h1M383 241h1M379 244h1M374 267h1M374 245h1M393 241h1M380 220h1M382 236h1M376 260h1M390 220h1M392 241h1M376 261h1M374 245h1M374 248h1M375 262h1M393 234h1M370 251h1M369 254h1M379 249h1M370 255h1M362 251h1M376 251h1M386 244h1M368 258h1M379 257h1M402 257h1M374 240h1M379 247h1M364 238h1M387 235h1M393 255h1M368 257h1M371 236h1M371 253h1M386 239h1M379 260h1M370 245h1M362 260h1M366 243h1M370 244h1M409 232h1M382 234h1M388 249h1M381 272h1M363 243h1M337 239h1M369 252h1M386 245h1M365 243h1M394 238h1M397 241h1M372 247h1M386 255h1M375 256h1M357 239h1M358 252h1M372 259h1M372 247h1M369 237h1M370 273h1M379 233h1M365 258h1M344 236h1" stroke="#cc10a0" stroke-width="1" stroke-opacity="0.25" fill="none"/>
<path transform="translate(0 0.5)" d="M382 246h1M390 242h1M376 252h1M378 250h1M372 247h1M397 240h1M384 249h1M385 248h1M389 245h1M378 251h1M386 237h1M389 247h1M391 249h1M376 247h1M389 256h1M383 254h1M393 251h1M394 254h1M378 241h1M379 261h1M392 243h1M384 263h1M379 250h1M382 255h1M372 252h1M386 257h1M387 252h1M378 251h1M381 261h1M387 250h1M386 250h1M382 254h1M385 244h1M391 254h1M392 247h1M391 260h1M389 252h1M384 239h1M378 249h1M392 253h1M381 251h1M384 245h1M384 255h1M377 247h1M384 243h1M379 253h1M399 250h1M381 260h1M386 237h1M381 237h1M383 259h1M398 271h1M391 247h1M381 247h1M378 243h1M387 250h1M386 249h1M375 253h1M385 255h1M386 243h1M391 255h1M383 254h1M388 246h1M386 245h1M394 247h1M391 261h1M385 254h1M394 237h1M399 254h1M377 251h1M399 250h1M394 257h1M381 252h1M396 244h1M385 246h1M381 248h1M371 245h1M374 243h1M381 256h1M378 255h1M382 245h1M374 251h1M384 255h1M381 236h1M388 259h1M385 251h1M388 251h1M402 249h1M388 256h1M388 238h1M387 248h1M378 256h1M380 252h1M380 254h1M393 244h1M380 256h1M379 257h1M387 244h1M381 258h1M390 251h1M386 257h1M381 252h1M388 259h1M382 249h1M387 248h1M383 253h1M382 248h1M386 251h1M382 249h1M377 245h1M380 243h1M395 264h1M383 249h1M384 247h1M381 256h1M388 241h1M386 244h1M389 245h1M387 245h1M384 252h1M389 241h1M381 244h1M374 251h1M383 248h1M379 261h1M379 233h1M382 252h1M378 249h1M370 248h1M385 244h1M378 243h1M381 257h1M385 246h1M382 255h1M380 244h1M390 250h1M393 248h1M383 252h1M386 250h1M379 245h1M380 246h1M393 244h1M388 253h1M375 256h1M386 252h1M386 256h1M387 245h1M381 244h1M380 244h1M386 256h1M383 256h1M392 254h1M374 233h1M392 253h1M376 245h1M386 250h1M376 249h1M375 248h1M389 251h1M381 254h1M397 248h1M386 240h1M390 239h1M383 256h1M389 228h1M379 234h1M383 240h1M399 257h1M378 248h1M385 256h1M394 254h1M376 229h1M375 242h1M390 241h1M393 255h1M385 255h1M380 256h1M385 246h1M380 236h1M383 253h1M382 247h1M396 268h1M376 258h1M385 249h1M379 248h1M387 252h1M381 246h1M389 259h1M382 253h1M389 252h1M379 250h1M385 242h1M385 250h1M380 260h1M387 244h1M392 248h1M378 242h1M392 242h1M387 253h1M381 254h1M391 249h1M385 254h1M385 258h1M390 250h1M386 247h1M389 245h1M384 241h1M400 252h1M385 253h1M374 259h1M374 254h1M382 255h1M389 251h1M391 248h1M386 248h1M380 242h1M387 261h1M379 246h1M380 252h1M372 251h1M380 243h1M386 251h1M387 258h1M376 257h1M388 266h1M394 253h1M372 251h1M395 255h1M384 241h1M385 240h1M380 247h1M387 245h1M384 249h1M386 254h1M388 248h1M386 245h1M377 246h1M385 236h1M390 252h1M375 243h1M379 234h1M373 252h1M372 264h1M394 260h1M388 257h1M393 243h1M395 244h1M382 232h1M383 238h1M400 252h1M391 246h1M391 253h1M382 253h1M382 241h1M371 239h1M389 263h1M382 245h1M393 248h1M387 250h1M369 240h1M387 250h1M383 241h1M386 248h1M378 248h1M386 264h1M392 243h1M390 239h1M369 244h1M397 254h1M380 252h1M371 248h1M378 241h1M382 244h1M387 241h1M387 253h1M390 254h1M389 257h1M393 257h1M393 241h1M383 259h1M381 255h1M392 259h1M381 251h1M384 254h1M372 249h1M393 249h1M391 259h1M386 247h1M381 241h1M382 248h1M391 245h1M380 249h1M383 258h1M385 259h1M385 232h1M384 242h1M385 243h1M391 248h1M382 264h1M383 246h1M382 254h1M386 250h1M393 245h1M390 255h1M387 246h1M384 257h1M367 260h1M379 256h1M388 252h1M388 246h1M396 250h1M390 248h1M383 257h1M378 249h1M379 239h1M391 250h1M373 249h1M400 257h1M383 252h1M383 251h1M384 251h1M382 255h1M377 238h1M374 245h1M386 253h1M390 239h1M374 254h1M397 254h1M384 257h1M396 256h1M386 247h1M381 247h1M377 252h1M392 248h1M390 254h1M384 249h1M395 244h1M380 247h1M380 253h1M389 248h1M389 237h1M386 266h1M391 243h1M391 245h1M389 254h1M375 262h1M376 247h1M389 254h1M386 247h1M390 252h1M383 257h1M395 246h1M382 242h1M377 251h1M391 240h1M383 252h1M381 255h1M389 249h1M393 252h1M392 254h1M383 260h1M380 252h1M383 244h1M376 258h1M394 257h1M372 254h1M386 254h1M387 254h1M388 257h1M386 246h1M370 252h1M371 246h1M385 249h1M380 262h1M375 258h1M383 249h1M385 253h1M373 253h1M384 249h1M385 249h1M392 244h1M380 253h1M384 256h1M366 248h1M385 262h1M392 243h1M392 244h1M387 247h1M376 255h1M389 248h1M379 244h1M384 257h1M382 249h1M382 241h1M382 245h1M393 251h1M393 249h1M386 259h1M388 250h1M388 252h1M392 246h1M382 244h1M393 254h1M383 253h1M397 255h1M384 243h1M389 267h1M393 248h1M375 256h1M379 247h1M399 247h1M383 267h1M396 234h1M390 248h1M386 246h1M387 254h1M383 255h1M390 242h1M397 251h1M391 259h1M385 266h1M379 243h1M383 262h1M395 255h1M379 247h1M384 250h1M377 250h1M382 253h1M379 246h1M386 254h1M385 251h1M384 245h1M382 244h1M388 252h1M384 244h1M382 248h1M392 247h1M386 245h1M389 248h1M379 237h1M383 247h1M392 241h1M381 241h1M390 251h1M382 254h1M386 246h1M384 254h1M391 261h1M387 250h1M385 244h1M384 253h1M382 248h1M376 254h1M392 250h1M386 251h1M385 248h1M391 264h1M391 252h1M382 241h1M391 248h1M388 246h1M369 263h1M377 254h1M392 239h1M386 249h1M375 261h1M382 253h1M385 262h1M379 247h1M387 254h1M385 257h1M392 252h1M376 243h1M374 246h1M391 260h1M386 255h1M382 248h1M390 239h1M384 244h1M386 253h1M386 259h1M385 258h1M386 236h1M385 244h1M382 234h1M383 247h1M377 248h1M390 250h1M389 244h1M396 243h1M377 251h1M389 258h1M390 256h1M375 251h1M381 235h1M394 242h1M389 255h1M383 243h1M393 250h1M386 250h1M387 254h1M386 256h1M385 241h1M380 253h1M379 251h1M390 245h1M385 241h1M377 253h1M386 242h1M382 245h1M383 245h1M381 264h1M381 241h1M382 258h1M383 254h1M383 247h1M394 251h1M381 254h1M376 240h1M383 247h1M385 241h1M387 248h1M383 252h1M382 256h1M379 251h1M384 234h1M378 246h1M388 241h1M381 246h1M375 246h1M391 256h1M378 244h1M380 235h1M399 245h1M387 246h1M383 239h1M378 248h1M380 254h1M381 252h1M388 241h1M392 248h1M400 246h1M391 254h1M375 239h1M375 255h1M385 256h1M377 254h1M384 253h1M389 250h1M393 240h1M382 256h1M378 254h1M385 251h1M369 244h1M389 242h1M390 254h1M366 250h1M377 242h1M374 251h1M393 266h1M394 246h1M374 256h1M390 250h1M376 241h1M383 259h1M394 243h1M373 249h1M390 244h1M385 255h1M374 261h1M394 250h1M386 253h1M380 254h1M385 244h1M384 248h1M381 254h1M390 256h1M382 254h1M383 261h1M378 256h1M381 238h1M389 241h1M379 249h1M387 249h1M387 251h1M374 258h1M394 246h1M389 248h1M379 248h1M372 245h1M389 256h1M388 251h1M380 256h1M397 252h1M396 250h1M383 255h1M385 248h1M381 250h1M384 239h1M388 261h1M387 253h1M388 255h1M390 247h1M377 253h1M387 246h1M383 253h1M395 246h1M379 249h1M379 246h1M379 257h1M387 251h1M395 270h1M388 255h1M378 253h1M381 240h1M387 246h1M394 248h1M383 244h1M384 249h1M389 245h1M380 243h1M380 247h1M384 245h1M390 245h1M386 249h1M387 250h1M382 249h1M381 249h1M392 255h1M393 244h1M392 252h1M389 248h1M396 244h1M386 241h1M383 252h1M386 251h1M393 243h1M374 256h1M375 248h1M399 254h1M384 256h1M379 254h1M382 245h1M378 246h1M386 261h1M391 256h1M384 261h1M384 259h1M377 254h1M378 248h1M383 238h1M387 250h1M374 249h1M384 239h1M380 256h1M382 248h1M384 248h1M378 249h1M372 251h1M383 241h1M375 251h1M382 245h1M381 251h1M391 247h1M372 244h1M379 252h1M392 252h1M379 256h1M382 242h1M383 263h1M384 245h1M389 244h1M392 254h1M376 247h1M382 244h1M387 248h1M395 251h1M391 256h1M387 255h1M380 256h1M391 256h1M381 246h1M392 249h1M401 253h1M377 254h1M386 237h1M381 235h1M401 242h1M379 247h1M380 257h1M383 240h1M389 252h1M376 256h1M376 244h1M394 246h1M385 244h1M383 237h1M383 245h1M390 247h1M379 246h1M373 252h1M373 242h1M386 247h1M397 241h1M387 261h1M381 241h1M391 261h1M380 255h1M389 250h1M390 248h1M389 248h1M384 243h1M384 249h1M379 245h1M382 259h1M388 254h1M393 254h1M395 259h1M389 249h1M386 249h1M380 240h1M387 241h1M389 261h1M385 244h1M381 253h1M384 247h1M386 242h1M378 252h1M380 254h1M382 250h1M384 258h1M383 250h1M378 250h1M384 251h1M372 254h1M385 251h1M387 256h1M379 246h1M386 240h1M399 237h1M388 246h1M389 259h1M397 245h1M385 245h1M376 250h1M381 242h1M383 246h1M378 251h1M388 252h1M380 244h1M370 254h1M391 244h1M376 242h1M394 248h1M382 250h1M385 247h1M384 254h1M391 243h1M384 249h1M386 265h1M389 254h1M384 253h1M392 257h1M380 251h1M387 243h1M383 247h1M390 250h1M397 253h1M382 251h1M385 244h1M387 241h1M386 247h1M385 245h1M396 245h1M390 250h1M392 245h1M377 254h1M391 254h1M361 260h1M394 250h1M379 253h1M374 248h1M389 258h1M382 248h1M376 249h1M380 250h1M380 252h1M384 245h1M388 253h1M383 248h1M390 253h1M384 262h1M382 241h1M381 251h1M374 261h1M390 244h1M387 242h1M384 248h1M394 238h1M382 238h1M382 248h1M385 256h1M379 246h1M394 250h1M379 250h1M378 244h1M381 240h1M396 247h1M386 248h1M384 244h1M387 247h1M379 255h1M394 252h1M388 248h1M385 254h1M385 258h1M394 251h1M386 244h1M382 245h1M382 244h1M387 252h1M384 260h1M386 249h1M386 246h1M389 244h1M384 262h1M386 243h1M378 257h1M373 260h1M393 247h1M386 247h1M379 252h1M380 253h1M387 246h1M385 250h1M384 248h1M392 245h1M386 256h1M387 247h1M377 248h1M372 247h1M385 258h1M389 256h1M388 251h1M375 246h1M383 249h1M377 240h1M386 248h1M385 248h1M383 242h1M390 252h1M384 260h1M380 255h1M384 250h1M390 250h1M385 242h1M386 252h1M382 242h1M391 250h1M392 249h1M401 242h1M389 250h1M386 248h1M388 255h1M385 243h1M391 256h1M377 251h1M394 253h1M382 251h1M387 243h1M383 248h1M383 258h1M374 243h1M380 257h1M384 248h1M383 259h1M397 251h1M379 248h1M374 255h1M383 256h1M381 245h1M371 251h1M391 236h1M378 249h1M391 261h1M395 251h1M376 244h1M388 250h1M380 249h1M386 263h1M383 253h1M387 254h1M380 259h1M393 253h1M378 243h1M383 249h1M379 249h1M375 248h1M376 251h1M369 245h1M382 241h1M382 248h1M393 254h1M382 254h1M384 254h1M382 251h1M383 255h1M396 259h1M393 249h1M395 248h1M384 244h1M391 240h1M384 254h1M378 252h1M378 248h1M387 258h1M398 243h1M374 245h1M386 249h1M376 244h1M386 250h1M397 242h1M381 271h1M377 256h1M381 250h1M392 246h1M383 250h1M385 260h1M394 246h1M393 240h1M380 245h1M381 250h1M386 244h1M387 245h1M388 251h1M378 244h1M391 249h1M386 247h1M394 252h1M380 251h1M378 247h1M382 243h1M379 256h1M379 248h1M377 257h1M379 254h1M389 253h1M381 236h1M379 248h1M376 242h1M387 249h1M391 252h1M393 251h1M384 251h1M390 255h1M389 247h1M378 256h1M391 243h1M385 243h1M385 262h1M382 247h1M384 247h1M387 240h1M389 245h1M385 265h1M392 251h1M384 252h1M390 270h1M397 258h1M380 258h1M384 251h1M382 247h1M388 251h1M389 246h1M379 247h1M383 252h1M396 250h1M383 265h1M396 255h1M391 239h1M382 249h1M385 238h1M386 261h1M393 251h1M388 250h1M371 253h1M391 241h1M399 254h1M388 258h1M379 249h1M375 255h1M388 263h1M389 247h1M372 247h1M383 249h1M381 247h1M386 246h1M379 248h1M375 236h1M384 243h1" stroke="#cc10a0" stroke-width="1" stroke-opacity="0.45" fill="none"/>
<ellipse cx="385.2" cy="250" rx="8.5" ry="9" fill="#cc10a0" fill-opacity="0.8" transform="rotate(0 385.2 250)" filter="url(#b15)"/>
</g>
<rect x="329.80" y="215.40" width="83.90" height="84.40" fill="none" stroke="#8a8a8a" stroke-width="1.1"/>
<path d="M328.2 303.4l2.6 -1.4M349.2 303.4l2.6 -1.4M370.1 303.4l2.6 -1.4M391.1 303.4l2.6 -1.4M412.1 303.4l2.6 -1.4M325.2 298.2l1.6 2.2M325.2 277.1l1.6 2.2M325.2 256.0l1.6 2.2M325.2 234.9l1.6 2.2M325.2 213.8l1.6 2.2" stroke="#666" stroke-width="1.1" fill="none"/>
<path d="M329.5 226.8 L382.0 226.8 L384.5 236.0 L369.2 248.0 L329.5 239.2 Z" fill="none" stroke="#9a9a9a" stroke-width="0.8"/>
<path d="M369.2 248.0 L376.3 236.5 L395.8 236.5 L400.2 244.5 L400.2 253.4 L395.0 260.4 L383.0 264.0 L372.0 261.0 L369.0 255.0 Z" fill="none" stroke="#9a9a9a" stroke-width="0.8"/>
<path d="M332.0 262.0 L337.5 256.5 L347.5 254.2 L359.5 254.5 L366.5 259.0 L371.0 266.0 L371.0 276.0 L366.5 288.0 L360.0 297.6 L334.5 297.6 L332.0 291.0 Z" fill="none" stroke="#9a9a9a" stroke-width="0.8"/>
<text transform="translate(342.00 226.00) scale(1 1.0)" font-size="10.2" fill="#1e1e1e" stroke="#1e1e1e" stroke-width="0.22" text-anchor="start" font-family='"Liberation Serif", serif' font-weight="normal" >7.8</text>
<text transform="translate(390.50 274.50) scale(1 1.0)" font-size="10.2" fill="#1e1e1e" stroke="#1e1e1e" stroke-width="0.22" text-anchor="start" font-family='"Liberation Serif", serif' font-weight="normal" >76.1</text>
<text transform="translate(379.50 296.20) scale(1 1.0)" font-size="10.2" fill="#1e1e1e" stroke="#1e1e1e" stroke-width="0.22" text-anchor="start" font-family='"Liberation Serif", serif' font-weight="normal" >8.1</text>
<text transform="translate(322.6 279.6) rotate(-90) scale(1 1.0)" stroke="#1e1e1e" stroke-width="0.22" font-size="10.3" fill="#1e1e1e" font-family='"Liberation Serif", serif'>CD21/35</text>
<text transform="translate(370.75 311.80) scale(1 1.0)" font-size="10.3" fill="#1e1e1e" stroke="#1e1e1e" stroke-width="0.22" text-anchor="middle" font-family='"Liberation Serif", serif' font-weight="normal" >CD23</text>
<text transform="translate(246.70 57.80) scale(1 1.0)" font-size="10.8" fill="#1e1e1e" stroke="#1e1e1e" stroke-width="0.22" text-anchor="middle" font-family='"Liberation Serif", serif' font-weight="normal" >MZ B cells</text>
<path d="M204.4 116.7 L204.4 116.2 L204.9 116.2 L205.4 116.2 L205.9 116.2 L206.4 116.2 L206.9 116.2 L207.4 116.2 L207.9 116.2 L208.4 116.2 L208.9 116.2 L209.4 116.2 L209.9 116.2 L210.4 116.2 L210.9 116.2 L211.4 116.2 L211.9 116.2 L212.4 116.2 L212.9 116.2 L213.4 116.2 L213.9 116.2 L214.4 116.2 L214.9 116.2 L215.4 116.2 L215.9 116.2 L216.4 116.2 L216.9 116.2 L217.4 116.2 L217.9 116.2 L218.4 116.2 L219.0 116.2 L219.5 116.2 L220.0 116.2 L220.5 116.2 L221.0 116.2 L221.5 116.2 L222.0 116.2 L222.5 116.2 L223.0 116.2 L223.5 116.2 L224.0 116.2 L224.5 116.2 L225.0 116.2 L225.5 116.2 L226.0 116.2 L226.5 116.2 L227.0 116.2 L227.5 116.2 L228.0 116.2 L228.5 116.2 L229.0 116.2 L229.5 116.2 L230.0 116.2 L230.5 116.2 L231.0 116.2 L231.5 116.2 L232.0 116.2 L232.5 116.2 L233.0 116.1 L233.5 116.1 L234.0 116.1 L234.5 116.1 L235.0 116.1 L235.5 116.1 L236.0 116.0 L236.5 116.0 L237.0 115.9 L237.5 115.9 L238.0 115.8 L238.5 115.7 L239.0 115.6 L239.5 115.5 L240.0 115.4 L240.5 115.2 L241.0 115.0 L241.5 114.8 L242.0 114.5 L242.5 114.1 L243.0 113.7 L243.5 113.1 L244.0 112.5 L244.5 111.7 L245.0 110.8 L245.5 109.6 L246.0 108.3 L246.5 106.6 L247.1 104.6 L247.6 102.2 L248.1 99.3 L248.6 95.8 L249.1 91.5 L249.6 86.3 L250.1 80.1 L250.6 72.6 L251.1 69.7 L251.6 77.7 L252.1 84.4 L252.6 89.8 L253.1 94.4 L253.6 98.2 L254.1 101.3 L254.6 103.8 L255.1 106.0 L255.6 107.7 L256.1 109.2 L256.6 110.4 L257.1 111.4 L257.6 112.2 L258.1 112.9 L258.6 113.5 L259.1 114.0 L259.6 114.3 L260.1 114.7 L260.6 114.9 L261.1 115.1 L261.6 115.3 L262.1 115.5 L262.6 115.6 L263.1 115.7 L263.6 115.8 L264.1 115.9 L264.6 115.9 L265.1 116.0 L265.6 116.0 L266.1 116.0 L266.6 116.1 L267.1 116.1 L267.6 116.1 L268.1 116.1 L268.6 116.1 L269.1 116.1 L269.6 116.2 L270.1 116.2 L270.6 116.2 L271.1 116.2 L271.6 116.2 L272.1 116.2 L272.6 116.2 L273.1 116.2 L273.6 116.2 L274.1 116.2 L274.6 116.2 L275.2 116.2 L275.7 116.2 L276.2 116.2 L276.7 116.2 L277.2 116.2 L277.7 116.2 L278.2 116.2 L278.7 116.2 L279.2 116.2 L279.7 116.2 L280.2 116.2 L280.7 116.2 L281.2 116.2 L281.7 116.2 L282.2 116.2 L282.7 116.2 L283.2 116.2 L283.7 116.2 L284.2 116.2 L284.7 116.2 L285.2 116.2 L285.7 116.2 L286.2 116.2 L286.7 116.2 L287.2 116.2 L287.7 116.2 L288.2 116.2 L288.7 116.2 L289.2 116.2 L289.2 116.7 Z" fill="#000"/>
<rect x="204.40" y="66.20" width="84.80" height="50.50" fill="none" stroke="#6a6a6a" stroke-width="1"/>
<path d="M203.0 120.1l2.4 -1.3M224.2 120.1l2.4 -1.3M245.4 120.1l2.4 -1.3M266.6 120.1l2.4 -1.3M287.8 120.1l2.4 -1.3" stroke="#777" stroke-width="1.0" fill="none"/>
<path d="M240.5 77.7H268.0M240.5 75.2v5M268.0 75.2v5M204.4 91.4H240.5M240.5 88.9v5" stroke="#6d6d6d" stroke-width="1.3" fill="none"/>
<text transform="translate(217.00 90.80) scale(1 1.0)" font-size="10.2" fill="#3434b4" stroke="#3434b4" stroke-width="0.22" text-anchor="start" font-family='"Liberation Serif", serif' font-weight="normal" >1.5</text>
<text transform="translate(260.40 90.80) scale(1 1.0)" font-size="10.2" fill="#d22a48" stroke="#d22a48" stroke-width="0.22" text-anchor="start" font-family='"Liberation Serif", serif' font-weight="normal" >98.5</text>
<text transform="translate(247.00 130.90) scale(1 1.0)" font-size="10.3" fill="#1e1e1e" stroke="#1e1e1e" stroke-width="0.22" text-anchor="middle" font-family='"Liberation Serif", serif' font-weight="normal" >Ly-5.1</text>
<text transform="translate(246.50 155.40) scale(1 1.0)" font-size="10.8" fill="#1e1e1e" stroke="#1e1e1e" stroke-width="0.22" text-anchor="middle" font-family='"Liberation Serif", serif' font-weight="normal" >FO B cells</text>
<path d="M204.6 213.8 L204.6 213.0 L205.1 213.0 L205.6 212.9 L206.1 212.8 L206.6 212.8 L207.1 212.7 L207.6 212.6 L208.1 212.5 L208.6 212.4 L209.1 212.3 L209.6 212.2 L210.1 212.0 L210.6 211.9 L211.1 211.7 L211.6 211.6 L212.1 211.4 L212.6 211.2 L213.1 211.0 L213.6 210.8 L214.1 210.6 L214.6 210.3 L215.1 210.1 L215.6 209.9 L216.1 209.6 L216.6 209.4 L217.1 209.1 L217.6 208.9 L218.1 208.7 L218.6 208.4 L219.1 208.2 L219.6 208.0 L220.1 207.8 L220.6 207.6 L221.1 207.5 L221.6 207.3 L222.1 207.2 L222.6 207.1 L223.1 207.0 L223.6 207.0 L224.1 206.9 L224.6 206.9 L225.1 206.9 L225.6 207.0 L226.1 207.1 L226.6 207.1 L227.1 207.2 L227.6 207.4 L228.1 207.5 L228.6 207.7 L229.1 207.9 L229.6 208.1 L230.1 208.3 L230.6 208.5 L231.1 208.7 L231.6 208.9 L232.1 209.2 L232.6 209.4 L233.1 209.6 L233.6 209.8 L234.1 210.0 L234.6 210.2 L235.1 210.4 L235.6 210.6 L236.1 210.7 L236.6 210.9 L237.1 211.0 L237.6 211.0 L238.1 211.1 L238.6 211.1 L239.1 211.1 L239.6 211.0 L240.1 210.9 L240.6 210.7 L241.1 210.4 L241.6 210.1 L242.1 209.7 L242.6 209.1 L243.1 208.5 L243.6 207.7 L244.1 206.7 L244.6 205.5 L245.1 204.1 L245.6 202.4 L246.1 200.3 L246.6 197.8 L247.2 194.8 L247.7 191.3 L248.2 187.0 L248.7 181.9 L249.2 175.7 L249.7 168.4 L250.2 168.5 L250.7 175.8 L251.2 182.0 L251.7 187.1 L252.2 191.4 L252.7 195.0 L253.2 198.0 L253.7 200.5 L254.2 202.6 L254.7 204.3 L255.2 205.8 L255.7 207.0 L256.2 208.1 L256.7 208.9 L257.2 209.6 L257.7 210.2 L258.2 210.7 L258.7 211.2 L259.2 211.5 L259.7 211.8 L260.2 212.0 L260.7 212.3 L261.2 212.4 L261.7 212.6 L262.2 212.7 L262.7 212.8 L263.2 212.9 L263.7 212.9 L264.2 213.0 L264.7 213.0 L265.2 213.1 L265.7 213.1 L266.2 213.2 L266.7 213.2 L267.2 213.2 L267.7 213.2 L268.2 213.2 L268.7 213.2 L269.2 213.2 L269.7 213.3 L270.2 213.3 L270.7 213.3 L271.2 213.3 L271.7 213.3 L272.2 213.3 L272.7 213.3 L273.2 213.3 L273.7 213.3 L274.2 213.3 L274.7 213.3 L275.2 213.3 L275.7 213.3 L276.2 213.3 L276.7 213.3 L277.2 213.3 L277.7 213.3 L278.2 213.3 L278.7 213.3 L279.2 213.3 L279.7 213.3 L280.2 213.3 L280.7 213.3 L281.2 213.3 L281.7 213.3 L282.2 213.3 L282.7 213.3 L283.2 213.3 L283.7 213.3 L284.2 213.3 L284.7 213.3 L285.2 213.3 L285.7 213.3 L286.2 213.3 L286.7 213.3 L287.2 213.3 L287.7 213.3 L288.2 213.3 L288.7 213.3 L289.2 213.3 L289.2 213.8 Z" fill="#000"/>
<rect x="204.60" y="163.80" width="84.60" height="50.00" fill="none" stroke="#6a6a6a" stroke-width="1"/>
<path d="M203.2 217.2l2.4 -1.3M224.3 217.2l2.4 -1.3M245.5 217.2l2.4 -1.3M266.7 217.2l2.4 -1.3M287.8 217.2l2.4 -1.3" stroke="#777" stroke-width="1.0" fill="none"/>
<path d="M238.8 177.0H266.5M238.8 174.5v5M266.5 174.5v5M204.6 190.8H238.8M238.8 188.3v5" stroke="#6d6d6d" stroke-width="1.3" fill="none"/>
<text transform="translate(213.30 187.90) scale(1 1.0)" font-size="10.2" fill="#3434b4" stroke="#3434b4" stroke-width="0.22" text-anchor="start" font-family='"Liberation Serif", serif' font-weight="normal" >27.3</text>
<text transform="translate(262.30 193.00) scale(1 1.0)" font-size="10.2" fill="#d22a48" stroke="#d22a48" stroke-width="0.22" text-anchor="start" font-family='"Liberation Serif", serif' font-weight="normal" >72.7</text>
<text transform="translate(247.10 228.80) scale(1 1.0)" font-size="10.3" fill="#1e1e1e" stroke="#1e1e1e" stroke-width="0.22" text-anchor="middle" font-family='"Liberation Serif", serif' font-weight="normal" >Ly-5.1</text>
<text transform="translate(246.60 253.60) scale(1 1.0)" font-size="10.8" fill="#1e1e1e" stroke="#1e1e1e" stroke-width="0.22" text-anchor="middle" font-family='"Liberation Serif", serif' font-weight="normal" >transitional B cells</text>
<path d="M205.6 311.5 L205.6 310.4 L206.1 310.3 L206.6 310.1 L207.1 310.0 L207.6 310.1 L208.1 309.9 L208.6 309.6 L209.1 309.3 L209.6 309.0 L210.1 308.6 L210.6 307.8 L211.1 307.9 L211.6 307.3 L212.1 307.6 L212.6 307.1 L213.1 306.5 L213.6 305.5 L214.1 304.9 L214.6 304.7 L215.1 305.0 L215.6 304.6 L216.1 304.3 L216.6 303.4 L217.1 304.6 L217.6 303.6 L218.1 302.9 L218.6 300.9 L219.1 300.5 L219.6 299.6 L220.1 298.7 L220.6 299.8 L221.1 299.4 L221.6 300.7 L222.1 299.1 L222.6 298.9 L223.1 299.9 L223.6 302.2 L224.1 304.2 L224.6 301.9 L225.1 301.3 L225.6 300.4 L226.1 302.4 L226.6 302.4 L227.1 303.2 L227.6 303.3 L228.1 303.4 L228.6 303.1 L229.1 302.1 L229.6 302.1 L230.1 301.5 L230.6 301.7 L231.1 301.0 L231.6 301.4 L232.1 302.7 L232.6 302.7 L233.1 301.6 L233.6 299.1 L234.1 299.0 L234.6 298.6 L235.1 299.5 L235.6 297.2 L236.1 295.9 L236.6 293.5 L237.1 295.1 L237.6 290.9 L238.1 282.8 L238.6 278.4 L239.1 274.2 L239.6 275.3 L240.1 269.8 L240.6 271.5 L241.1 262.5 L241.6 262.5 L242.1 262.5 L242.6 267.2 L243.1 280.4 L243.6 276.4 L244.1 282.2 L244.6 277.6 L245.1 278.3 L245.6 279.6 L246.1 281.0 L246.6 287.0 L247.1 290.8 L247.7 294.0 L248.2 296.2 L248.7 296.2 L249.2 297.7 L249.7 295.4 L250.2 296.1 L250.7 298.3 L251.2 297.7 L251.7 297.5 L252.2 294.5 L252.7 295.1 L253.2 295.7 L253.7 298.2 L254.2 300.1 L254.7 299.9 L255.2 300.3 L255.7 300.9 L256.2 301.7 L256.7 301.7 L257.2 302.5 L257.7 303.6 L258.2 304.7 L258.7 305.7 L259.2 306.4 L259.7 306.6 L260.2 306.8 L260.7 307.0 L261.2 308.4 L261.7 308.8 L262.2 309.0 L262.7 309.3 L263.2 309.4 L263.7 309.6 L264.2 309.8 L264.7 310.0 L265.2 310.2 L265.7 310.2 L266.2 310.4 L266.7 310.5 L267.2 310.6 L267.7 310.7 L268.2 310.7 L268.7 310.8 L269.2 310.8 L269.7 310.9 L270.2 310.9 L270.7 310.9 L271.2 310.9 L271.7 310.9 L272.2 311.0 L272.7 311.0 L273.2 311.0 L273.7 311.0 L274.2 311.0 L274.7 311.0 L275.2 311.0 L275.7 311.0 L276.2 311.0 L276.7 311.0 L277.2 311.0 L277.7 311.0 L278.2 311.0 L278.7 311.0 L279.2 311.0 L279.7 311.0 L280.2 311.0 L280.7 311.0 L281.2 311.0 L281.7 311.0 L282.2 311.0 L282.7 311.0 L283.2 311.0 L283.7 311.0 L284.2 311.0 L284.7 311.0 L285.2 311.0 L285.7 311.0 L286.2 311.0 L286.7 311.0 L287.2 311.0 L287.7 311.0 L288.2 311.0 L288.7 311.0 L289.2 311.0 L289.2 311.5 Z" fill="#000"/>
<rect x="205.60" y="262.00" width="83.60" height="49.50" fill="none" stroke="#6a6a6a" stroke-width="1"/>
<path d="M204.2 314.9l2.4 -1.3M225.1 314.9l2.4 -1.3M246.0 314.9l2.4 -1.3M266.9 314.9l2.4 -1.3M287.8 314.9l2.4 -1.3" stroke="#777" stroke-width="1.0" fill="none"/>
<path d="M231.5 275.0H266.5M231.5 272.5v5M266.5 272.5v5M205.6 288.0H231.5M231.5 285.5v5" stroke="#6d6d6d" stroke-width="1.3" fill="none"/>
<text transform="translate(213.30 285.30) scale(1 1.0)" font-size="10.2" fill="#3434b4" stroke="#3434b4" stroke-width="0.22" text-anchor="start" font-family='"Liberation Serif", serif' font-weight="normal" >24.3</text>
<text transform="translate(262.00 290.40) scale(1 1.0)" font-size="10.2" fill="#d22a48" stroke="#d22a48" stroke-width="0.22" text-anchor="start" font-family='"Liberation Serif", serif' font-weight="normal" >75.7</text>
<text transform="translate(247.60 326.50) scale(1 1.0)" font-size="10.3" fill="#1e1e1e" stroke="#1e1e1e" stroke-width="0.22" text-anchor="middle" font-family='"Liberation Serif", serif' font-weight="normal" >Ly-5.1</text>
<text transform="translate(474.00 57.80) scale(1 1.0)" font-size="10.8" fill="#1e1e1e" stroke="#1e1e1e" stroke-width="0.22" text-anchor="middle" font-family='"Liberation Serif", serif' font-weight="normal" >MZ B cells</text>
<path d="M432.5 116.7 L432.5 116.2 L433.0 116.2 L433.5 116.2 L434.0 116.2 L434.5 116.2 L435.0 116.2 L435.5 116.1 L436.0 116.1 L436.5 116.1 L437.0 116.1 L437.5 116.0 L438.0 116.0 L438.5 115.9 L439.0 115.9 L439.5 115.8 L440.0 115.6 L440.5 115.7 L441.0 115.4 L441.5 115.4 L442.0 115.0 L442.5 114.7 L443.0 114.6 L443.5 114.6 L444.0 114.3 L444.5 113.4 L445.0 112.9 L445.5 112.3 L446.0 111.0 L446.6 110.3 L447.1 110.7 L447.6 112.1 L448.1 111.0 L448.6 109.9 L449.1 109.2 L449.6 107.2 L450.1 108.6 L450.6 108.0 L451.1 107.0 L451.6 104.8 L452.1 102.9 L452.6 103.5 L453.1 102.6 L453.6 102.3 L454.1 105.2 L454.6 103.6 L455.1 100.1 L455.6 94.5 L456.1 94.9 L456.6 98.7 L457.1 102.5 L457.6 102.7 L458.1 101.4 L458.6 103.3 L459.1 106.1 L459.6 108.1 L460.1 106.8 L460.6 105.1 L461.1 105.3 L461.6 107.9 L462.1 108.5 L462.6 109.4 L463.1 108.8 L463.6 111.0 L464.1 111.5 L464.6 112.3 L465.1 111.8 L465.6 112.8 L466.1 113.0 L466.6 114.1 L467.1 113.8 L467.6 114.5 L468.1 114.6 L468.6 114.9 L469.1 114.8 L469.6 115.0 L470.1 115.0 L470.6 115.1 L471.1 115.0 L471.6 114.8 L472.1 114.7 L472.6 114.5 L473.1 114.2 L473.6 113.7 L474.1 112.9 L474.7 111.6 L475.2 109.6 L475.7 106.6 L476.2 102.4 L476.7 96.9 L477.2 90.4 L477.7 83.4 L478.2 76.7 L478.7 71.1 L479.2 67.3 L479.7 68.5 L480.2 71.8 L480.7 76.1 L481.2 81.0 L481.7 86.2 L482.2 91.3 L482.7 96.2 L483.2 100.6 L483.7 104.4 L484.2 107.4 L484.7 109.8 L485.2 111.6 L485.7 112.9 L486.2 113.9 L486.7 114.5 L487.2 114.9 L487.7 115.2 L488.2 115.5 L488.7 115.6 L489.2 115.7 L489.7 115.8 L490.2 115.9 L490.7 115.9 L491.2 116.0 L491.7 116.0 L492.2 116.0 L492.7 116.1 L493.2 116.1 L493.7 116.1 L494.2 116.1 L494.7 116.1 L495.2 116.1 L495.7 116.1 L496.2 116.2 L496.7 116.2 L497.2 116.2 L497.7 116.2 L498.2 116.2 L498.7 116.2 L499.2 116.2 L499.7 116.2 L500.2 116.2 L500.7 116.2 L501.2 116.2 L501.7 116.2 L502.3 116.2 L502.8 116.2 L503.3 116.2 L503.8 116.2 L504.3 116.2 L504.8 116.2 L505.3 116.2 L505.8 116.2 L506.3 116.2 L506.8 116.2 L507.3 116.2 L507.8 116.2 L508.3 116.2 L508.8 116.2 L509.3 116.2 L509.8 116.2 L510.3 116.2 L510.8 116.2 L511.3 116.2 L511.8 116.2 L512.3 116.2 L512.8 116.2 L513.3 116.2 L513.8 116.2 L514.3 116.2 L514.8 116.2 L515.3 116.2 L515.8 116.2 L515.8 116.7 Z" fill="#000"/>
<rect x="432.50" y="66.20" width="83.30" height="50.50" fill="none" stroke="#6a6a6a" stroke-width="1"/>
<path d="M431.1 120.1l2.4 -1.3M451.9 120.1l2.4 -1.3M472.8 120.1l2.4 -1.3M493.6 120.1l2.4 -1.3M514.4 120.1l2.4 -1.3" stroke="#777" stroke-width="1.0" fill="none"/>
<path d="M468.3 77.5H495.4M468.3 75.0v5M495.4 75.0v5M432.5 91.7H468.3M468.3 89.2v5" stroke="#6d6d6d" stroke-width="1.3" fill="none"/>
<text transform="translate(440.80 90.80) scale(1 1.0)" font-size="10.2" fill="#3434b4" stroke="#3434b4" stroke-width="0.22" text-anchor="start" font-family='"Liberation Serif", serif' font-weight="normal" >33.2</text>
<text transform="translate(489.60 90.80) scale(1 1.0)" font-size="10.2" fill="#a23ab4" stroke="#a23ab4" stroke-width="0.22" text-anchor="start" font-family='"Liberation Serif", serif' font-weight="normal" >66.8</text>
<text transform="translate(474.35 130.90) scale(1 1.0)" font-size="10.3" fill="#1e1e1e" stroke="#1e1e1e" stroke-width="0.22" text-anchor="middle" font-family='"Liberation Serif", serif' font-weight="normal" >Ly-5.1</text>
<text transform="translate(474.30 155.40) scale(1 1.0)" font-size="10.8" fill="#1e1e1e" stroke="#1e1e1e" stroke-width="0.22" text-anchor="middle" font-family='"Liberation Serif", serif' font-weight="normal" >FO B cells</text>
<path d="M432.5 213.8 L432.5 213.1 L433.0 213.1 L433.5 213.0 L434.0 213.0 L434.5 212.9 L435.0 212.8 L435.5 212.7 L436.0 212.6 L436.5 212.5 L437.0 212.4 L437.5 212.2 L438.0 212.0 L438.5 211.8 L439.0 211.6 L439.5 211.4 L440.0 211.1 L440.5 210.9 L441.0 210.6 L441.5 210.3 L442.0 209.9 L442.5 209.6 L443.0 209.2 L443.5 208.8 L444.0 208.4 L444.5 208.0 L445.0 207.6 L445.5 207.2 L446.0 206.8 L446.6 206.4 L447.1 206.0 L447.6 205.7 L448.1 205.4 L448.6 205.0 L449.1 204.8 L449.6 204.5 L450.1 204.3 L450.6 204.2 L451.1 204.1 L451.6 204.0 L452.1 204.0 L452.6 204.0 L453.1 204.1 L453.6 204.2 L454.1 204.4 L454.6 204.6 L455.1 204.8 L455.6 205.1 L456.1 205.4 L456.6 205.8 L457.1 206.1 L457.6 206.5 L458.1 206.9 L458.6 207.3 L459.1 207.7 L459.6 208.1 L460.1 208.5 L460.6 208.9 L461.1 209.2 L461.6 209.6 L462.1 209.9 L462.6 210.2 L463.1 210.5 L463.6 210.8 L464.1 211.0 L464.6 211.2 L465.1 211.4 L465.6 211.5 L466.1 211.6 L466.6 211.7 L467.1 211.7 L467.6 211.7 L468.1 211.6 L468.6 211.5 L469.1 211.3 L469.6 211.1 L470.1 210.8 L470.6 210.3 L471.1 209.8 L471.6 209.2 L472.1 208.4 L472.6 207.4 L473.1 206.2 L473.6 204.7 L474.1 202.9 L474.7 200.7 L475.2 198.0 L475.7 194.8 L476.2 190.8 L476.7 186.1 L477.2 180.3 L477.7 173.3 L478.2 170.5 L478.7 178.0 L479.2 184.2 L479.7 189.3 L480.2 193.5 L480.7 197.0 L481.2 199.9 L481.7 202.2 L482.2 204.2 L482.7 205.8 L483.2 207.1 L483.7 208.2 L484.2 209.1 L484.7 209.8 L485.2 210.4 L485.7 210.9 L486.2 211.3 L486.7 211.7 L487.2 212.0 L487.7 212.2 L488.2 212.4 L488.7 212.6 L489.2 212.7 L489.7 212.8 L490.2 212.9 L490.7 213.0 L491.2 213.0 L491.7 213.1 L492.2 213.1 L492.7 213.1 L493.2 213.2 L493.7 213.2 L494.2 213.2 L494.7 213.2 L495.2 213.2 L495.7 213.3 L496.2 213.3 L496.7 213.3 L497.2 213.3 L497.7 213.3 L498.2 213.3 L498.7 213.3 L499.2 213.3 L499.7 213.3 L500.2 213.3 L500.7 213.3 L501.2 213.3 L501.7 213.3 L502.3 213.3 L502.8 213.3 L503.3 213.3 L503.8 213.3 L504.3 213.3 L504.8 213.3 L505.3 213.3 L505.8 213.3 L506.3 213.3 L506.8 213.3 L507.3 213.3 L507.8 213.3 L508.3 213.3 L508.8 213.3 L509.3 213.3 L509.8 213.3 L510.3 213.3 L510.8 213.3 L511.3 213.3 L511.8 213.3 L512.3 213.3 L512.8 213.3 L513.3 213.3 L513.8 213.3 L514.3 213.3 L514.8 213.3 L515.3 213.3 L515.8 213.3 L515.8 213.8 Z" fill="#000"/>
<rect x="432.50" y="163.80" width="83.30" height="50.00" fill="none" stroke="#6a6a6a" stroke-width="1"/>
<path d="M431.1 217.2l2.4 -1.3M451.9 217.2l2.4 -1.3M472.8 217.2l2.4 -1.3M493.6 217.2l2.4 -1.3M514.4 217.2l2.4 -1.3" stroke="#777" stroke-width="1.0" fill="none"/>
<path d="M466.5 177.0H494.0M466.5 174.5v5M494.0 174.5v5M432.5 190.8H466.5M466.5 188.3v5" stroke="#6d6d6d" stroke-width="1.3" fill="none"/>
<text transform="translate(440.80 187.90) scale(1 1.0)" font-size="10.2" fill="#3434b4" stroke="#3434b4" stroke-width="0.22" text-anchor="start" font-family='"Liberation Serif", serif' font-weight="normal" >40.3</text>
<text transform="translate(489.60 193.00) scale(1 1.0)" font-size="10.2" fill="#a23ab4" stroke="#a23ab4" stroke-width="0.22" text-anchor="start" font-family='"Liberation Serif", serif' font-weight="normal" >59.7</text>
<text transform="translate(474.35 228.80) scale(1 1.0)" font-size="10.3" fill="#1e1e1e" stroke="#1e1e1e" stroke-width="0.22" text-anchor="middle" font-family='"Liberation Serif", serif' font-weight="normal" >Ly-5.1</text>
<text transform="translate(474.20 253.10) scale(1 1.0)" font-size="10.8" fill="#1e1e1e" stroke="#1e1e1e" stroke-width="0.22" text-anchor="middle" font-family='"Liberation Serif", serif' font-weight="normal" >transitional B cells</text>
<path d="M432.5 311.0 L432.5 308.2 L433.0 307.5 L433.5 307.7 L434.0 306.9 L434.5 306.6 L435.0 306.2 L435.5 305.8 L436.0 306.0 L436.5 305.8 L437.0 305.8 L437.5 305.3 L438.0 304.0 L438.5 302.6 L439.0 303.8 L439.5 304.1 L440.0 305.7 L440.5 304.3 L441.0 301.6 L441.5 299.5 L442.0 298.1 L442.5 299.7 L443.0 298.7 L443.5 301.1 L444.0 301.2 L444.5 301.3 L445.0 298.3 L445.5 297.4 L446.0 299.9 L446.6 301.9 L447.1 302.8 L447.6 301.8 L448.1 299.0 L448.6 299.0 L449.1 295.9 L449.6 295.6 L450.1 296.3 L450.6 299.0 L451.1 301.0 L451.6 301.4 L452.1 301.5 L452.6 299.9 L453.1 300.0 L453.6 299.8 L454.1 303.4 L454.6 302.1 L455.1 301.7 L455.6 302.0 L456.1 304.3 L456.6 307.0 L457.1 306.4 L457.6 306.7 L458.1 307.0 L458.6 307.3 L459.1 305.8 L459.6 305.3 L460.1 305.6 L460.6 306.0 L461.1 306.4 L461.6 305.7 L462.1 306.2 L462.6 304.2 L463.1 301.9 L463.6 300.8 L464.1 299.2 L464.6 299.0 L465.1 296.5 L465.6 296.4 L466.1 291.5 L466.6 282.0 L467.1 280.9 L467.6 281.8 L468.1 281.0 L468.6 279.0 L469.1 280.0 L469.6 290.1 L470.1 289.5 L470.6 289.9 L471.1 286.2 L471.6 284.5 L472.1 291.1 L472.6 294.5 L473.1 295.1 L473.6 293.1 L474.1 293.4 L474.7 296.6 L475.2 294.5 L475.7 293.7 L476.2 295.5 L476.7 296.1 L477.2 297.1 L477.7 293.9 L478.2 297.3 L478.7 296.4 L479.2 297.1 L479.7 298.2 L480.2 297.6 L480.7 299.7 L481.2 296.8 L481.7 301.1 L482.2 299.3 L482.7 300.7 L483.2 300.5 L483.7 302.1 L484.2 304.6 L484.7 304.8 L485.2 306.0 L485.7 306.5 L486.2 306.4 L486.7 306.7 L487.2 306.6 L487.7 306.9 L488.2 307.1 L488.7 306.9 L489.2 307.9 L489.7 307.5 L490.2 308.1 L490.7 308.4 L491.2 308.5 L491.7 308.8 L492.2 308.4 L492.7 308.7 L493.2 308.7 L493.7 309.4 L494.2 309.9 L494.7 310.1 L495.2 310.1 L495.7 310.0 L496.2 310.1 L496.7 310.2 L497.2 310.3 L497.7 310.3 L498.2 310.4 L498.7 310.4 L499.2 310.4 L499.7 310.5 L500.2 310.5 L500.7 310.5 L501.2 310.5 L501.7 310.5 L502.3 310.5 L502.8 310.5 L503.3 310.5 L503.8 310.5 L504.3 310.5 L504.8 310.5 L505.3 310.5 L505.8 310.5 L506.3 310.5 L506.8 310.5 L507.3 310.5 L507.8 310.5 L508.3 310.5 L508.8 310.5 L509.3 310.5 L509.8 310.5 L510.3 310.5 L510.8 310.5 L511.3 310.5 L511.8 310.5 L512.3 310.5 L512.8 310.5 L513.3 310.5 L513.8 310.5 L514.3 310.5 L514.8 310.5 L515.3 310.5 L515.8 310.5 L515.8 311.0 Z" fill="#000"/>
<rect x="432.50" y="261.50" width="83.30" height="49.50" fill="none" stroke="#6a6a6a" stroke-width="1"/>
<path d="M431.1 314.4l2.4 -1.3M451.9 314.4l2.4 -1.3M472.8 314.4l2.4 -1.3M493.6 314.4l2.4 -1.3M514.4 314.4l2.4 -1.3" stroke="#777" stroke-width="1.0" fill="none"/>
<path d="M459.4 275.0H494.6M459.4 272.5v5M494.6 272.5v5M432.5 288.0H459.4M459.4 285.5v5" stroke="#6d6d6d" stroke-width="1.3" fill="none"/>
<text transform="translate(440.80 285.30) scale(1 1.0)" font-size="10.2" fill="#3434b4" stroke="#3434b4" stroke-width="0.22" text-anchor="start" font-family='"Liberation Serif", serif' font-weight="normal" >36.6</text>
<text transform="translate(489.60 290.40) scale(1 1.0)" font-size="10.2" fill="#a23ab4" stroke="#a23ab4" stroke-width="0.22" text-anchor="start" font-family='"Liberation Serif", serif' font-weight="normal" >63.4</text>
<text transform="translate(474.35 326.50) scale(1 1.0)" font-size="10.3" fill="#1e1e1e" stroke="#1e1e1e" stroke-width="0.22" text-anchor="middle" font-family='"Liberation Serif", serif' font-weight="normal" >Ly-5.1</text>
<path d="M136.3 354.5V470H245V354.5H136.3" stroke="#666" stroke-width="0.9" fill="none"/>
<path d="M133.8 470.0h2.5" stroke="#666" stroke-width="0.7"/>
<path d="M135.1 452.6h1.2" stroke="#666" stroke-width="0.7"/>
<path d="M135.1 442.4h1.2" stroke="#666" stroke-width="0.7"/>
<path d="M135.1 435.2h1.2" stroke="#666" stroke-width="0.7"/>
<path d="M135.1 429.6h1.2" stroke="#666" stroke-width="0.7"/>
<path d="M135.1 425.1h1.2" stroke="#666" stroke-width="0.7"/>
<path d="M135.1 421.2h1.2" stroke="#666" stroke-width="0.7"/>
<path d="M135.1 417.8h1.2" stroke="#666" stroke-width="0.7"/>
<path d="M135.1 414.9h1.2" stroke="#666" stroke-width="0.7"/>
<path d="M133.8 412.2h2.5" stroke="#666" stroke-width="0.7"/>
<path d="M135.1 394.9h1.2" stroke="#666" stroke-width="0.7"/>
<path d="M135.1 384.7h1.2" stroke="#666" stroke-width="0.7"/>
<path d="M135.1 377.5h1.2" stroke="#666" stroke-width="0.7"/>
<path d="M135.1 371.9h1.2" stroke="#666" stroke-width="0.7"/>
<path d="M135.1 367.3h1.2" stroke="#666" stroke-width="0.7"/>
<path d="M135.1 363.4h1.2" stroke="#666" stroke-width="0.7"/>
<path d="M135.1 360.1h1.2" stroke="#666" stroke-width="0.7"/>
<path d="M135.1 357.1h1.2" stroke="#666" stroke-width="0.7"/>
<path d="M133.8 354.5h2.5" stroke="#666" stroke-width="0.7"/>
<text transform="translate(131.50 356.30) scale(1 1.0)" font-size="5.6" fill="#333" text-anchor="end" font-family='"Liberation Serif", serif' font-weight="normal" >100</text>
<text transform="translate(131.50 414.30) scale(1 1.0)" font-size="5.6" fill="#333" text-anchor="end" font-family='"Liberation Serif", serif' font-weight="normal" >10</text>
<text transform="translate(131.50 472.30) scale(1 1.0)" font-size="5.6" fill="#333" text-anchor="end" font-family='"Liberation Serif", serif' font-weight="normal" >1</text>
<path d="M152.2 455.5V447.5M150.7 447.5h3" stroke="#888" stroke-width="0.8"/>
<rect x="148.8" y="455.5" width="6.7" height="14.5" fill="#ee1c3e"/>
<path d="M161.5 453.2V446.2M160.0 446.2h3" stroke="#888" stroke-width="0.8"/>
<rect x="158" y="453.2" width="7.0" height="16.8" fill="#8e1a88"/>
<path d="M187.3 456.2V446.2M185.8 446.2h3" stroke="#888" stroke-width="0.8"/>
<rect x="183.8" y="456.2" width="7.0" height="13.8" fill="#ee1c3e"/>
<path d="M196.5 457.0V452.5M195.0 452.5h3" stroke="#888" stroke-width="0.8"/>
<rect x="193" y="457" width="7.0" height="13.0" fill="#8e1a88"/>
<path d="M222.5 373.0V364.5M221.0 364.5h3" stroke="#888" stroke-width="0.8"/>
<rect x="218.8" y="373" width="7.4" height="97.0" fill="#ee1c3e"/>
<path d="M231.5 448.8V444.5M230.0 444.5h3" stroke="#888" stroke-width="0.8"/>
<rect x="228" y="448.8" width="7.0" height="21.2" fill="#8e1a88"/>
<text transform="translate(157.20 484.50) scale(1 1.0)" font-size="7.3" fill="#1e1e1e" text-anchor="middle" font-family='"Liberation Serif", serif' font-weight="normal" >T cells</text>
<text transform="translate(190.90 480.60) scale(1 1.0)" font-size="7.3" fill="#1e1e1e" text-anchor="middle" font-family='"Liberation Serif", serif' font-weight="normal" >FO</text>
<text transform="translate(192.00 490.60) scale(1 1.0)" font-size="7.3" fill="#1e1e1e" text-anchor="middle" font-family='"Liberation Serif", serif' font-weight="normal" >B cells</text>
<text transform="translate(225.00 480.60) scale(1 1.0)" font-size="7.3" fill="#1e1e1e" text-anchor="middle" font-family='"Liberation Serif", serif' font-weight="normal" >MZ</text>
<text transform="translate(227.00 490.60) scale(1 1.0)" font-size="7.3" fill="#1e1e1e" text-anchor="middle" font-family='"Liberation Serif", serif' font-weight="normal" >B cells</text>
<text transform="translate(143.60 367.60) scale(1 1.0)" font-size="7.3" fill="#e0203c" text-anchor="start" font-family='"Liberation Serif", serif'>CD19:KLF3 Ly-5.1<tspan dx="0.3" dy="-3.00" font-size="5.60">+</tspan></text>
<text transform="translate(175.70 377.60) scale(1 1.0)" font-size="7.3" fill="#1e1e1e" text-anchor="middle" font-family='"Liberation Serif", serif' font-weight="normal" >or</text>
<text transform="translate(158.60 386.40) scale(1 1.0)" font-size="7.3" fill="#9a2a9a" text-anchor="start" font-family='"Liberation Serif", serif'>B6 Ly-5.1<tspan dx="0.3" dy="-3.00" font-size="5.60">+</tspan></text>
<path d="M142 388.8H209.5" stroke="#888" stroke-width="0.8"/>
<text transform="translate(162.30 396.40) scale(1 1.0)" font-size="7.3" fill="#3a3a8a" text-anchor="start" font-family='"Liberation Serif", serif'>B6.IgH<tspan dx="0.3" dy="-3.00" font-size="5.60">a</tspan></text>
<text transform="translate(71.20 374.00) scale(1 1.0)" font-size="7.8" fill="#1e1e1e" text-anchor="start" font-family='"Liberation Serif", serif' font-weight="normal" >Ratio</text>
<text transform="translate(91.20 370.80) scale(1 1.0)" font-size="7.6" fill="#1e1e1e" text-anchor="start" font-family='"Liberation Serif", serif'>%Ly-5.1<tspan dx="0.3" dy="-3.00" font-size="5.60">+</tspan></text>
<path d="M90.5 373.0H122.5" stroke="#555" stroke-width="0.7"/>
<text transform="translate(91.20 381.00) scale(1 1.0)" font-size="7.6" fill="#1e1e1e" text-anchor="start" font-family='"Liberation Serif", serif'>%Ly-5.1<tspan dx="0.3" dy="-3.00" font-size="5.60">-</tspan></text>
<rect x="91.20" y="510.50" width="176.30" height="35.80" fill="none" stroke="#5a5a5a" stroke-width="1"/>
<text transform="translate(96.20 528.80) scale(1 1.0)" font-size="10.3" fill="#1e1e1e" stroke="#1e1e1e" stroke-width="0.22" text-anchor="start" font-family='"Liberation Serif", serif'>B6.Rag-2<tspan dx="0.2" dy="-4.40" font-size="8.20">-/-</tspan></text>
<text transform="translate(110.00 538.80) scale(1 1.0)" font-size="7.7" fill="#1e1e1e" text-anchor="start" font-family='"Liberation Serif", serif' font-weight="normal" >950 R</text>
<path d="M145.0 528.8 L153.6 525.9 L152.4 528.8 L153.6 531.7 Z" fill="#1e1e1e"/>
<rect x="151.0" y="527.8" width="11.5" height="2.0" fill="#1e1e1e"/>
<text transform="translate(163.70 532.00) scale(1 1.0)" font-size="10.3" fill="#1e1e1e" stroke="#1e1e1e" stroke-width="0.22" text-anchor="start" font-family='"Liberation Serif", serif' font-weight="normal" >FL</text>
<text transform="translate(197.50 527.00) scale(1 1.0)" font-size="10.3" fill="#3434b4" stroke="#3434b4" stroke-width="0.22" text-anchor="start" font-family='"Liberation Serif", serif'>B6.IgH<tspan dx="0.2" dy="-4.40" font-size="8.80">a</tspan></text>
<text transform="translate(238.80 527.00) scale(1 1.0)" font-size="9.5" fill="#1e1e1e" stroke="#1e1e1e" stroke-width="0.22" text-anchor="start" font-family='"Liberation Serif", serif' font-weight="normal" >+</text>
<text transform="translate(178.80 541.30) scale(1 1.0)" font-size="10.0" fill="#d22a48" stroke="#d22a48" stroke-width="0.22" text-anchor="start" font-family='"Liberation Serif", serif'>CD19:KLF3 Ly-5.1<tspan dx="0.2" dy="-4.20" font-size="9.00">+</tspan></text>
<rect x="316.80" y="510.50" width="142.70" height="35.80" fill="none" stroke="#5a5a5a" stroke-width="1"/>
<text transform="translate(324.30 528.80) scale(1 1.0)" font-size="10.3" fill="#1e1e1e" stroke="#1e1e1e" stroke-width="0.22" text-anchor="start" font-family='"Liberation Serif", serif'>B6.Rag-2<tspan dx="0.2" dy="-4.40" font-size="8.20">-/-</tspan></text>
<text transform="translate(338.10 538.80) scale(1 1.0)" font-size="7.7" fill="#1e1e1e" text-anchor="start" font-family='"Liberation Serif", serif' font-weight="normal" >950 R</text>
<path d="M373.1 528.8 L381.7 525.9 L380.5 528.8 L381.7 531.7 Z" fill="#1e1e1e"/>
<rect x="379.1" y="527.8" width="11.5" height="2.0" fill="#1e1e1e"/>
<text transform="translate(391.80 532.00) scale(1 1.0)" font-size="10.3" fill="#1e1e1e" stroke="#1e1e1e" stroke-width="0.22" text-anchor="start" font-family='"Liberation Serif", serif' font-weight="normal" >FL</text>
<text transform="translate(407.00 527.00) scale(1 1.0)" font-size="10.3" fill="#3434b4" stroke="#3434b4" stroke-width="0.22" text-anchor="start" font-family='"Liberation Serif", serif'>B6.IgH<tspan dx="0.2" dy="-4.40" font-size="8.80">a</tspan></text>
<text transform="translate(448.00 527.00) scale(1 1.0)" font-size="9.5" fill="#1e1e1e" stroke="#1e1e1e" stroke-width="0.22" text-anchor="start" font-family='"Liberation Serif", serif' font-weight="normal" >+</text>
<text transform="translate(407.00 541.30) scale(1 1.0)" font-size="10.0" fill="#a23ab4" stroke="#a23ab4" stroke-width="0.22" text-anchor="start" font-family='"Liberation Serif", serif'>B6 Ly-5.1<tspan dx="0.2" dy="-4.20" font-size="9.00">+</tspan></text>
<text transform="translate(120.50 566.20) scale(1 1.0)" font-size="10.3" fill="#3434b4" stroke="#3434b4" stroke-width="0.22" text-anchor="start" font-family='"Liberation Serif", serif'>Ly-5.1<tspan dx="0.3" dy="-4.40" font-size="7.60">-</tspan></text>
<clipPath id="c92575"><rect x="92.5" y="575.4" width="76.30000000000001" height="75.80000000000007"/></clipPath>
<g clip-path="url(#c92575)">
<ellipse cx="142" cy="632" rx="9" ry="16" fill="#1515ee" fill-opacity="0.08" transform="rotate(0 142 632)" filter="url(#b30)"/>
<path transform="translate(0 0.5)" d="M131 624h1M111 613h1M130 586h1M145 589h1M141 643h1M136 641h1M136 606h1M128 636h1M152 615h1M136 598h1M106 615h1M103 598h1M99 620h1M107 586h1M95 602h1M161 609h1M130 609h1M108 639h1M146 605h1M135 638h1M140 586h1M94 579h1M114 645h1M135 589h1M135 621h1M150 631h1M143 596h1M110 586h1M113 600h1M124 589h1M142 635h1M133 608h1M108 634h1M105 591h1M117 635h1" stroke="#1515ee" stroke-width="1" stroke-opacity="0.25" fill="none"/>
<path transform="translate(0 0.5)" d="M102 626h1M132 639h1M135 619h1M114 611h1M114 619h1M125 634h1M100 628h1M121 611h1M107 636h1M99 622h1M101 641h1M118 612h1M122 649h1M105 632h1M116 637h1M135 629h1M106 630h1M108 603h1M119 631h1M100 616h1M113 629h1M121 624h1M96 628h1M128 645h1M98 620h1M110 615h1M114 601h1M112 614h1M101 631h1M108 620h1M110 618h1M124 632h1M113 646h1M131 607h1M111 611h1M117 620h1M101 624h1M123 615h1M114 624h1M106 629h1M130 622h1M112 632h1M116 632h1M111 614h1M105 635h1M101 640h1M114 649h1M132 637h1M114 613h1M110 634h1M125 601h1M108 612h1M135 648h1M110 623h1M126 649h1M105 640h1M113 630h1M108 613h1M94 647h1M113 640h1M111 609h1M107 617h1M97 629h1M101 632h1M111 621h1M99 624h1M122 642h1M123 616h1M99 630h1M109 636h1M114 608h1M112 647h1M108 627h1M110 606h1M118 633h1M119 620h1M101 613h1M108 627h1M116 615h1M101 612h1M104 639h1M120 628h1M122 633h1M104 636h1M95 618h1M112 628h1M102 623h1M97 617h1M141 635h1M121 643h1M101 608h1M103 629h1M122 642h1M111 644h1M107 624h1M115 624h1M98 621h1" stroke="#1515ee" stroke-width="1" stroke-opacity="0.25" fill="none"/>
<path transform="translate(0 0.5)" d="M128 619h1M140 626h1M134 626h1M139 633h1M144 627h1M144 623h1M139 635h1M139 639h1M145 625h1M152 638h1M138 619h1M141 632h1M145 635h1M145 616h1M139 630h1M145 630h1M143 621h1M147 632h1M135 628h1M140 633h1M151 619h1M148 618h1M141 619h1M141 643h1M150 641h1M141 640h1M134 630h1M138 609h1M140 618h1M147 622h1M147 629h1M147 638h1M148 622h1M135 633h1M153 644h1M142 643h1M141 633h1M147 635h1M141 632h1M147 645h1M149 636h1M137 640h1M140 623h1M141 624h1M135 632h1M137 641h1M143 618h1M144 635h1M136 640h1M140 628h1M145 609h1M139 639h1M143 646h1M144 632h1M147 630h1M145 604h1M134 643h1M147 637h1M147 613h1M144 617h1M139 623h1M147 623h1M146 639h1M143 636h1M147 634h1M145 637h1M144 630h1M145 621h1M141 619h1M141 643h1M135 621h1M144 624h1M154 622h1M147 632h1M144 642h1M151 646h1M145 630h1M145 640h1M141 622h1M137 616h1M143 643h1M144 629h1M136 636h1M155 648h1M141 646h1M142 631h1M142 617h1M149 627h1M142 634h1M144 623h1M138 628h1M137 622h1M145 628h1M145 628h1M143 624h1M149 625h1M149 624h1M138 634h1M143 645h1M139 638h1M141 625h1M149 647h1M145 635h1M137 644h1M139 638h1M142 628h1M141 634h1M140 624h1M148 623h1M142 619h1M136 626h1M152 633h1M145 640h1M137 622h1M141 642h1M142 619h1M141 614h1M143 617h1M137 612h1M138 625h1M146 627h1M140 626h1M142 627h1M136 629h1M144 614h1M132 640h1M141 622h1M134 628h1M147 625h1M145 630h1M136 644h1M146 628h1M145 637h1M150 641h1M142 640h1M141 620h1M140 627h1M147 632h1M144 623h1M145 625h1M134 638h1M143 646h1M150 631h1M135 608h1M142 617h1M148 637h1M136 611h1M149 643h1M147 648h1M144 624h1M143 632h1M139 630h1M128 619h1M140 607h1M143 624h1M154 647h1M146 629h1M132 619h1M140 642h1M131 629h1M148 637h1M137 630h1M143 643h1M139 629h1M141 619h1M139 639h1M139 626h1M138 622h1M145 634h1M144 633h1M142 638h1M138 628h1M136 645h1M145 632h1M144 639h1M145 638h1M142 630h1M146 639h1M143 643h1M138 632h1M136 643h1M145 632h1M139 630h1M129 640h1M145 637h1M138 627h1M139 630h1M138 622h1M151 624h1M143 636h1M148 645h1M140 638h1M146 635h1M132 612h1M146 630h1M142 634h1M142 639h1M138 626h1M140 617h1M135 622h1M135 640h1M147 636h1M136 635h1M142 616h1M147 636h1M145 608h1M137 649h1M144 625h1M138 622h1M139 606h1M142 632h1M138 630h1M139 643h1M138 630h1M149 647h1M138 612h1M151 622h1M140 632h1M145 626h1M140 627h1M136 642h1M139 633h1M138 640h1M151 624h1M142 631h1M149 625h1M147 634h1M146 626h1M138 628h1M146 630h1M145 648h1M134 620h1M138 624h1M144 619h1M137 630h1M141 632h1M141 614h1M139 636h1M143 636h1M136 624h1M133 628h1M137 638h1M140 644h1M152 634h1M143 618h1M139 605h1M145 645h1M140 628h1M142 626h1M144 638h1M135 609h1M140 629h1M134 639h1M148 637h1M134 633h1M137 642h1M143 635h1M146 638h1M154 616h1M142 640h1M145 602h1M147 626h1M141 639h1M144 638h1M147 635h1M148 631h1M137 647h1M142 639h1M134 604h1M142 634h1M149 618h1M137 634h1M147 634h1M144 640h1M152 647h1M140 614h1M133 628h1M137 632h1M141 606h1M146 638h1M137 617h1M149 634h1M140 621h1M138 648h1M138 631h1M139 629h1M135 645h1M142 640h1M136 629h1M151 631h1M139 616h1M138 637h1M139 624h1M147 649h1M139 627h1M133 620h1M136 630h1M142 636h1M130 629h1M135 630h1M132 626h1M140 618h1M142 635h1M145 618h1M135 631h1M142 625h1M133 631h1M147 621h1M144 617h1M145 616h1M146 630h1M147 627h1M134 620h1M136 634h1M138 637h1M141 626h1M139 628h1M144 645h1M139 632h1M146 646h1M137 618h1M138 645h1M139 641h1M140 638h1M143 630h1M138 632h1M153 620h1M145 629h1M135 630h1M146 618h1M136 639h1M134 644h1M147 624h1M142 644h1M146 609h1M134 632h1M147 648h1M143 630h1M137 639h1M151 640h1M137 630h1M147 634h1M144 625h1M130 639h1M151 627h1M142 611h1M148 620h1M142 633h1M143 625h1M144 633h1M136 621h1M150 634h1M138 645h1M147 624h1M141 635h1M134 613h1M138 646h1M140 649h1M133 628h1M143 644h1M145 643h1M145 633h1M149 640h1M138 641h1M145 634h1M144 629h1M140 614h1M139 647h1M129 627h1M145 639h1M134 631h1M143 643h1M142 624h1M144 633h1M136 632h1M143 631h1M139 631h1M142 639h1M136 626h1M145 627h1M137 618h1M134 621h1M141 638h1M142 633h1M144 631h1M135 633h1M141 617h1M140 629h1M141 628h1M153 635h1M141 631h1M141 643h1M141 642h1M137 634h1M141 634h1M135 625h1M134 636h1M148 631h1M134 628h1M147 614h1M140 633h1M139 634h1M144 636h1M146 643h1M134 620h1M140 633h1M142 619h1M142 635h1M150 611h1M143 629h1M141 647h1M141 616h1M136 617h1M147 625h1M136 629h1M135 636h1M142 634h1M147 627h1M146 614h1M137 640h1M136 633h1M144 626h1M136 630h1M141 636h1M142 613h1M147 637h1M134 630h1M141 626h1M148 631h1M141 615h1M136 636h1M151 636h1M141 628h1M136 619h1M140 622h1M134 627h1M147 614h1M140 645h1M149 624h1M143 637h1M142 631h1M142 634h1M141 630h1M141 643h1M137 647h1M147 633h1M154 640h1M151 622h1M130 640h1M142 625h1M136 638h1M146 644h1M141 627h1M135 621h1M148 617h1M141 626h1M138 618h1M139 637h1M140 635h1M138 621h1M145 630h1M140 637h1M146 626h1M142 629h1M148 617h1M138 631h1M129 615h1M144 644h1M150 628h1M144 632h1M138 634h1M141 645h1M140 616h1M143 625h1M142 636h1M133 613h1M143 640h1M138 631h1M144 625h1M141 626h1M146 631h1M137 634h1M138 628h1M135 629h1M145 639h1M144 622h1M141 631h1M140 628h1M138 633h1M142 620h1M138 635h1M141 637h1M136 631h1M137 632h1M138 626h1M144 643h1M141 634h1" stroke="#1515ee" stroke-width="1" stroke-opacity="0.4" fill="none"/>
<path transform="translate(0 0.5)" d="M96 593h1M101 597h1M125 586h1M119 602h1M113 594h1M114 588h1M100 599h1M96 587h1M104 598h1M107 598h1M115 597h1M99 589h1M113 594h1M116 601h1M99 593h1M120 597h1M94 595h1M102 602h1M115 600h1M109 593h1M96 583h1M114 597h1M107 589h1M101 601h1M132 589h1M98 600h1M117 599h1M105 593h1M101 589h1M99 592h1M119 602h1M109 588h1M104 593h1M120 591h1M111 595h1M116 593h1M124 597h1M104 594h1M101 601h1M115 594h1M137 598h1M117 603h1M119 598h1M96 591h1M115 595h1M103 602h1M114 603h1M103 591h1M105 600h1M95 595h1M113 597h1M111 583h1M112 600h1M96 597h1M106 595h1M143 594h1M93 592h1M99 596h1M111 593h1M133 598h1M107 594h1M109 591h1M104 593h1M115 592h1M94 593h1M118 597h1M102 595h1M98 592h1M110 592h1M97 594h1M107 598h1M101 597h1M111 604h1M108 585h1M110 590h1M110 596h1M95 584h1M112 592h1M118 589h1M109 603h1M108 590h1M113 588h1M107 603h1M105 588h1M106 597h1M107 584h1M112 590h1M101 601h1M113 593h1M114 605h1M123 593h1M126 594h1M94 591h1M105 604h1M103 591h1M111 596h1M119 590h1M114 590h1M101 600h1M100 598h1M101 600h1M110 598h1M125 590h1M115 596h1M95 595h1M110 590h1M101 602h1M103 589h1M133 604h1M101 598h1M103 597h1M114 606h1M117 605h1M109 592h1M110 594h1M99 605h1M125 592h1M107 603h1M95 600h1M109 592h1M107 598h1M127 607h1M110 593h1M110 597h1M95 589h1M98 595h1M106 599h1M103 595h1M120 589h1M117 591h1M120 597h1M99 604h1M108 599h1M108 600h1M95 594h1M122 594h1M100 593h1M106 594h1M123 602h1M105 600h1M98 599h1M117 593h1M104 597h1M119 593h1M114 595h1M100 601h1M123 589h1M109 594h1M93 596h1M106 592h1M119 596h1M125 595h1M105 593h1M103 595h1M114 603h1M111 594h1M101 588h1M122 594h1M105 589h1M111 595h1M98 598h1M132 594h1M104 598h1M99 594h1M123 594h1M108 591h1M105 590h1M101 597h1M109 604h1M98 590h1M111 594h1M113 592h1M101 599h1M124 593h1M114 598h1M131 589h1M121 588h1M99 589h1M119 600h1M112 591h1M112 598h1M124 589h1M105 599h1M105 590h1M102 606h1M116 601h1M111 595h1M103 594h1M103 594h1M93 593h1M108 591h1M122 603h1M96 590h1M99 595h1M95 596h1M103 599h1M100 599h1M101 589h1M117 596h1M124 596h1M105 605h1M97 589h1M110 589h1M105 587h1M122 599h1M111 592h1M114 594h1M94 596h1M100 594h1M108 605h1M111 595h1M114 593h1M115 599h1M121 595h1M104 602h1M105 593h1M118 593h1M116 601h1M97 595h1M108 595h1M103 602h1M108 596h1M107 593h1M110 600h1M95 598h1M123 600h1M122 596h1M101 593h1M105 607h1M105 592h1M121 601h1M111 598h1M102 589h1M105 593h1M103 591h1M104 598h1M107 602h1M105 603h1M106 596h1M109 596h1M97 587h1M100 595h1M108 600h1M112 591h1M111 592h1M101 588h1M104 592h1M118 589h1M111 592h1M99 598h1M114 590h1M97 600h1M97 596h1M119 599h1M102 598h1M96 587h1M98 587h1M112 600h1M107 597h1M103 593h1M113 590h1M97 605h1M103 588h1M112 590h1M95 601h1M115 603h1M126 603h1M115 594h1M98 602h1M119 594h1M94 597h1M123 602h1M96 589h1M109 593h1M102 603h1M113 601h1M97 595h1M119 599h1M121 601h1M110 593h1M98 590h1M99 593h1M107 607h1M107 593h1M109 600h1M101 597h1M120 591h1M102 600h1M110 599h1M107 606h1M102 595h1M114 593h1M124 597h1M106 587h1M124 603h1M114 602h1M124 595h1M94 600h1M107 591h1M107 588h1M106 603h1M100 594h1M94 593h1M99 585h1M117 604h1M107 595h1M102 607h1M125 599h1M122 595h1M93 595h1M99 598h1M105 590h1M104 595h1M136 595h1M104 604h1M113 604h1M105 594h1M113 600h1M99 595h1M108 592h1M93 597h1M117 603h1M113 596h1M109 588h1M101 585h1M100 587h1M114 607h1M104 591h1M109 592h1M113 588h1M121 603h1M105 590h1M110 590h1M109 595h1M121 599h1M93 596h1M100 602h1M119 595h1M108 590h1M94 597h1M112 592h1M125 598h1M125 587h1M102 598h1M114 597h1M97 594h1M96 596h1M117 604h1M120 596h1M95 601h1M101 595h1M111 595h1M117 597h1M98 590h1M120 599h1M101 588h1M98 593h1M111 597h1M115 600h1" stroke="#1515ee" stroke-width="1" stroke-opacity="0.3" fill="none"/>
<path transform="translate(0 0.5)" d="M99 594h1M102 594h1M110 600h1M110 594h1M117 602h1M116 599h1M98 598h1M110 595h1M113 591h1M119 589h1M106 595h1M104 598h1M103 600h1M119 595h1M108 597h1M114 594h1M114 593h1M97 596h1M105 590h1M99 596h1M99 598h1M110 594h1M97 596h1M123 599h1M98 593h1M96 603h1M97 597h1M119 598h1M98 593h1M112 599h1M103 597h1M116 597h1M116 599h1M108 601h1M102 599h1M97 600h1M98 602h1M109 602h1M112 593h1M106 598h1M101 599h1M112 596h1M101 594h1M128 601h1M106 598h1M107 597h1M104 596h1M105 595h1M100 602h1M115 600h1M122 596h1M104 598h1M107 596h1M97 599h1M111 593h1M98 597h1M101 592h1M109 594h1M106 594h1M112 600h1M110 597h1M114 596h1M127 594h1M96 602h1M120 594h1M103 599h1M99 593h1M114 595h1M105 596h1M110 595h1M105 596h1M97 598h1M95 597h1M123 596h1M103 597h1M110 601h1M103 593h1M105 595h1M96 597h1M100 599h1M114 599h1M99 594h1M109 591h1M99 594h1M100 598h1M108 596h1M111 599h1M111 600h1M119 596h1M95 596h1M98 599h1M104 594h1M107 598h1M117 597h1M103 595h1M96 595h1M109 598h1M108 590h1M102 600h1M95 598h1M101 600h1M109 598h1M111 599h1M97 594h1M101 600h1M103 598h1M98 597h1M112 592h1M115 596h1M107 592h1M109 597h1M123 592h1M103 597h1M110 602h1M96 600h1M103 594h1M110 597h1M105 599h1M98 596h1M107 596h1M109 594h1M106 596h1M127 598h1M95 597h1M123 598h1M93 602h1M112 598h1M118 592h1M108 596h1M108 591h1M116 593h1M110 599h1M107 597h1M94 595h1M108 596h1M111 594h1M105 594h1M104 597h1M101 601h1M131 600h1M94 596h1M118 599h1M97 595h1M106 595h1M107 602h1M115 603h1M117 589h1M110 593h1M110 601h1M110 590h1M105 596h1M114 593h1M103 596h1M106 598h1M115 597h1M119 597h1M126 599h1M107 594h1M102 595h1M117 596h1M105 598h1M105 599h1M100 594h1M103 599h1M96 591h1M106 595h1M109 596h1M119 597h1M101 596h1M120 595h1M108 601h1M112 599h1M96 597h1M118 599h1M113 597h1M112 594h1M119 600h1M113 599h1M95 596h1M105 599h1M94 597h1M116 594h1M120 598h1M101 594h1M120 595h1M99 596h1M115 600h1M102 591h1M119 597h1M103 597h1M110 602h1M93 594h1M100 597h1M98 593h1M99 597h1M101 595h1M106 595h1M105 593h1M96 599h1M128 595h1M115 594h1M102 596h1M101 598h1M106 600h1M103 597h1M98 600h1M94 593h1M99 595h1M96 597h1M120 594h1M97 597h1M113 600h1M112 595h1M113 590h1M108 601h1M113 603h1M101 597h1M104 599h1M116 596h1M111 598h1M107 593h1M107 599h1M100 592h1M114 601h1M103 599h1M93 600h1M103 600h1M95 597h1M99 591h1M100 599h1M109 599h1M102 595h1M103 598h1M98 598h1M105 597h1M118 599h1M125 601h1M107 594h1M98 597h1M117 595h1M111 598h1M99 599h1M101 601h1M101 593h1M99 591h1M109 593h1M109 597h1M108 597h1M109 599h1M95 598h1M95 600h1M109 595h1M103 594h1M111 594h1M111 600h1M113 600h1M97 592h1M102 596h1M106 593h1M127 598h1M109 597h1M100 592h1M96 596h1M118 601h1M97 599h1M106 599h1M105 595h1M93 598h1M98 594h1M112 603h1M120 595h1M122 592h1M112 597h1M103 597h1M95 594h1M94 595h1M106 592h1M108 596h1M100 595h1M112 592h1M106 596h1M109 598h1M123 596h1M113 593h1M93 594h1M102 594h1M106 600h1M98 597h1M118 601h1M113 596h1M109 597h1M98 593h1M107 592h1M96 594h1M113 594h1M101 594h1M106 599h1M126 600h1M107 593h1M116 590h1M120 597h1M97 598h1M110 598h1M102 592h1M115 598h1M99 597h1M119 597h1M115 599h1M100 597h1M100 598h1M107 599h1M106 596h1M106 598h1M113 591h1M102 599h1M98 598h1M109 598h1M110 595h1M117 593h1M115 594h1M103 599h1M102 597h1M107 594h1M106 590h1M99 596h1M111 596h1M93 596h1M120 597h1M109 596h1M104 594h1M105 597h1M97 599h1M107 601h1M106 599h1M94 598h1M104 596h1M95 599h1M107 599h1M115 594h1M103 593h1M103 595h1M98 596h1M100 596h1M116 599h1M109 600h1M106 597h1M106 592h1M106 593h1M119 597h1M98 599h1M106 594h1M115 598h1M111 600h1M93 594h1M103 597h1M97 595h1M110 603h1M111 593h1M115 598h1M108 595h1M96 594h1M122 599h1M96 596h1M94 595h1M107 602h1M114 593h1M97 600h1M124 599h1M108 598h1M99 595h1M97 596h1M101 597h1M101 600h1M95 599h1M107 600h1M105 601h1M102 601h1M97 598h1M108 596h1M108 596h1M109 597h1M93 596h1M112 594h1M110 598h1M114 597h1M97 595h1M100 599h1M116 598h1M101 600h1M95 600h1M102 597h1M96 599h1M111 600h1M102 603h1M109 599h1M99 597h1M100 598h1M107 594h1M114 592h1M102 598h1M121 599h1M96 596h1M108 605h1M107 598h1M108 595h1M105 596h1M103 596h1M99 594h1M107 598h1M120 603h1M103 596h1M108 598h1M101 595h1M131 597h1M110 597h1M97 595h1M126 593h1M116 597h1M117 597h1M114 596h1M102 600h1M96 592h1M111 597h1M101 598h1M105 594h1M103 599h1M97 603h1M104 593h1M117 597h1M109 601h1M106 596h1M123 597h1M100 596h1M111 600h1M100 595h1M108 598h1M103 595h1M104 592h1M114 597h1M95 599h1M116 598h1M129 595h1M97 598h1M108 600h1M105 594h1M98 600h1M106 596h1M114 594h1M111 592h1M106 595h1M113 599h1M106 597h1M110 603h1M121 601h1M105 594h1M95 596h1M95 600h1M102 592h1M96 601h1M113 598h1M98 594h1M118 599h1M110 593h1M111 601h1M100 591h1M95 596h1M103 598h1M101 597h1M111 601h1M122 597h1M98 591h1M101 593h1M108 598h1M116 592h1M112 603h1M97 592h1M106 594h1M100 598h1M112 600h1M94 600h1M104 598h1M116 597h1M124 596h1M97 593h1M121 597h1M100 595h1M119 597h1M115 598h1M118 597h1M127 598h1M106 596h1M128 597h1M113 592h1M104 591h1M105 598h1M94 597h1M115 595h1M106 597h1M116 602h1M119 597h1M115 595h1M114 594h1M98 598h1M111 597h1M118 598h1M105 596h1M103 597h1M99 595h1M101 596h1M117 594h1M105 591h1M103 597h1M95 595h1M106 593h1M100 596h1M107 598h1M97 600h1M114 598h1M102 596h1M126 602h1M106 595h1M115 596h1M111 602h1M100 598h1M106 600h1M104 596h1M112 598h1M106 592h1M116 599h1M107 595h1M94 596h1M100 595h1M101 593h1M112 596h1M107 598h1M101 594h1M112 600h1M116 599h1M109 595h1M101 596h1M104 594h1M109 599h1M101 592h1M102 601h1M96 599h1M99 596h1M106 597h1M112 596h1M97 591h1M94 600h1M107 601h1M97 594h1M107 595h1M94 599h1M104 595h1M104 597h1M103 597h1M116 594h1M108 596h1M101 597h1M96 599h1M117 590h1M96 601h1M115 591h1M106 601h1M117 598h1M111 595h1M98 600h1M98 600h1M109 597h1M111 597h1M99 596h1M94 601h1M102 590h1M112 595h1M111 600h1M107 595h1M103 597h1M109 594h1M115 597h1M96 602h1M118 598h1M99 596h1M117 591h1M93 595h1M100 598h1M118 597h1M96 597h1M112 601h1M97 596h1M93 600h1M97 596h1M106 600h1M98 595h1M97 599h1M104 599h1M105 598h1M107 594h1M121 600h1M105 598h1M101 597h1M105 594h1M107 591h1M114 597h1M112 592h1M105 602h1M100 600h1M99 596h1M99 596h1M97 605h1M94 599h1M101 600h1M102 596h1M100 594h1M105 595h1M105 598h1M99 602h1M108 595h1M103 598h1M107 596h1M95 590h1M98 601h1M101 599h1M103 598h1M104 597h1M116 593h1M112 595h1M103 596h1M125 604h1M105 601h1M110 595h1M112 593h1M109 595h1M112 595h1M107 597h1M106 599h1M103 590h1M102 600h1M106 600h1M96 592h1M109 592h1M114 599h1M107 600h1M120 599h1M102 600h1M100 592h1M101 596h1M100 602h1M94 598h1M120 599h1M118 594h1M110 597h1M108 599h1M107 593h1M113 596h1M101 591h1M105 598h1M112 591h1M112 592h1M114 595h1M109 592h1M112 598h1M115 601h1M112 596h1M105 596h1M97 596h1M100 594h1M109 598h1M111 595h1M111 595h1M108 596h1M108 602h1M118 597h1M105 596h1M119 592h1M100 594h1M103 594h1M104 597h1M96 599h1M103 596h1M98 599h1M121 596h1M107 592h1M123 596h1M110 596h1M98 595h1M125 598h1M104 594h1M112 594h1M109 597h1M97 597h1M109 591h1M119 597h1M111 595h1M93 597h1M118 596h1M111 597h1M105 599h1M104 601h1M101 591h1M107 598h1M124 593h1M104 598h1M94 595h1M94 603h1M95 594h1M104 594h1M108 597h1M115 598h1M106 596h1M94 595h1M94 597h1M114 599h1M119 597h1M103 600h1M100 596h1M112 600h1M94 595h1M111 591h1M99 597h1M98 603h1M123 599h1M96 596h1M96 596h1M99 595h1M105 598h1M98 601h1M101 597h1M99 592h1M112 599h1M105 596h1M108 595h1M111 598h1M111 596h1M108 595h1M114 598h1M111 598h1M100 596h1M109 590h1M112 601h1M108 594h1M104 600h1M111 597h1M125 599h1M102 601h1M103 598h1M98 594h1M114 597h1M106 593h1M101 596h1M111 592h1M102 599h1M109 595h1M110 596h1M103 600h1M116 599h1M110 595h1M108 598h1M111 601h1M117 597h1M114 598h1M120 599h1M115 592h1M93 597h1M101 599h1M106 594h1M107 595h1M99 597h1M110 600h1M109 597h1M107 595h1M110 591h1M112 603h1M117 594h1M113 597h1M120 596h1M97 593h1M113 601h1M96 597h1M132 596h1M108 600h1M94 597h1M96 596h1M110 593h1M108 600h1M107 596h1M98 596h1M116 598h1M122 593h1M100 597h1M109 595h1M102 595h1M111 595h1M99 600h1M111 594h1M98 594h1M112 594h1M110 594h1M112 595h1M122 595h1M104 598h1M107 595h1M100 596h1M114 597h1M105 602h1M104 594h1M103 596h1M118 598h1M97 597h1M106 600h1M112 595h1M115 599h1M111 597h1M109 597h1M105 595h1M112 595h1M97 600h1M105 595h1M100 596h1M106 595h1M119 595h1M98 601h1M113 598h1M108 596h1M104 594h1M99 592h1M105 589h1M99 599h1M102 595h1M124 599h1M113 596h1M106 602h1M110 597h1M107 599h1M111 597h1M100 595h1M110 597h1M112 594h1M101 595h1M94 598h1M105 594h1M114 597h1M103 596h1M103 598h1" stroke="#1515ee" stroke-width="1" stroke-opacity="0.55" fill="none"/>
<path transform="translate(0 0.5)" d="M118 596h1M131 592h1M140 590h1M130 593h1M131 587h1M120 590h1M134 592h1M116 597h1M135 593h1M121 593h1M132 594h1M125 597h1M132 590h1M125 591h1M127 588h1M131 593h1M131 592h1M142 590h1M127 595h1M128 592h1M139 596h1M124 596h1M126 597h1M126 600h1M124 591h1M128 593h1M128 596h1M133 588h1M131 590h1M122 590h1M127 594h1M127 592h1M123 586h1M133 597h1M122 590h1M133 593h1M133 594h1M121 592h1M127 595h1M124 586h1M134 588h1M125 590h1M123 595h1M129 592h1M130 589h1M123 597h1M126 590h1M121 591h1M117 596h1M126 596h1M130 591h1M122 592h1M114 597h1M126 590h1M137 588h1M136 593h1M126 592h1M135 582h1M132 589h1M133 591h1" stroke="#1515ee" stroke-width="1" stroke-opacity="0.5" fill="none"/>
<ellipse cx="106.5" cy="597" rx="13.5" ry="3.4" fill="#1515ee" fill-opacity="0.9" transform="rotate(0 106.5 597)" filter="url(#b12)"/>
</g>
<rect x="92.50" y="575.40" width="76.30" height="75.80" fill="none" stroke="#7a7a7a" stroke-width="1.1"/>
<path d="M90.9 654.8l2.6 -1.4M110.0 654.8l2.6 -1.4M129.1 654.8l2.6 -1.4M148.1 654.8l2.6 -1.4M167.2 654.8l2.6 -1.4M87.9 649.6l1.6 2.2M87.9 630.6l1.6 2.2M87.9 611.7l1.6 2.2M87.9 592.8l1.6 2.2M87.9 573.8l1.6 2.2" stroke="#666" stroke-width="1.1" fill="none"/>
<rect x="123.40" y="584.50" width="15.50" height="12.30" fill="none" stroke="#7a7ad0" stroke-width="1.0"/>
<rect x="130.40" y="614.20" width="23.60" height="36.80" fill="none" stroke="#7a7ad0" stroke-width="1.0"/>
<text transform="translate(164.60 590.20) scale(1 1.0)" font-size="10.2" fill="#1e1e1e" stroke="#1e1e1e" stroke-width="0.22" text-anchor="end" font-family='"Liberation Serif", serif' font-weight="normal" >1.9</text>
<text transform="translate(112.70 648.80) scale(1 1.0)" font-size="10.2" fill="#1e1e1e" stroke="#1e1e1e" stroke-width="0.22" text-anchor="start" font-family='"Liberation Serif", serif' font-weight="normal" >17.5</text>
<text transform="translate(89.6 624.9) rotate(-90) scale(1 1.0)" stroke="#1e1e1e" stroke-width="0.22" font-size="9.3" fill="#1e1e1e" font-family='"Liberation Serif", serif'>CD19</text>
<text transform="translate(134.60 663.60) scale(1 1.0)" font-size="9.8" fill="#1e1e1e" stroke="#1e1e1e" stroke-width="0.22" text-anchor="middle" font-family='"Liberation Serif", serif' font-weight="normal" >CD5</text>
<text transform="translate(212.50 566.20) scale(1 1.0)" font-size="10.3" fill="#d22a48" stroke="#d22a48" stroke-width="0.22" text-anchor="start" font-family='"Liberation Serif", serif'>Ly-5.1<tspan dx="0.3" dy="-4.40" font-size="7.60">+</tspan></text>
<clipPath id="c190575"><rect x="190.4" y="575.4" width="76.49999999999997" height="75.80000000000007"/></clipPath>
<g clip-path="url(#c190575)">
<ellipse cx="239.9" cy="632" rx="9" ry="16" fill="#ee1530" fill-opacity="0.08" transform="rotate(0 239.9 632)" filter="url(#b30)"/>
<path transform="translate(0 0.5)" d="M230 620h1M240 648h1M231 630h1M233 644h1M205 637h1M203 644h1M214 601h1M229 623h1M231 649h1M210 599h1M218 637h1M197 604h1M222 583h1M208 624h1M232 603h1M223 623h1M250 597h1M199 638h1M199 608h1M201 644h1M254 597h1M238 606h1M198 587h1M244 591h1M212 610h1M228 609h1M254 597h1M218 587h1M205 622h1M214 603h1M195 591h1M236 646h1M238 606h1M257 600h1M256 579h1" stroke="#ee1530" stroke-width="1" stroke-opacity="0.25" fill="none"/>
<path transform="translate(0 0.5)" d="M197 639h1M203 632h1M195 628h1M210 619h1M232 638h1M194 621h1M214 641h1M206 626h1M208 608h1M214 614h1M224 613h1M203 641h1M210 643h1M222 630h1M209 632h1M202 610h1M200 626h1M209 625h1M217 636h1M208 642h1M233 611h1M209 637h1M202 638h1M222 640h1M217 636h1M225 644h1M204 634h1M206 618h1M205 641h1M205 643h1M213 637h1M196 619h1M220 639h1M199 611h1M194 636h1M203 614h1M214 639h1M205 614h1M215 639h1M202 594h1M208 619h1M208 648h1M205 640h1M228 597h1M220 609h1M199 625h1M201 636h1M200 624h1M217 619h1M200 608h1M234 636h1M205 628h1M195 639h1M209 611h1M208 637h1M199 650h1M221 614h1M223 619h1M201 602h1M218 631h1M209 612h1M198 627h1M215 605h1M216 632h1M196 635h1M212 603h1M210 620h1M211 639h1M208 621h1M212 624h1" stroke="#ee1530" stroke-width="1" stroke-opacity="0.25" fill="none"/>
<path transform="translate(0 0.5)" d="M241 641h1M243 629h1M240 638h1M239 629h1M236 622h1M238 608h1M248 639h1M249 641h1M228 620h1M244 631h1M242 636h1M235 615h1M242 631h1M245 636h1M231 625h1M237 634h1M232 606h1M243 616h1M241 643h1M244 641h1M245 615h1M236 638h1M247 627h1M232 628h1M247 637h1M231 624h1M242 643h1M243 649h1M240 638h1M241 643h1M239 642h1M243 626h1M242 632h1M240 631h1M241 635h1M233 621h1M240 623h1M238 617h1M244 634h1M242 632h1M238 636h1M232 636h1M244 641h1M243 633h1M245 641h1M229 625h1M232 626h1M249 624h1M244 620h1M231 620h1M238 624h1M228 623h1M239 627h1M233 614h1M236 640h1M239 624h1M234 640h1M237 627h1M233 631h1M242 622h1M241 628h1M242 621h1M236 622h1M239 625h1M233 630h1M244 640h1M239 629h1M246 620h1M252 642h1M241 636h1M248 615h1M235 633h1M238 640h1M241 622h1M233 649h1M235 618h1M235 626h1M242 630h1M232 649h1M247 632h1M231 636h1M241 630h1M238 630h1M241 634h1M239 649h1M245 645h1M233 638h1M238 613h1M247 615h1M233 607h1M233 636h1M247 643h1M241 642h1M238 631h1M239 622h1M246 615h1M240 633h1M231 617h1M241 622h1M240 627h1M239 626h1M238 641h1M231 620h1M242 636h1M243 634h1M228 643h1M236 630h1M233 640h1M240 619h1M242 643h1M243 610h1M243 638h1M251 640h1M249 634h1M230 610h1M245 638h1M240 647h1M239 633h1M241 632h1M237 631h1M242 646h1M240 636h1M242 621h1M234 633h1M238 621h1M237 613h1M245 637h1M246 606h1M239 634h1M236 641h1M239 636h1M239 628h1M237 632h1M246 630h1M236 624h1M244 648h1M243 636h1M243 620h1M237 637h1M237 641h1M248 621h1M239 639h1M242 635h1M247 645h1M235 624h1M235 629h1M243 634h1M244 638h1M236 610h1M237 618h1M233 628h1M249 626h1M243 639h1M240 622h1M249 631h1M250 635h1M239 632h1M237 624h1M243 623h1M243 619h1M230 628h1M245 623h1M249 645h1M239 645h1M238 631h1M242 631h1M246 619h1M234 614h1M238 629h1M234 638h1M232 621h1M247 625h1M241 600h1M240 632h1M239 639h1M238 632h1M236 630h1M239 642h1M236 620h1M238 625h1M238 646h1M246 632h1M239 633h1M235 638h1M242 628h1M237 637h1M233 625h1M235 612h1M234 638h1M246 621h1M237 638h1M240 624h1M236 643h1M230 616h1M239 635h1M235 621h1M245 633h1M233 635h1M238 644h1M244 621h1M236 631h1M237 637h1M234 615h1M237 626h1M237 624h1M235 636h1M239 628h1M232 637h1M246 630h1M239 644h1M239 641h1M237 623h1M247 616h1M243 645h1M240 632h1M244 620h1M239 635h1M240 613h1M241 627h1M232 635h1M238 605h1M247 637h1M231 629h1M235 637h1M240 635h1M247 633h1M238 646h1M241 643h1M226 645h1M245 603h1M240 636h1M231 645h1M241 621h1M235 631h1M240 626h1M241 646h1M240 631h1M249 644h1M238 632h1M237 630h1M238 622h1M243 627h1M235 626h1M234 630h1M238 622h1M244 634h1M244 633h1M242 615h1M238 642h1M237 635h1M232 612h1M242 622h1M241 630h1M241 627h1M239 643h1M243 633h1M243 633h1M241 621h1M238 647h1M240 637h1M247 644h1M249 643h1M248 620h1M242 633h1M231 635h1M241 633h1M242 632h1M248 628h1M240 613h1M239 638h1M242 639h1M240 634h1M237 650h1M234 630h1M233 643h1M238 631h1M233 649h1M236 644h1M240 632h1M239 624h1M242 639h1M252 614h1M238 622h1M237 617h1M235 640h1M237 629h1M244 634h1M241 630h1M240 627h1M246 630h1M236 628h1M241 625h1M248 636h1M243 633h1M234 627h1M242 634h1M237 617h1M235 638h1M227 623h1M247 629h1M238 611h1M237 636h1M236 633h1M236 626h1M237 647h1M246 646h1M234 619h1M235 629h1M244 648h1M232 642h1M237 627h1M244 613h1M246 622h1M241 638h1M235 649h1M239 644h1M239 626h1M237 639h1M242 646h1M231 613h1M243 629h1M246 638h1M239 634h1M238 622h1M241 627h1M239 629h1M233 630h1M241 621h1M243 625h1M250 606h1M241 621h1M238 637h1M240 628h1M241 647h1M248 617h1M238 628h1M245 626h1M236 626h1M240 638h1M242 620h1M240 621h1M246 621h1M238 644h1M240 640h1M236 630h1M247 637h1M239 621h1M242 649h1M242 623h1M243 626h1M241 646h1M240 633h1M233 625h1M240 615h1M244 640h1M241 624h1M234 622h1M240 628h1M232 632h1M235 618h1M238 631h1M242 614h1M239 638h1M242 623h1M235 630h1M239 637h1M231 626h1M239 635h1M243 611h1M238 625h1M237 621h1M238 639h1M240 633h1M232 637h1M241 640h1M237 637h1M235 629h1M245 631h1M247 639h1M235 634h1M235 633h1M245 618h1M244 609h1M235 638h1M235 617h1M241 614h1M236 625h1M233 629h1M239 627h1M241 621h1M239 611h1M233 636h1M234 638h1M248 636h1M237 627h1M246 617h1M235 647h1M243 637h1M238 624h1M237 624h1M236 633h1M232 624h1M240 631h1M238 626h1M243 623h1M242 626h1M245 643h1M239 627h1M240 617h1M241 627h1M247 606h1M242 625h1M232 632h1M234 634h1M230 634h1M242 623h1M244 641h1M238 648h1M240 634h1M241 630h1M231 637h1M240 618h1M253 625h1M241 648h1M250 631h1" stroke="#ee1530" stroke-width="1" stroke-opacity="0.35" fill="none"/>
<path transform="translate(0 0.5)" d="M217 595h1M199 597h1M197 601h1M233 587h1M213 591h1M232 589h1M207 597h1M227 590h1M207 589h1M207 604h1M223 586h1M218 587h1M236 591h1M207 601h1M204 594h1M218 599h1M221 599h1M211 589h1M218 584h1M206 591h1M203 597h1M216 605h1M218 590h1M210 595h1M210 589h1M200 603h1M191 592h1M227 590h1M194 600h1M225 587h1M196 592h1M228 583h1M192 598h1M198 598h1M215 588h1M226 589h1M231 595h1M236 588h1M227 592h1M223 585h1M235 596h1M193 599h1M223 587h1M226 585h1M199 595h1M201 585h1M211 597h1M211 596h1M212 592h1M212 599h1M228 595h1M220 603h1M201 593h1M220 592h1M218 591h1M223 597h1M220 590h1M223 595h1M218 591h1M228 588h1M220 596h1M219 599h1M226 593h1M243 591h1M221 587h1M209 598h1M202 592h1M218 591h1M201 599h1M208 589h1M230 594h1M202 598h1M224 592h1M192 584h1M213 594h1M212 595h1M201 594h1M227 586h1M200 591h1M222 602h1M203 598h1M193 590h1M232 587h1M233 585h1M208 594h1M219 589h1M196 592h1M233 582h1M191 595h1M194 596h1M213 594h1M217 587h1M218 593h1M210 590h1M200 592h1M237 595h1M202 589h1M204 597h1M217 601h1M211 601h1M205 595h1M227 588h1M245 587h1M234 587h1M208 592h1M214 598h1M229 596h1M213 589h1M200 609h1M193 601h1M201 594h1M223 588h1M200 594h1M220 595h1M224 594h1M204 594h1M202 592h1M205 603h1M217 594h1M198 596h1M192 610h1M206 594h1M219 597h1M214 594h1M193 599h1M210 591h1M216 583h1M209 603h1M200 596h1M213 588h1M221 599h1M212 589h1M200 597h1M231 596h1M220 599h1M223 603h1M216 597h1M222 594h1M238 593h1M199 604h1M224 596h1M223 589h1M195 605h1M205 599h1M201 606h1M208 604h1M223 588h1M200 594h1M202 599h1M214 594h1M223 592h1M211 594h1M192 601h1M229 600h1M206 606h1M214 599h1M208 596h1M216 599h1M206 598h1M220 598h1M218 586h1M234 587h1M221 589h1M206 593h1M208 604h1M208 592h1M219 597h1M210 597h1M238 585h1M201 605h1M237 599h1M250 597h1M222 583h1M229 590h1M213 588h1M210 586h1M236 599h1M209 587h1M212 592h1M206 599h1M221 593h1M229 596h1M217 595h1M210 583h1M191 600h1M217 597h1M208 588h1M226 590h1M209 591h1M209 591h1M198 598h1M205 596h1M212 594h1M205 591h1M217 598h1M207 603h1M214 600h1M192 597h1M204 587h1M237 577h1M207 602h1M218 591h1M232 598h1M215 588h1M222 587h1M208 594h1M224 603h1M216 599h1M243 578h1M234 593h1M234 597h1M221 591h1M205 595h1M206 599h1M218 599h1M214 594h1M226 595h1M192 603h1M207 590h1M203 591h1M208 590h1M195 594h1M222 593h1M212 596h1M215 592h1M220 597h1M211 602h1M214 583h1M214 595h1M211 595h1M223 597h1M213 586h1M236 587h1M213 599h1M200 591h1M216 589h1M221 595h1M220 593h1M201 591h1M204 599h1M222 585h1M213 592h1M213 591h1M208 603h1M201 591h1M227 595h1M214 604h1M220 591h1M222 591h1M206 600h1M193 599h1M204 592h1M210 589h1M218 589h1M206 594h1M212 603h1M193 596h1M222 607h1M212 599h1M219 589h1M217 600h1M218 592h1M210 588h1M194 592h1M232 588h1M225 589h1M228 587h1M192 598h1M220 590h1M209 591h1M198 601h1M230 594h1M221 593h1M209 590h1M218 595h1M223 595h1M195 589h1M207 595h1M191 595h1M212 592h1M212 593h1M208 594h1M192 602h1M220 587h1M212 590h1M197 591h1M232 591h1M224 590h1M199 598h1M229 603h1M203 596h1M191 594h1M227 596h1M202 588h1M210 606h1M191 598h1M194 594h1M213 589h1M208 593h1M205 595h1M234 590h1M201 594h1M207 601h1M202 592h1M216 590h1M209 599h1M211 597h1M213 602h1M212 595h1M205 599h1M231 590h1M219 601h1M200 600h1M195 594h1M227 591h1M196 594h1M220 598h1M222 580h1M223 587h1M230 591h1M208 593h1M221 596h1M219 589h1M224 602h1M221 597h1M207 593h1M239 590h1M207 592h1M222 600h1M197 586h1M202 597h1M200 595h1M226 597h1M194 598h1M207 597h1M212 597h1M197 598h1M195 594h1M216 600h1M203 602h1M204 595h1M192 595h1M243 592h1M220 597h1M213 587h1M224 591h1M198 593h1M227 594h1M224 583h1M227 592h1M217 601h1M193 595h1M221 596h1M218 586h1M215 594h1M219 586h1M205 595h1M234 592h1M205 581h1M206 601h1M216 584h1M202 601h1M191 595h1M193 592h1M194 581h1M223 594h1M205 597h1M206 593h1M213 598h1M217 593h1M232 591h1M192 604h1M201 590h1M212 595h1M207 588h1M207 597h1M233 594h1M228 599h1M224 597h1M222 596h1M194 589h1M200 599h1M228 591h1M205 602h1M225 594h1M207 585h1M227 594h1M208 595h1M206 598h1M209 593h1M219 586h1M210 591h1M226 603h1M217 600h1M225 592h1M211 603h1M215 597h1M226 589h1M203 597h1M217 588h1M211 598h1M191 601h1M220 600h1M205 596h1M198 603h1M207 594h1M193 594h1M199 596h1M217 592h1M207 590h1M203 596h1M203 599h1M192 595h1M218 599h1M203 595h1M210 594h1M216 592h1M222 596h1M207 585h1M220 595h1M208 587h1M212 594h1M214 597h1M212 592h1M208 580h1M221 596h1M212 590h1M211 592h1M211 599h1M217 593h1M211 595h1M207 593h1M217 591h1M210 596h1M207 596h1M229 594h1M211 592h1M198 597h1M213 600h1M197 602h1M207 596h1M223 597h1M215 590h1M209 593h1M225 588h1M227 593h1M201 596h1M215 588h1M226 591h1M224 590h1M202 599h1M219 593h1M220 585h1M217 594h1M216 596h1M207 591h1" stroke="#ee1530" stroke-width="1" stroke-opacity="0.3" fill="none"/>
<path transform="translate(0 0.5)" d="M200 599h1M213 594h1M215 596h1M215 597h1M193 600h1M220 591h1M218 591h1M214 592h1M194 599h1M208 600h1M199 592h1M199 594h1M215 596h1M231 584h1M212 593h1M222 594h1M202 594h1M232 588h1M195 593h1M215 595h1M218 589h1M212 591h1M210 589h1M198 595h1M209 587h1M214 592h1M211 596h1M229 595h1M224 596h1M191 595h1M209 595h1M226 594h1M220 594h1M214 594h1M191 592h1M218 596h1M191 592h1M213 592h1M226 594h1M210 586h1M231 591h1M195 598h1M205 597h1M232 588h1M223 590h1M214 596h1M234 591h1M215 593h1M204 593h1M203 598h1M212 599h1M191 595h1M208 599h1M198 598h1M225 596h1M205 595h1M223 592h1M219 593h1M224 594h1M216 593h1M217 593h1M250 590h1M212 593h1M216 595h1M208 599h1M216 592h1M197 600h1M204 593h1M194 595h1M219 595h1M209 597h1M224 595h1M205 601h1M231 593h1M199 600h1M208 593h1M225 593h1M210 592h1M201 602h1M200 591h1M228 591h1M208 595h1M238 586h1M214 595h1M215 595h1M215 602h1M215 598h1M210 592h1M206 590h1M239 586h1M228 590h1M206 593h1M202 593h1M209 595h1M213 598h1M213 590h1M231 589h1M207 595h1M200 602h1M204 596h1M199 594h1M208 595h1M214 591h1M224 595h1M215 592h1M226 592h1M219 595h1M195 597h1M219 589h1M227 589h1M221 595h1M207 599h1M226 596h1M214 593h1M207 593h1M208 600h1M203 599h1M210 598h1M234 586h1M202 595h1M206 594h1M213 593h1M212 594h1M213 586h1M233 591h1M222 598h1M197 597h1M212 596h1M229 590h1M206 591h1M211 595h1M217 600h1M208 597h1M193 597h1M203 596h1M227 592h1M218 596h1M216 595h1M202 599h1M211 592h1M212 597h1M222 592h1M199 598h1M215 600h1M207 594h1M191 596h1M209 595h1M226 590h1M216 593h1M197 595h1M209 594h1M212 596h1M195 595h1M216 591h1M225 590h1M213 594h1M208 593h1M210 594h1M218 586h1M213 594h1M200 598h1M204 596h1M228 596h1M200 599h1M213 603h1M222 591h1M215 595h1M211 589h1M211 591h1M212 597h1M221 591h1M206 589h1M220 595h1M214 592h1M220 597h1M212 597h1M191 601h1M232 589h1M197 597h1M221 592h1M225 592h1M221 590h1M199 591h1M219 590h1M221 593h1M204 594h1M203 588h1M214 593h1M217 589h1M203 592h1M202 596h1M212 590h1M206 601h1M225 594h1M210 593h1M206 593h1M191 593h1M203 600h1M198 591h1M216 593h1M207 594h1M196 600h1M227 590h1M212 594h1M211 595h1M215 595h1M215 590h1M208 597h1M193 599h1M225 599h1M229 590h1M226 588h1M217 595h1M196 596h1M203 594h1M228 593h1M210 596h1M209 598h1M195 594h1M201 593h1M204 595h1M213 593h1M203 593h1M229 593h1M210 590h1M193 596h1M215 596h1M209 596h1M206 593h1M205 594h1M218 598h1M208 595h1M222 587h1M211 594h1M210 593h1M201 596h1M197 596h1M213 592h1M204 594h1M219 591h1M201 597h1M225 589h1M226 589h1M226 595h1M215 597h1M217 597h1M214 596h1M224 592h1M200 599h1M228 589h1M218 590h1M217 595h1M206 595h1M217 597h1M216 591h1M192 595h1M194 592h1M232 594h1M195 596h1M214 591h1M194 596h1M215 597h1M195 594h1M218 594h1M192 597h1M205 597h1M222 594h1M210 594h1M212 594h1M197 595h1M211 596h1M217 598h1M196 592h1M206 597h1M225 587h1M192 591h1M200 605h1M206 595h1M224 597h1M196 597h1M204 592h1M216 589h1M196 597h1M194 596h1M206 596h1M218 591h1M205 599h1M211 596h1M201 593h1M215 593h1M195 592h1M196 595h1M202 596h1M223 595h1M221 596h1M225 593h1M216 598h1M227 586h1M213 596h1M193 598h1M222 594h1M223 585h1M201 595h1M206 603h1M204 594h1M229 592h1M220 595h1M221 594h1M227 592h1M220 595h1M200 596h1M221 591h1M222 592h1M224 597h1M220 598h1M198 597h1M223 588h1M197 595h1M217 594h1M220 596h1M211 594h1M221 594h1M212 592h1M218 586h1M194 596h1M207 597h1M228 587h1M214 594h1M230 596h1M228 591h1M203 600h1M220 593h1M225 594h1M201 593h1M212 590h1M197 603h1M200 595h1M204 593h1M206 595h1M220 594h1M214 594h1M219 592h1M226 593h1M218 592h1M203 597h1M217 595h1M223 591h1M211 595h1M212 587h1M208 595h1M220 588h1M191 599h1M207 592h1M206 585h1M235 596h1M205 595h1M214 596h1M208 592h1M215 590h1M212 593h1M203 598h1M203 598h1M221 596h1M191 597h1M214 594h1M217 594h1M215 600h1M214 591h1M229 596h1M199 596h1M206 595h1M217 598h1M202 596h1M218 593h1M201 599h1M192 602h1M197 594h1M217 593h1M205 599h1M230 597h1M213 593h1M213 593h1M203 600h1M211 595h1M222 597h1M210 599h1M219 592h1M218 595h1M211 591h1M197 591h1M196 596h1M211 594h1M207 590h1M218 598h1M199 596h1M213 592h1M219 590h1M224 589h1M220 594h1M199 598h1M213 591h1M217 589h1M207 594h1M211 594h1M204 599h1M215 594h1M199 593h1M210 598h1M219 594h1M193 595h1M211 598h1M203 600h1M222 595h1M211 594h1M201 597h1M226 593h1M215 590h1M219 591h1M219 587h1M223 594h1M221 598h1M222 595h1M202 598h1M215 594h1M217 594h1M210 590h1M206 592h1M209 592h1M194 598h1M230 590h1M199 599h1M216 595h1M220 593h1M225 594h1M208 596h1M227 597h1M211 602h1M206 590h1M194 592h1M213 592h1M209 592h1M211 592h1M207 598h1M209 597h1M192 591h1M218 593h1M202 589h1M204 595h1M215 589h1M207 597h1M209 595h1M201 591h1M196 604h1M210 593h1M218 593h1M208 598h1M210 589h1M208 593h1M191 598h1M221 592h1M215 593h1M202 599h1M203 594h1M236 592h1M209 596h1M214 596h1M217 596h1M222 592h1M195 591h1M196 602h1M229 586h1M213 593h1M227 589h1M197 601h1M205 598h1M221 591h1M225 588h1M227 588h1M216 599h1M199 593h1M191 596h1M206 600h1M232 595h1M217 594h1M221 590h1M192 597h1M199 596h1M212 600h1M193 601h1M211 589h1M206 591h1M192 594h1M191 599h1M244 593h1M204 592h1M201 595h1M203 589h1M233 590h1M209 598h1M205 592h1M206 588h1M226 588h1M203 592h1M191 587h1M198 594h1M214 590h1M199 596h1M218 595h1M206 596h1M202 588h1M211 595h1M214 596h1M214 596h1M205 599h1M233 595h1M208 596h1M200 595h1M210 598h1M206 598h1M192 595h1M193 594h1M209 594h1M196 595h1M207 597h1M205 598h1M211 597h1M226 591h1M226 592h1M201 596h1M237 593h1M231 592h1M213 591h1M209 598h1M202 597h1M192 594h1M208 600h1M216 596h1M204 590h1M202 598h1M224 589h1M209 593h1M239 592h1M216 593h1M214 596h1M208 593h1M206 593h1M211 592h1M224 597h1M224 592h1M198 598h1M218 594h1M200 594h1M226 592h1M221 595h1M203 597h1M204 598h1M208 594h1M204 593h1M192 595h1M198 603h1M217 595h1M207 593h1M218 590h1M202 591h1M212 598h1M192 593h1M223 591h1M222 592h1M207 593h1M208 592h1M213 592h1M208 597h1M208 590h1M211 596h1M205 597h1M224 591h1M211 594h1M212 590h1M208 597h1M223 597h1M200 588h1M212 593h1M222 589h1M209 591h1M209 599h1M223 594h1M220 594h1M208 599h1M222 593h1M222 594h1M223 587h1M198 595h1M211 593h1M213 592h1M217 600h1M201 594h1M197 599h1M193 600h1M206 593h1M231 590h1M220 599h1M193 595h1M223 594h1M215 595h1M211 588h1M227 594h1M220 595h1M210 592h1M214 593h1M218 589h1M225 596h1M196 591h1M210 593h1M206 593h1M210 591h1M208 595h1M216 594h1M220 587h1M198 590h1M199 596h1M215 592h1M192 599h1M208 598h1M226 594h1M213 597h1M229 591h1M201 599h1M216 591h1M221 591h1M222 593h1M196 596h1M207 594h1M212 595h1M217 595h1M204 599h1M219 594h1M213 594h1M201 592h1M217 597h1M215 592h1M212 595h1M198 597h1M232 589h1M197 595h1M209 593h1M215 592h1M212 595h1M191 593h1M194 593h1M220 591h1M226 596h1M203 592h1M203 599h1M229 590h1M219 596h1M213 596h1M216 595h1M191 601h1M226 591h1M196 597h1M210 596h1M210 595h1M198 600h1M207 598h1M212 590h1M216 595h1M207 595h1M203 595h1M214 592h1M204 598h1M197 595h1M233 594h1M203 593h1M192 599h1M217 600h1M210 597h1M217 591h1M231 595h1M225 590h1M208 594h1M212 596h1M209 590h1M221 594h1M207 597h1M200 595h1M221 596h1M214 592h1M215 594h1M205 599h1M191 597h1M229 584h1M227 595h1M209 588h1M216 593h1M209 597h1M209 593h1M240 596h1M206 598h1M226 593h1M220 596h1M212 597h1M205 599h1M194 596h1M224 598h1M215 604h1M223 594h1M218 595h1M207 595h1M224 593h1M222 594h1M210 595h1M227 594h1M207 593h1M211 593h1M235 591h1M204 593h1M212 592h1M221 587h1M201 592h1M201 600h1M226 587h1M223 597h1M210 596h1M207 593h1M206 594h1M218 598h1M196 597h1M221 598h1M217 589h1M215 593h1M207 594h1M214 595h1M196 595h1M202 604h1M223 589h1M217 593h1M203 597h1M214 590h1M204 595h1M205 599h1" stroke="#ee1530" stroke-width="1" stroke-opacity="0.5" fill="none"/>
<path transform="translate(0 0.5)" d="M227 589h1M227 594h1M231 587h1M229 593h1M224 590h1M221 591h1M227 587h1M237 587h1M229 594h1M227 585h1M231 588h1M225 591h1M233 592h1M237 590h1M223 594h1M234 588h1M234 584h1M232 586h1M218 590h1M224 589h1M232 586h1M223 586h1M225 586h1M227 591h1M223 593h1M228 589h1M223 597h1M223 584h1M231 592h1M215 592h1M221 588h1M234 588h1M233 586h1M218 591h1M223 589h1M222 587h1M225 592h1M227 592h1M221 590h1M219 590h1M238 588h1M229 587h1M228 585h1M240 580h1M232 587h1M228 589h1M234 587h1M229 588h1M238 587h1M229 591h1M235 586h1M224 586h1M227 591h1M240 584h1M227 586h1M228 589h1M232 589h1M216 595h1M226 591h1M231 587h1M233 587h1M221 588h1M223 592h1M231 587h1M230 591h1M232 588h1M224 591h1M232 588h1M238 587h1M235 586h1M225 593h1M223 589h1M232 585h1M229 589h1M233 583h1M225 587h1M218 590h1M230 593h1M225 590h1M223 597h1M239 584h1M219 589h1M229 588h1M221 588h1M222 589h1M235 589h1M239 588h1M237 595h1M229 588h1M218 587h1M233 589h1M228 596h1M232 586h1M230 593h1M219 588h1M229 586h1M232 592h1M229 591h1M226 589h1M245 583h1M229 588h1M227 592h1M228 593h1M225 590h1M236 585h1M222 588h1M228 593h1M226 592h1M225 590h1M218 586h1M230 587h1M232 588h1M225 591h1M229 586h1M219 588h1M228 591h1M230 588h1M224 580h1M219 596h1M221 592h1M231 586h1M220 594h1M229 588h1M219 596h1M219 590h1M222 590h1M224 587h1M234 588h1M221 588h1M236 588h1M231 589h1M233 587h1M227 587h1M217 594h1M230 590h1M230 587h1M224 587h1M232 585h1M219 593h1M232 591h1M224 590h1M236 582h1M231 589h1M228 585h1M229 591h1M239 590h1M224 590h1M217 591h1M227 590h1M231 593h1M228 590h1M221 592h1M226 587h1M215 585h1M225 586h1M230 590h1M226 594h1M221 590h1M219 592h1M217 593h1M220 594h1M228 594h1M222 593h1M234 587h1M223 588h1M231 588h1M227 585h1M229 586h1M227 588h1M225 588h1M223 589h1M228 593h1M231 590h1M221 590h1M222 589h1M235 588h1M232 589h1M222 584h1M223 595h1M240 589h1M226 589h1M229 587h1M239 593h1M221 593h1M224 593h1M230 591h1M229 586h1M226 584h1M222 587h1M230 591h1M233 586h1M223 586h1M222 591h1M229 587h1M235 592h1M227 584h1M224 595h1M227 586h1M239 586h1M224 588h1M228 588h1M230 588h1M231 592h1M236 585h1M233 587h1M235 587h1M245 588h1M234 591h1M225 590h1M225 590h1M237 586h1M213 592h1M223 590h1M210 590h1M234 593h1M236 589h1M233 590h1M229 590h1M217 591h1M235 592h1M222 581h1M231 592h1M231 592h1M230 590h1M224 589h1M230 590h1M226 595h1M229 585h1M234 595h1M223 591h1M229 589h1M229 593h1M227 593h1M229 592h1M233 586h1M234 582h1M230 593h1M232 589h1M231 596h1M227 586h1M231 590h1M226 593h1M228 589h1M227 588h1M229 587h1M222 590h1M239 581h1M221 590h1M223 592h1M227 591h1M228 589h1M224 596h1M227 586h1M218 580h1M235 592h1M230 587h1M224 591h1M236 595h1M226 590h1M228 592h1M224 592h1M222 594h1M239 583h1M215 588h1M221 592h1M230 587h1M221 591h1M223 588h1M228 585h1M229 584h1M226 591h1M219 595h1M225 584h1M223 587h1M223 587h1M229 588h1M216 588h1M223 592h1M216 587h1M232 588h1M223 584h1M226 588h1M216 591h1M225 586h1M222 586h1M239 584h1M238 591h1M237 591h1M221 589h1M223 589h1M233 591h1M232 590h1M241 588h1M229 590h1M230 589h1M230 586h1M227 587h1M230 588h1M228 592h1M230 594h1" stroke="#ee1530" stroke-width="1" stroke-opacity="0.5" fill="none"/>
<ellipse cx="211" cy="594.5" rx="17" ry="3.3" fill="#ee1530" fill-opacity="0.65" transform="rotate(-7 211 594.5)" filter="url(#b15)"/>
<ellipse cx="229" cy="589.5" rx="6.5" ry="3.2" fill="#ee1530" fill-opacity="0.75" transform="rotate(-10 229 589.5)" filter="url(#b12)"/>
</g>
<rect x="190.40" y="575.40" width="76.50" height="75.80" fill="none" stroke="#7a7a7a" stroke-width="1.1"/>
<path d="M188.8 654.8l2.6 -1.4M207.9 654.8l2.6 -1.4M227.0 654.8l2.6 -1.4M246.2 654.8l2.6 -1.4M265.3 654.8l2.6 -1.4M185.8 649.6l1.6 2.2M185.8 630.6l1.6 2.2M185.8 611.7l1.6 2.2M185.8 592.8l1.6 2.2M185.8 573.8l1.6 2.2" stroke="#666" stroke-width="1.1" fill="none"/>
<rect x="221.30" y="584.50" width="15.50" height="12.30" fill="none" stroke="#7a7ad0" stroke-width="1.0"/>
<rect x="228.30" y="614.20" width="23.60" height="36.80" fill="none" stroke="#7a7ad0" stroke-width="1.0"/>
<text transform="translate(262.70 590.20) scale(1 1.0)" font-size="10.2" fill="#1e1e1e" stroke="#1e1e1e" stroke-width="0.22" text-anchor="end" font-family='"Liberation Serif", serif' font-weight="normal" >26.2</text>
<text transform="translate(206.70 648.80) scale(1 1.0)" font-size="10.2" fill="#1e1e1e" stroke="#1e1e1e" stroke-width="0.22" text-anchor="start" font-family='"Liberation Serif", serif' font-weight="normal" >18.1</text>
<text transform="translate(187.5 624.9) rotate(-90) scale(1 1.0)" stroke="#1e1e1e" stroke-width="0.22" font-size="9.3" fill="#1e1e1e" font-family='"Liberation Serif", serif'>CD19</text>
<text transform="translate(232.50 663.60) scale(1 1.0)" font-size="9.8" fill="#1e1e1e" stroke="#1e1e1e" stroke-width="0.22" text-anchor="middle" font-family='"Liberation Serif", serif' font-weight="normal" >CD5</text>
<text transform="translate(323.80 566.20) scale(1 1.0)" font-size="10.3" fill="#3434b4" stroke="#3434b4" stroke-width="0.22" text-anchor="start" font-family='"Liberation Serif", serif'>Ly-5.1<tspan dx="0.3" dy="-4.40" font-size="7.60">-</tspan></text>
<clipPath id="c299575"><rect x="299.4" y="575.4" width="76.40000000000003" height="75.80000000000007"/></clipPath>
<g clip-path="url(#c299575)">
<ellipse cx="348.9" cy="632" rx="9" ry="16" fill="#1515ee" fill-opacity="0.08" transform="rotate(0 348.9 632)" filter="url(#b30)"/>
<path transform="translate(0 0.5)" d="M324 583h1M363 597h1M370 579h1M363 618h1M333 598h1M356 624h1M302 585h1M359 581h1M327 598h1M326 600h1M331 590h1M330 624h1M334 593h1M305 579h1M352 629h1M348 632h1M334 640h1M329 590h1M358 587h1M330 599h1M313 582h1M369 604h1M366 578h1M304 579h1M338 639h1M312 630h1M342 602h1M337 593h1M334 614h1M318 594h1M303 618h1M332 625h1M333 606h1M348 621h1M364 593h1" stroke="#1515ee" stroke-width="1" stroke-opacity="0.25" fill="none"/>
<path transform="translate(0 0.5)" d="M311 627h1M322 618h1M319 623h1M312 616h1M335 637h1M307 622h1M321 643h1M325 624h1M318 622h1M313 615h1M315 641h1M336 637h1M307 626h1M314 621h1M321 602h1M313 620h1M335 640h1M315 617h1M301 625h1M324 645h1M302 626h1M322 634h1M316 628h1M313 641h1M327 638h1M304 633h1M312 636h1M328 623h1M301 629h1M320 612h1M316 621h1M327 617h1M309 614h1M319 637h1M318 639h1M311 613h1M307 628h1M339 635h1M320 631h1M325 623h1M333 630h1M329 613h1M314 622h1M322 606h1M312 638h1M328 626h1M324 638h1M328 630h1M305 635h1M308 620h1M306 622h1M312 619h1M316 630h1M324 623h1M326 640h1M304 625h1M308 616h1M322 621h1M316 596h1M316 631h1M326 624h1M302 616h1M311 621h1M305 616h1M303 618h1M321 626h1M313 632h1M333 640h1M311 634h1M326 634h1M345 623h1M312 633h1M310 618h1M308 635h1M315 625h1M323 613h1M338 624h1M302 620h1M314 630h1M312 599h1M323 616h1M333 620h1M345 614h1M310 633h1M312 633h1M319 624h1M308 595h1M320 631h1M306 625h1M334 614h1M309 607h1M319 606h1M309 614h1M317 638h1M311 604h1M328 624h1M311 615h1M320 637h1M299 636h1M308 626h1M309 614h1M323 629h1M303 618h1M307 630h1M305 637h1M317 627h1M319 632h1M314 638h1M327 620h1M312 644h1M325 643h1M301 636h1M317 611h1M324 613h1M338 614h1M305 611h1M318 608h1M346 633h1M320 603h1M326 641h1M328 621h1M306 609h1M317 584h1M328 630h1M329 644h1M311 644h1M329 611h1M323 633h1M318 610h1M332 637h1M333 629h1M307 614h1" stroke="#1515ee" stroke-width="1" stroke-opacity="0.25" fill="none"/>
<path transform="translate(0 0.5)" d="M350 637h1M347 632h1M346 639h1M353 635h1M346 634h1M350 626h1M354 628h1M348 625h1M351 632h1M342 615h1M345 629h1M347 619h1M349 634h1M353 623h1M341 630h1M340 612h1M348 629h1M346 635h1M350 627h1M345 640h1M351 646h1M351 636h1M350 620h1M349 634h1M352 634h1M352 637h1M350 630h1M347 640h1M355 618h1M354 644h1M350 620h1M356 643h1M348 640h1M347 632h1M347 639h1M351 633h1M353 626h1M347 614h1M349 637h1M344 639h1M348 638h1M350 619h1M346 631h1M354 624h1M356 615h1M347 624h1M350 632h1M351 638h1M349 621h1M352 634h1M337 627h1M349 633h1M339 637h1M349 621h1M342 623h1M351 625h1M341 618h1M351 625h1M348 637h1M352 623h1M353 639h1M344 630h1M343 640h1M343 626h1M347 644h1M351 630h1M351 636h1M347 638h1M345 624h1M348 634h1M346 622h1M342 635h1M347 644h1M347 638h1M354 636h1M351 627h1M349 614h1M351 617h1M359 611h1M349 598h1M358 641h1M343 647h1M341 639h1M354 647h1M348 634h1M350 636h1M348 640h1M353 640h1M346 647h1M345 624h1M351 617h1M349 648h1M350 619h1M350 632h1M345 627h1M353 641h1M349 635h1M348 638h1M345 648h1M353 638h1M343 639h1M350 612h1M345 630h1M342 626h1M353 624h1M344 631h1M349 620h1M349 634h1M347 628h1M355 630h1M350 616h1M351 616h1M349 613h1M350 628h1M348 619h1M352 623h1M342 642h1M351 649h1M345 623h1M349 649h1M354 638h1M352 626h1M346 633h1M346 629h1M347 627h1M343 626h1M342 640h1M335 627h1M346 620h1M351 627h1M358 615h1M355 637h1M350 628h1M340 627h1M349 619h1M354 620h1M344 627h1M350 623h1M348 649h1M351 635h1M344 644h1M348 643h1M347 621h1M354 621h1M348 640h1M351 615h1M353 622h1M357 635h1M342 649h1M345 642h1M353 639h1M349 641h1M343 632h1M339 639h1M343 649h1M343 622h1M346 645h1M351 636h1M355 617h1M353 633h1M340 622h1M353 619h1M349 627h1M344 622h1M341 627h1M362 619h1M345 631h1M350 631h1M342 621h1M345 624h1M346 635h1M348 640h1M345 645h1M346 632h1M348 642h1M339 624h1M346 638h1M350 634h1M356 637h1M355 633h1M352 621h1M354 622h1M353 638h1M343 632h1M348 628h1M345 642h1M344 632h1M348 617h1M351 631h1M346 627h1M345 625h1M342 641h1M352 627h1M342 611h1M343 625h1M346 611h1M345 629h1M350 631h1M351 628h1M343 635h1M349 631h1M341 647h1M351 640h1M348 615h1M343 643h1M360 606h1M355 637h1M349 632h1M353 637h1M354 627h1M349 629h1M343 628h1M345 638h1M349 625h1M355 632h1M346 627h1M353 625h1M347 640h1M349 644h1M349 624h1M347 632h1M351 629h1M347 635h1M352 637h1M357 628h1M356 643h1M358 644h1M347 649h1M351 638h1M347 636h1M335 614h1M352 631h1M345 639h1M354 642h1M344 644h1M350 635h1M354 642h1M353 636h1M344 629h1M353 618h1M346 624h1M344 630h1M348 620h1M350 622h1M354 635h1M344 634h1M341 633h1M340 636h1M354 615h1M346 639h1M351 625h1M353 637h1M342 646h1M342 625h1M349 613h1M348 636h1M354 617h1M350 636h1M345 615h1M345 632h1M347 637h1M345 627h1M346 624h1M339 623h1M346 625h1M341 624h1M349 643h1M344 627h1M344 633h1M345 647h1M351 640h1M348 631h1M356 634h1M357 637h1M350 627h1M347 596h1M354 632h1M345 633h1M339 628h1M343 641h1M355 628h1M356 635h1M351 628h1M349 626h1M351 619h1M348 643h1M350 603h1M344 633h1M353 630h1M353 644h1M342 629h1M353 627h1M351 646h1M346 634h1M345 647h1M356 606h1M349 611h1M340 631h1M364 623h1M346 637h1M349 635h1M354 633h1M342 627h1M347 622h1M346 627h1M350 619h1M351 627h1M345 625h1M353 630h1M345 623h1M349 621h1M346 639h1M354 615h1M349 646h1M353 623h1M349 627h1M345 643h1M352 634h1M353 643h1M350 634h1M350 612h1M347 631h1M337 640h1M349 633h1M347 641h1M352 627h1M341 643h1M355 639h1M353 630h1M348 636h1M348 609h1M340 644h1M342 619h1M352 644h1M346 629h1M343 619h1M341 626h1M350 620h1M341 633h1M350 630h1M352 631h1M354 627h1M346 623h1M349 634h1M345 636h1M352 633h1M343 636h1M342 620h1M348 636h1M349 631h1M351 642h1M345 636h1M349 632h1M356 618h1M351 645h1M359 636h1M348 626h1M341 634h1M354 632h1M346 632h1M349 634h1M356 640h1M356 629h1M353 618h1M346 632h1M345 628h1M347 628h1M352 613h1M359 622h1M332 641h1M350 644h1M343 648h1M345 639h1M349 635h1M365 614h1M348 626h1M351 611h1M351 627h1M348 620h1M343 612h1M342 629h1M341 634h1M344 625h1M350 630h1M354 640h1M349 620h1M344 644h1M356 615h1M348 622h1M350 639h1M345 637h1M343 633h1M351 625h1M351 648h1M347 619h1M350 625h1M348 645h1M348 621h1M354 628h1M351 619h1M350 619h1M347 626h1M344 631h1M343 630h1M347 633h1M347 609h1M351 611h1M350 632h1M348 622h1M358 626h1M349 637h1M347 625h1M356 622h1M346 631h1M341 626h1M344 622h1M335 616h1M352 631h1M356 642h1M342 637h1M350 619h1M351 646h1M349 637h1M348 627h1M346 632h1M348 622h1M349 632h1M353 642h1M349 623h1M351 638h1M343 622h1M351 614h1M348 638h1M348 643h1M352 639h1M342 640h1M343 632h1M344 635h1M346 638h1M348 626h1M344 638h1M357 638h1M336 642h1M348 644h1M353 622h1M347 618h1M352 625h1M353 619h1M349 629h1M353 625h1M347 635h1M345 637h1M353 635h1M354 630h1M342 616h1M350 642h1M349 617h1M346 626h1M344 622h1M357 638h1M353 631h1M347 627h1M358 633h1M353 616h1M347 613h1M349 611h1M346 639h1M349 621h1M351 641h1M347 636h1M354 637h1M349 645h1M345 628h1M348 635h1M349 635h1M339 618h1M342 629h1M351 628h1M342 641h1M348 644h1M353 643h1M348 618h1M352 624h1M343 628h1M353 637h1M346 647h1M341 632h1M349 634h1M360 633h1M349 625h1M349 630h1M353 617h1M338 635h1M345 636h1M343 640h1M352 640h1M344 640h1M352 629h1M345 631h1M351 645h1M342 631h1M345 625h1M340 627h1M353 627h1M356 630h1M349 631h1M342 628h1M361 635h1M349 637h1M356 636h1M351 644h1M343 610h1M344 637h1M350 610h1M345 641h1M348 636h1M348 631h1M341 622h1M344 634h1M348 643h1M333 634h1M340 644h1M342 632h1M340 626h1M340 612h1M341 631h1M344 645h1M345 644h1M344 638h1M350 626h1M350 638h1M354 629h1M351 636h1M344 632h1M357 634h1M351 624h1M342 628h1M351 643h1M341 616h1M353 621h1M349 623h1" stroke="#1515ee" stroke-width="1" stroke-opacity="0.4" fill="none"/>
<path transform="translate(0 0.5)" d="M323 601h1M301 597h1M317 598h1M330 590h1M307 602h1M325 589h1M310 586h1M322 597h1M313 599h1M310 581h1M301 593h1M309 600h1M308 588h1M308 590h1M316 598h1M340 596h1M317 599h1M305 599h1M312 597h1M316 585h1M305 597h1M334 589h1M305 598h1M304 590h1M302 598h1M307 590h1M316 590h1M300 597h1M320 590h1M317 603h1M303 606h1M312 601h1M300 595h1M306 589h1M317 598h1M305 584h1M312 601h1M320 594h1M304 594h1M314 603h1M319 590h1M324 587h1M316 595h1M305 603h1M319 593h1M323 599h1M309 590h1M324 587h1M310 604h1M317 602h1M322 599h1M303 603h1M305 601h1M326 591h1M310 595h1M319 596h1M327 592h1M309 590h1M307 589h1M303 601h1M326 596h1M303 596h1M324 600h1M329 597h1M320 591h1M310 594h1M314 601h1M309 597h1M312 594h1M320 598h1M314 593h1M310 591h1M304 593h1M315 589h1M308 605h1M335 591h1M306 605h1M316 591h1M312 601h1M340 590h1M320 593h1M330 586h1M314 598h1M302 590h1M338 589h1M314 597h1M302 593h1M357 597h1M327 598h1M317 594h1M317 593h1M334 587h1M309 598h1M316 597h1M305 594h1M306 601h1M319 587h1M316 597h1M339 590h1M303 601h1M305 594h1M307 592h1M319 600h1M310 594h1M315 587h1M305 592h1M325 596h1M323 601h1M317 591h1M330 595h1M304 588h1M315 590h1M304 596h1M311 588h1M301 600h1M305 598h1M306 588h1M308 603h1M308 596h1M315 593h1M314 598h1M323 592h1M327 593h1M305 595h1M319 600h1M311 598h1M320 602h1M329 599h1M305 592h1M313 590h1M323 595h1M317 604h1M338 591h1M300 597h1M305 606h1M301 596h1M310 589h1M317 596h1M310 592h1M309 592h1M304 600h1M309 600h1M308 593h1M326 590h1M329 594h1M312 597h1M303 598h1M312 596h1M313 595h1M317 593h1M318 591h1M314 592h1M304 591h1M323 597h1M339 590h1M309 593h1M323 596h1M301 598h1M300 588h1M309 594h1M323 596h1M300 591h1M328 590h1M312 596h1M310 598h1M320 596h1M316 603h1M301 595h1M303 603h1M303 603h1M309 591h1M312 597h1M319 598h1M323 593h1M319 598h1M328 604h1M325 595h1M322 594h1M305 593h1M316 596h1M316 594h1M329 603h1M307 594h1M333 591h1M337 598h1M311 599h1M328 592h1M308 607h1M342 598h1M339 595h1M304 586h1M321 594h1M301 593h1M301 602h1M322 588h1M320 596h1M312 606h1M304 590h1M308 597h1M313 601h1M300 598h1M311 595h1M328 588h1M327 593h1M306 585h1M315 594h1M319 591h1M329 596h1M342 596h1M307 590h1M325 593h1M315 591h1M338 595h1M306 591h1M312 595h1M313 596h1M329 590h1M307 598h1M327 595h1M325 597h1M309 588h1M316 591h1M301 582h1M340 592h1M316 590h1M311 595h1M301 600h1M308 597h1M308 598h1M316 590h1M330 601h1M326 598h1M313 591h1M308 593h1M307 583h1M326 596h1M329 598h1M312 593h1M319 597h1M321 600h1M314 589h1M306 594h1M325 591h1M300 597h1M318 592h1M322 602h1M311 598h1M338 594h1M307 593h1M334 597h1M313 591h1M307 604h1M309 594h1M300 594h1M317 597h1M300 601h1M332 596h1M315 594h1M304 604h1M320 600h1M311 600h1M326 594h1M326 601h1M312 594h1M313 594h1M333 596h1M314 595h1M310 594h1M338 600h1M321 606h1M318 596h1M326 589h1M312 592h1M305 599h1M309 599h1M310 595h1M316 602h1M303 590h1M337 588h1M300 589h1M312 601h1M300 591h1M320 595h1M321 594h1M311 596h1M318 599h1M314 594h1M323 599h1M307 597h1M326 593h1M300 588h1M321 596h1M303 603h1M302 598h1M309 594h1M316 604h1M317 597h1M301 597h1M325 591h1M316 601h1M307 588h1M322 592h1M321 590h1M351 593h1M308 597h1M323 602h1M327 591h1M310 588h1M310 602h1M315 604h1M325 592h1M310 599h1M326 594h1M337 598h1M304 587h1M304 600h1M313 596h1M316 599h1M307 597h1M310 597h1M319 596h1M311 592h1M344 596h1M314 588h1M315 597h1M314 593h1M327 592h1M328 595h1M305 605h1M331 592h1M310 592h1M309 601h1M331 591h1M312 596h1M309 589h1M308 591h1M308 598h1M312 592h1M325 605h1M322 595h1M316 596h1M326 602h1M311 591h1M325 599h1M332 588h1M323 601h1M306 594h1M304 595h1" stroke="#1515ee" stroke-width="1" stroke-opacity="0.3" fill="none"/>
<path transform="translate(0 0.5)" d="M303 593h1M314 597h1M326 594h1M309 595h1M313 595h1M304 593h1M322 596h1M302 595h1M303 599h1M308 596h1M312 595h1M316 600h1M309 597h1M315 599h1M307 591h1M308 597h1M316 600h1M317 602h1M309 597h1M311 593h1M306 600h1M314 601h1M322 593h1M305 592h1M302 597h1M310 596h1M301 595h1M318 599h1M304 594h1M316 595h1M321 593h1M315 597h1M314 595h1M320 595h1M317 595h1M329 596h1M317 599h1M307 593h1M309 593h1M319 596h1M305 600h1M311 592h1M328 596h1M307 596h1M303 598h1M306 600h1M316 594h1M302 596h1M312 598h1M305 597h1M308 595h1M335 599h1M305 595h1M304 599h1M328 598h1M325 599h1M311 595h1M319 596h1M319 596h1M309 597h1M321 604h1M305 597h1M326 603h1M304 601h1M322 596h1M305 598h1M318 597h1M315 596h1M321 603h1M301 595h1M320 598h1M322 595h1M304 596h1M323 593h1M313 594h1M300 597h1M311 595h1M317 600h1M311 595h1M302 595h1M305 590h1M309 600h1M315 597h1M333 598h1M316 595h1M313 593h1M316 600h1M321 595h1M314 596h1M313 602h1M310 594h1M307 600h1M317 593h1M311 597h1M307 596h1M321 591h1M302 594h1M319 598h1M306 592h1M319 598h1M301 594h1M303 596h1M309 597h1M316 595h1M305 592h1M327 596h1M310 596h1M303 600h1M308 598h1M325 591h1M311 593h1M301 596h1M327 598h1M308 594h1M331 599h1M311 599h1M323 599h1M304 596h1M310 598h1M325 593h1M311 593h1M307 599h1M309 591h1M315 597h1M320 596h1M316 595h1M309 596h1M306 598h1M312 595h1M307 594h1M306 596h1M305 596h1M306 597h1M305 595h1M314 596h1M304 595h1M316 598h1M322 596h1M315 594h1M325 599h1M328 598h1M319 599h1M323 593h1M315 600h1M311 596h1M310 591h1M324 599h1M321 603h1M302 595h1M312 596h1M311 600h1M318 592h1M305 598h1M303 593h1M305 594h1M326 598h1M309 597h1M306 592h1M330 598h1M317 598h1M304 594h1M312 592h1M311 595h1M313 596h1M318 597h1M308 597h1M313 595h1M308 595h1M323 597h1M304 593h1M316 598h1M337 595h1M301 594h1M327 602h1M324 595h1M331 598h1M314 601h1M314 601h1M312 600h1M312 601h1M306 601h1M330 595h1M321 595h1M313 589h1M302 599h1M326 596h1M310 595h1M323 593h1M328 600h1M312 598h1M327 596h1M317 598h1M303 601h1M310 594h1M320 599h1M319 594h1M329 595h1M306 597h1M305 595h1M309 599h1M319 601h1M312 595h1M325 597h1M314 598h1M317 596h1M317 593h1M310 600h1M310 599h1M314 597h1M319 594h1M300 602h1M313 591h1M320 596h1M323 599h1M317 600h1M309 592h1M316 595h1M320 598h1M308 599h1M315 599h1M305 596h1M305 595h1M308 599h1M303 597h1M313 598h1M310 597h1M300 598h1M311 594h1M312 598h1M318 597h1M308 594h1M315 594h1M315 596h1M320 595h1M324 598h1M308 598h1M312 596h1M300 595h1M314 596h1M312 598h1M319 598h1M323 598h1M327 594h1M329 596h1M322 600h1M312 594h1M323 596h1M310 594h1M300 601h1M317 598h1M306 594h1M315 593h1M316 594h1M328 596h1M328 599h1M323 596h1M332 597h1M319 594h1M312 600h1M315 596h1M316 594h1M318 598h1M325 596h1M301 598h1M325 595h1M320 593h1M321 600h1M314 590h1M311 591h1M316 591h1M309 595h1M307 594h1M302 594h1M325 593h1M306 592h1M305 592h1M322 594h1M318 599h1M301 595h1M305 597h1M320 600h1M302 601h1M316 601h1M331 595h1M308 597h1M302 592h1M311 591h1M325 597h1M318 595h1M303 595h1M335 597h1M310 598h1M310 593h1M306 601h1M305 598h1M311 593h1M331 596h1M314 599h1M318 598h1M326 595h1M315 599h1M317 598h1M310 592h1M301 595h1M322 592h1M319 600h1M307 596h1M325 596h1M317 592h1M327 598h1M317 593h1M316 593h1M309 592h1M320 598h1M337 592h1M321 600h1M316 597h1M315 600h1M301 599h1M315 595h1M325 596h1M301 595h1M305 599h1M302 601h1M301 599h1M312 600h1M311 599h1M326 596h1M309 601h1M313 596h1M322 597h1M301 593h1M310 595h1M322 596h1M304 596h1M318 595h1M307 596h1M316 593h1M337 598h1M330 600h1M301 603h1M305 600h1M312 595h1M303 591h1M328 595h1M316 595h1M331 597h1M313 593h1M311 597h1M310 595h1M309 595h1M329 601h1M321 600h1M319 598h1M322 595h1M324 593h1M301 595h1M313 597h1M314 595h1M329 596h1M314 594h1M311 595h1M319 600h1M329 593h1M313 598h1M315 598h1M300 596h1M305 596h1M306 602h1M310 599h1M310 599h1M313 595h1M314 597h1M315 599h1M304 599h1M306 596h1M313 597h1M320 601h1M332 593h1M322 594h1M307 591h1M309 597h1M320 599h1M311 600h1M314 596h1M308 592h1M314 595h1M311 597h1M303 592h1M328 595h1M317 595h1M320 598h1M310 596h1M327 595h1M312 598h1M318 596h1M303 595h1M315 597h1M312 596h1M307 598h1M309 597h1M325 596h1M313 596h1M306 595h1M316 595h1M301 595h1M301 596h1M322 597h1M320 594h1M308 598h1M318 598h1M308 597h1M316 595h1M305 598h1M300 595h1M318 597h1M308 597h1M312 595h1M328 601h1M314 601h1M309 597h1M315 596h1M308 600h1M320 594h1M310 591h1M302 598h1M313 592h1M323 602h1M306 594h1M313 599h1M311 590h1M319 598h1M300 595h1M311 599h1M320 598h1M322 598h1M322 593h1M309 596h1M310 600h1M305 594h1M325 597h1M325 597h1M303 597h1M307 598h1M324 597h1M325 597h1M316 599h1M301 599h1M313 596h1M322 597h1M304 595h1M320 596h1M316 600h1M313 589h1M317 597h1M311 594h1M311 599h1M311 596h1M317 594h1M325 600h1M308 597h1M304 599h1M323 595h1M304 599h1M305 596h1M300 593h1M313 595h1M311 597h1M316 599h1M324 594h1M300 593h1M320 599h1M323 597h1M318 598h1M319 595h1M324 597h1M311 595h1M312 595h1M308 595h1M314 597h1M323 598h1M308 594h1M311 593h1M300 594h1M309 597h1M308 600h1M318 599h1M310 596h1M303 598h1M301 595h1M310 597h1M316 597h1M323 596h1M320 595h1M305 598h1M313 596h1M325 601h1M308 598h1M307 594h1M320 601h1M300 594h1M321 600h1M308 594h1M311 597h1M321 597h1M312 589h1M302 596h1M307 594h1M319 594h1M321 598h1M319 591h1M312 597h1M300 594h1M323 594h1M315 592h1M304 595h1M325 593h1M326 595h1M301 598h1M300 595h1M309 595h1M326 592h1M305 595h1M300 593h1M341 596h1M315 597h1M308 599h1M323 596h1M310 598h1M304 599h1M310 596h1M304 592h1M307 599h1M305 597h1M314 598h1M312 595h1M327 599h1M320 596h1M308 598h1M330 600h1M305 592h1M301 601h1M302 597h1M304 595h1M321 592h1M303 594h1M314 596h1M302 595h1M310 595h1M307 598h1M326 596h1M329 596h1M312 593h1M312 598h1M324 600h1M306 598h1M311 595h1M327 595h1M324 595h1M311 596h1M315 598h1M319 594h1M308 600h1M329 593h1M318 596h1M308 595h1M308 592h1M303 596h1M315 595h1M306 601h1M313 595h1M317 593h1M305 602h1M324 598h1M330 593h1M310 597h1M318 595h1M311 596h1M304 588h1M326 599h1M319 597h1M304 600h1M311 594h1M308 597h1M314 601h1M319 596h1M303 594h1M324 596h1M302 599h1M305 598h1M324 600h1M304 597h1M310 597h1M308 595h1M310 603h1M313 595h1M314 594h1M327 597h1M331 594h1M308 594h1M302 598h1M315 600h1M306 598h1M318 596h1M314 593h1M317 600h1M320 601h1M311 600h1M321 599h1M318 596h1M324 597h1M311 595h1M311 599h1M300 597h1M318 596h1M313 595h1M322 597h1M320 594h1M320 599h1M320 594h1M327 593h1M306 596h1M336 600h1M303 597h1M329 593h1M303 595h1M308 596h1M309 600h1M316 597h1M321 599h1M320 602h1M328 593h1M313 591h1M319 599h1M316 596h1M307 600h1M316 591h1M303 599h1M326 591h1M312 597h1M329 597h1M323 595h1M301 595h1M309 596h1M340 595h1M317 592h1M327 594h1M307 598h1M301 593h1M320 597h1M313 598h1M307 592h1M318 598h1M307 593h1M302 592h1M314 599h1M302 600h1M314 596h1M312 591h1M317 599h1M300 595h1M318 599h1M315 596h1M306 593h1M320 600h1M303 597h1M322 599h1M306 595h1M321 595h1M312 597h1M304 598h1M344 598h1M323 598h1M326 601h1M310 596h1M309 593h1M311 598h1M331 599h1M305 595h1M307 597h1M329 591h1M324 599h1M321 598h1M303 594h1M329 596h1M309 596h1M317 599h1M319 598h1M319 597h1M325 603h1M326 598h1M305 598h1M309 595h1M316 600h1M313 596h1M315 601h1M315 600h1M327 599h1M310 594h1M304 593h1M300 595h1M320 591h1M306 594h1M310 596h1M314 594h1M314 597h1M304 599h1M310 600h1M310 598h1M306 601h1M311 590h1M326 599h1M312 599h1M309 599h1M321 593h1M323 594h1M304 594h1M320 595h1M303 593h1M323 599h1M325 594h1M321 596h1M317 595h1M325 598h1M304 597h1M308 594h1M313 600h1M332 591h1M328 595h1M306 597h1M314 593h1M332 598h1M326 598h1M307 598h1M309 595h1M323 595h1M327 596h1M333 597h1M330 599h1M328 601h1M309 599h1M308 595h1M318 597h1M314 591h1M315 595h1M301 597h1M322 594h1M324 594h1M327 599h1M317 596h1M306 596h1M309 596h1M319 594h1M301 597h1M322 598h1M324 599h1M301 593h1M318 597h1M313 592h1M324 594h1M306 596h1M331 595h1M319 599h1M311 593h1M311 596h1M306 594h1M319 595h1M310 595h1M315 595h1M318 601h1M305 599h1M310 594h1M311 590h1M308 597h1M302 601h1M315 599h1M332 600h1M318 598h1M309 599h1M308 599h1M306 598h1M302 601h1M321 595h1M314 594h1M322 596h1M318 598h1M324 597h1M310 598h1M305 593h1M319 596h1M300 594h1M319 598h1M304 600h1M319 596h1M299 602h1M308 595h1M309 597h1M321 596h1M311 602h1" stroke="#1515ee" stroke-width="1" stroke-opacity="0.55" fill="none"/>
<path transform="translate(0 0.5)" d="M321 593h1M334 593h1M333 592h1M337 594h1M340 594h1M339 593h1M330 591h1M345 586h1M331 591h1M339 591h1M341 593h1M323 595h1M330 593h1M338 589h1M323 593h1M336 589h1M328 592h1M335 595h1M331 598h1M336 588h1M323 593h1M330 592h1M334 591h1M329 591h1M335 593h1M342 596h1M339 593h1M320 590h1M322 592h1M325 590h1M334 592h1M340 594h1M331 592h1M337 590h1M327 596h1M335 587h1M319 595h1M332 590h1M336 590h1M325 597h1M329 594h1M329 593h1M330 593h1M334 592h1M323 594h1M346 591h1M332 591h1M321 592h1M326 594h1M333 592h1M335 596h1M337 588h1M332 590h1M331 590h1M322 598h1M325 594h1M339 584h1M334 593h1M343 591h1M334 589h1M330 593h1M337 594h1M333 594h1M323 593h1M327 593h1M328 594h1M327 593h1M332 592h1M336 594h1M332 591h1M343 594h1M329 592h1M327 593h1M324 590h1M327 591h1M329 593h1M333 596h1M332 592h1M335 593h1M328 585h1M329 594h1M332 591h1M329 594h1M337 592h1M330 593h1M324 588h1M330 595h1M340 589h1M331 591h1M335 591h1M335 596h1M335 593h1M332 595h1M329 591h1M341 587h1M336 590h1M332 592h1M336 593h1M328 587h1M330 596h1M332 596h1M331 597h1M335 593h1M323 592h1M326 594h1M321 595h1M314 592h1M322 585h1M329 592h1M336 593h1M325 591h1M342 588h1M328 596h1M337 592h1M327 594h1M335 589h1M334 589h1M321 595h1M349 585h1M328 593h1" stroke="#1515ee" stroke-width="1" stroke-opacity="0.5" fill="none"/>
<ellipse cx="314" cy="597" rx="13.5" ry="3.4" fill="#1515ee" fill-opacity="0.9" transform="rotate(0 314 597)" filter="url(#b12)"/>
</g>
<rect x="299.40" y="575.40" width="76.40" height="75.80" fill="none" stroke="#7a7a7a" stroke-width="1.1"/>
<path d="M297.8 654.8l2.6 -1.4M316.9 654.8l2.6 -1.4M336.0 654.8l2.6 -1.4M355.1 654.8l2.6 -1.4M374.2 654.8l2.6 -1.4M294.8 649.6l1.6 2.2M294.8 630.6l1.6 2.2M294.8 611.7l1.6 2.2M294.8 592.8l1.6 2.2M294.8 573.8l1.6 2.2" stroke="#666" stroke-width="1.1" fill="none"/>
<rect x="330.30" y="584.50" width="15.50" height="12.30" fill="none" stroke="#7a7ad0" stroke-width="1.0"/>
<rect x="337.30" y="614.20" width="23.60" height="36.80" fill="none" stroke="#7a7ad0" stroke-width="1.0"/>
<text transform="translate(371.60 590.20) scale(1 1.0)" font-size="10.2" fill="#1e1e1e" stroke="#1e1e1e" stroke-width="0.22" text-anchor="end" font-family='"Liberation Serif", serif' font-weight="normal" >1.9</text>
<text transform="translate(315.40 648.80) scale(1 1.0)" font-size="10.2" fill="#1e1e1e" stroke="#1e1e1e" stroke-width="0.22" text-anchor="start" font-family='"Liberation Serif", serif' font-weight="normal" >20.8</text>
<text transform="translate(296.5 624.9) rotate(-90) scale(1 1.0)" stroke="#1e1e1e" stroke-width="0.22" font-size="9.3" fill="#1e1e1e" font-family='"Liberation Serif", serif'>CD19</text>
<text transform="translate(341.50 663.60) scale(1 1.0)" font-size="9.8" fill="#1e1e1e" stroke="#1e1e1e" stroke-width="0.22" text-anchor="middle" font-family='"Liberation Serif", serif' font-weight="normal" >CD5</text>
<text transform="translate(419.50 566.20) scale(1 1.0)" font-size="10.3" fill="#a23ab4" stroke="#a23ab4" stroke-width="0.22" text-anchor="start" font-family='"Liberation Serif", serif'>Ly-5.1<tspan dx="0.3" dy="-4.40" font-size="7.60">+</tspan></text>
<clipPath id="c397575"><rect x="397.7" y="575.4" width="76.10000000000002" height="75.80000000000007"/></clipPath>
<g clip-path="url(#c397575)">
<ellipse cx="447.2" cy="632" rx="9" ry="16" fill="#b0108c" fill-opacity="0.08" transform="rotate(0 447.2 632)" filter="url(#b30)"/>
<path transform="translate(0 0.5)" d="M444 578h1M400 623h1M447 621h1M438 638h1M445 608h1M421 647h1M413 645h1M402 597h1M457 629h1M422 599h1M422 638h1M450 631h1M457 592h1M421 638h1M465 606h1M462 600h1M440 581h1M416 591h1M420 640h1M461 616h1M457 594h1M445 640h1M430 642h1M467 608h1M423 595h1M464 582h1M447 599h1M405 579h1M435 629h1M422 608h1M464 638h1M460 586h1M459 612h1M455 622h1M415 605h1" stroke="#b0108c" stroke-width="1" stroke-opacity="0.25" fill="none"/>
<path transform="translate(0 0.5)" d="M424 644h1M453 628h1M421 624h1M401 618h1M400 644h1M410 646h1M410 634h1M430 636h1M421 625h1M415 612h1M437 623h1M426 629h1M402 610h1M408 643h1M421 634h1M425 618h1M408 638h1M414 627h1M406 604h1M414 639h1M406 629h1M414 639h1M429 606h1M413 625h1M432 642h1M418 628h1M403 644h1M428 605h1M414 632h1M427 624h1M417 612h1M415 631h1M410 634h1M407 614h1M427 619h1M428 617h1M433 635h1M438 605h1M416 606h1M406 628h1M402 621h1M407 641h1M418 607h1M411 612h1M405 646h1M419 639h1M412 615h1M422 614h1M408 616h1M415 623h1M434 597h1M414 639h1M401 624h1M416 620h1M403 629h1M413 625h1M403 635h1M403 637h1M429 645h1M406 636h1M410 638h1M422 615h1M427 644h1M419 616h1M422 623h1M422 607h1M405 649h1M420 618h1M412 626h1M441 641h1" stroke="#b0108c" stroke-width="1" stroke-opacity="0.25" fill="none"/>
<path transform="translate(0 0.5)" d="M452 646h1M445 627h1M441 617h1M448 631h1M452 624h1M446 639h1M445 643h1M449 638h1M443 637h1M445 647h1M433 628h1M453 632h1M454 633h1M452 621h1M439 619h1M440 619h1M448 626h1M450 615h1M441 613h1M449 622h1M454 649h1M445 643h1M439 617h1M451 631h1M444 649h1M449 632h1M444 645h1M444 632h1M441 629h1M444 638h1M450 635h1M448 644h1M445 628h1M454 636h1M447 625h1M451 621h1M436 623h1M443 642h1M446 624h1M444 643h1M450 628h1M439 640h1M451 639h1M446 633h1M447 632h1M444 631h1M439 630h1M448 628h1M444 619h1M450 626h1M447 615h1M442 621h1M448 625h1M439 647h1M448 638h1M441 630h1M453 611h1M447 634h1M440 648h1M438 624h1M442 629h1M453 613h1M449 639h1M446 622h1M448 620h1M442 640h1M443 639h1M451 619h1M435 620h1M450 627h1M452 612h1M454 630h1M452 635h1M451 620h1M439 637h1M447 614h1M447 637h1M453 640h1M449 614h1M441 625h1M438 625h1M446 642h1M446 625h1M448 621h1M442 629h1M446 647h1M447 625h1M452 640h1M448 625h1M450 635h1M449 632h1M444 634h1M447 636h1M449 612h1M444 639h1M444 632h1M454 639h1M451 637h1M457 632h1M438 622h1M442 610h1M447 619h1M450 645h1M439 642h1M452 620h1M447 634h1M449 630h1M441 632h1M456 630h1M454 629h1M447 627h1M440 649h1M442 637h1M438 630h1M446 629h1M445 634h1M438 640h1M446 632h1M443 627h1M446 640h1M452 632h1M446 636h1M447 628h1M452 603h1M447 642h1M448 612h1M450 619h1M454 628h1M451 609h1M446 634h1M441 625h1M446 626h1M438 626h1M449 635h1M443 630h1M447 627h1M448 615h1M437 642h1M446 626h1M448 629h1M450 644h1M447 619h1M440 623h1M444 632h1M443 616h1M447 641h1M445 627h1M451 632h1M449 640h1M445 616h1M443 645h1M452 632h1M445 635h1M443 613h1M447 632h1M453 632h1M451 645h1M437 611h1M445 626h1M457 630h1M453 616h1M443 633h1M452 620h1M453 639h1M446 636h1M445 612h1M453 645h1M437 622h1M445 634h1M456 631h1M447 621h1M448 637h1M442 640h1M447 632h1M444 647h1M439 623h1M456 620h1M447 633h1M441 635h1M446 616h1M449 640h1M445 639h1M451 631h1M439 642h1M450 624h1M440 628h1M448 643h1M454 634h1M445 641h1M450 632h1M446 636h1M443 638h1M444 622h1M444 633h1M438 636h1M448 621h1M452 635h1M448 633h1M449 650h1M446 649h1M445 637h1M448 640h1M436 623h1M451 635h1M449 624h1M449 627h1M450 605h1M440 644h1M448 625h1M452 630h1M443 637h1M452 627h1M448 647h1M446 630h1M447 633h1M449 629h1M450 637h1M455 616h1M447 627h1M445 621h1M446 629h1M448 645h1M441 636h1M446 641h1M448 617h1M437 634h1M441 639h1M456 630h1M458 631h1M445 633h1M442 641h1M448 629h1M444 624h1M448 616h1M447 613h1M433 624h1M459 649h1M449 627h1M442 626h1M447 627h1M455 624h1M452 630h1M450 616h1M446 626h1M453 639h1M448 611h1M446 629h1M445 638h1M445 634h1M453 647h1M442 615h1M449 632h1M449 621h1M450 629h1M445 622h1M439 607h1M446 643h1M445 646h1M450 632h1M452 610h1M447 623h1M445 634h1M449 616h1M437 643h1M449 626h1M445 634h1M448 643h1M440 623h1M445 625h1M452 646h1M454 644h1M445 626h1M437 630h1M436 632h1M445 626h1M454 637h1M449 646h1M454 626h1M436 638h1M453 642h1M439 633h1M436 636h1M451 629h1M450 634h1M449 627h1M446 632h1M446 624h1M444 628h1M454 623h1M452 644h1M442 618h1M447 626h1M456 633h1M454 627h1M441 634h1M451 640h1M441 648h1M441 628h1M455 629h1M447 620h1M437 635h1M443 640h1M451 640h1M446 636h1M450 640h1M450 643h1M441 647h1M437 637h1M442 624h1M437 632h1M451 627h1M445 615h1M449 629h1M444 600h1M443 626h1M446 606h1M444 643h1M446 644h1M444 624h1M457 634h1M457 641h1M444 636h1M447 636h1M450 607h1M450 619h1M448 630h1M458 629h1M450 630h1M444 629h1M448 648h1M447 647h1M441 628h1M440 625h1M453 633h1M452 621h1M446 619h1M440 631h1M437 642h1M458 618h1M442 628h1M444 640h1M455 632h1M452 632h1M448 634h1M448 642h1M452 620h1M443 619h1M445 621h1M446 625h1M446 620h1M447 626h1M450 632h1M441 622h1M448 627h1M446 627h1M443 648h1M457 639h1M450 635h1M435 623h1M437 640h1M448 626h1M451 639h1M449 622h1M447 622h1M448 633h1M452 642h1M443 649h1M444 628h1M449 635h1M454 641h1M440 610h1M443 639h1M446 622h1M446 631h1M440 612h1M448 644h1M441 645h1M450 647h1M445 622h1M439 618h1M451 636h1M444 641h1M446 623h1M447 622h1M447 634h1M453 622h1M448 644h1M451 625h1M441 634h1M443 632h1M446 644h1M441 629h1M454 626h1M440 622h1M448 640h1M448 618h1M448 631h1M450 626h1M448 623h1M448 639h1M448 629h1M448 622h1M444 633h1M450 638h1M441 634h1M450 626h1M444 630h1M443 636h1M453 635h1M447 620h1M444 626h1M437 647h1M450 628h1M450 633h1M444 642h1M436 649h1M449 636h1M447 623h1M444 638h1M445 632h1M451 629h1M457 606h1M447 623h1M440 620h1M441 632h1M446 624h1M449 631h1M452 620h1M446 647h1M457 623h1M435 632h1M442 633h1M444 628h1M451 647h1M445 622h1M452 621h1M450 630h1M442 646h1M450 629h1M451 630h1M446 639h1M449 621h1M440 643h1M451 626h1M455 630h1" stroke="#b0108c" stroke-width="1" stroke-opacity="0.35" fill="none"/>
<path transform="translate(0 0.5)" d="M435 589h1M414 595h1M411 597h1M398 591h1M427 590h1M422 596h1M420 592h1M403 594h1M438 599h1M405 602h1M420 593h1M405 600h1M402 588h1M414 593h1M399 591h1M401 595h1M404 592h1M421 595h1M423 600h1M405 597h1M420 608h1M412 588h1M398 592h1M417 605h1M425 592h1M409 590h1M402 588h1M426 598h1M424 607h1M409 599h1M398 591h1M414 599h1M408 609h1M405 595h1M430 594h1M416 598h1M411 593h1M414 593h1M411 597h1M417 595h1M409 597h1M407 595h1M408 600h1M401 598h1M418 596h1M437 591h1M401 589h1M418 599h1M436 596h1M434 589h1M415 599h1M405 605h1M404 597h1M425 598h1M446 588h1M421 593h1M419 589h1M426 591h1M421 589h1M398 585h1M406 599h1M421 593h1M406 598h1M409 597h1M410 599h1M428 590h1M416 596h1M410 594h1M409 594h1M433 587h1M428 593h1M409 601h1M403 592h1M400 598h1M426 599h1M426 594h1M406 595h1M415 588h1M418 587h1M409 594h1M404 589h1M414 600h1M424 594h1M410 597h1M422 602h1M422 596h1M402 591h1M416 601h1M431 589h1M417 594h1M421 592h1M406 596h1M419 600h1M421 590h1M409 598h1M406 596h1M403 594h1M418 600h1M407 595h1M404 595h1M431 586h1M411 594h1M414 595h1M430 592h1M429 590h1M424 602h1M406 592h1M421 599h1M412 594h1M399 606h1M406 592h1M436 590h1M421 596h1M398 595h1M429 596h1M408 592h1M415 591h1M416 599h1M409 601h1M421 594h1M415 603h1M436 594h1M427 595h1M408 594h1M426 588h1M421 597h1M423 593h1M421 596h1M421 598h1M402 590h1M423 596h1M401 591h1M401 596h1M408 595h1M438 586h1M431 592h1M399 598h1M418 600h1M401 587h1M422 595h1M399 592h1M416 591h1M419 598h1M410 598h1M417 594h1M427 599h1M420 598h1M419 599h1M418 604h1M408 592h1M414 600h1M417 602h1M402 601h1M432 586h1M402 611h1M418 601h1M421 584h1M404 593h1M416 584h1M409 592h1M423 603h1M403 586h1M409 595h1M399 600h1M424 583h1M407 594h1M403 598h1M417 599h1M416 596h1M428 606h1M424 601h1M407 593h1M407 597h1M415 596h1M406 591h1M428 594h1M417 590h1M416 599h1M401 596h1M422 600h1M429 592h1M411 603h1M428 593h1M422 602h1M400 597h1M411 597h1M432 596h1M418 601h1M426 596h1M420 598h1M420 599h1M424 600h1M413 603h1M413 597h1M418 602h1M413 591h1M414 587h1M409 598h1M416 597h1M415 586h1M408 599h1M419 591h1M429 597h1M422 591h1M424 597h1M436 594h1M406 594h1M441 593h1M400 587h1M408 592h1M415 599h1M413 604h1M426 600h1M427 597h1M426 596h1M417 594h1M406 597h1M403 600h1M434 589h1M434 594h1M425 596h1M419 590h1M410 593h1M410 595h1M402 594h1M399 600h1M422 584h1M420 596h1M405 601h1M401 599h1M410 599h1M410 599h1M417 603h1M430 599h1M404 595h1M440 587h1M417 594h1M432 592h1M428 588h1M404 592h1M402 594h1M399 602h1M420 600h1M405 589h1M419 594h1M422 591h1M402 594h1M433 590h1M405 600h1M399 584h1M409 595h1M400 593h1M416 587h1M419 600h1M408 591h1M418 602h1M410 598h1M424 603h1M426 590h1M426 593h1M414 595h1M412 591h1M415 601h1M405 602h1M405 601h1M426 596h1M424 602h1M417 596h1M408 596h1M408 598h1M414 593h1M425 590h1M416 593h1M407 603h1M414 603h1M419 590h1M419 594h1M420 602h1M403 593h1M409 593h1M423 593h1M413 591h1M415 591h1M400 587h1M414 589h1M418 594h1M405 597h1M400 598h1M411 593h1M415 590h1M411 587h1M409 586h1M407 593h1M415 596h1M403 598h1M419 593h1M415 592h1M421 593h1M409 596h1M420 600h1M435 597h1M403 586h1M418 587h1M419 601h1M408 587h1M435 591h1M422 595h1M412 610h1M411 591h1M411 590h1M412 583h1M438 588h1M413 590h1M416 588h1M399 603h1M411 598h1M398 600h1M433 597h1M406 592h1M400 596h1M407 590h1M423 600h1M403 594h1M409 594h1M409 591h1M412 600h1M432 600h1M418 601h1M411 599h1M405 591h1M399 598h1M445 593h1M437 593h1M407 600h1M440 598h1M404 598h1M409 592h1M418 596h1M410 589h1M414 598h1M413 601h1M420 588h1M423 588h1M402 587h1M400 584h1M400 591h1M411 595h1M411 593h1M412 593h1M423 596h1M417 604h1M415 600h1M408 585h1M404 596h1M407 593h1" stroke="#b0108c" stroke-width="1" stroke-opacity="0.3" fill="none"/>
<path transform="translate(0 0.5)" d="M411 598h1M405 598h1M412 594h1M425 594h1M422 593h1M399 595h1M416 597h1M410 597h1M410 590h1M414 603h1M430 594h1M419 596h1M409 595h1M398 593h1M419 597h1M416 594h1M415 594h1M419 594h1M417 588h1M400 600h1M433 598h1M406 598h1M435 590h1M404 598h1M422 593h1M416 596h1M414 597h1M421 593h1M404 593h1M409 596h1M419 595h1M407 595h1M402 594h1M411 594h1M400 593h1M426 597h1M406 599h1M421 597h1M412 595h1M418 589h1M426 596h1M402 600h1M416 597h1M402 593h1M427 595h1M424 595h1M409 590h1M430 591h1M401 590h1M403 600h1M413 590h1M420 593h1M414 593h1M424 593h1M417 592h1M425 593h1M410 596h1M416 595h1M409 598h1M430 594h1M414 598h1M438 592h1M402 595h1M404 597h1M412 599h1M426 590h1M418 592h1M407 591h1M414 598h1M413 596h1M412 595h1M423 592h1M420 596h1M414 596h1M413 591h1M431 600h1M413 597h1M402 606h1M400 600h1M417 601h1M411 595h1M409 595h1M408 596h1M427 592h1M402 596h1M416 595h1M410 594h1M431 593h1M421 595h1M415 588h1M413 596h1M414 593h1M432 595h1M417 595h1M413 596h1M417 595h1M425 598h1M414 595h1M403 597h1M409 597h1M428 593h1M413 595h1M418 592h1M423 601h1M399 598h1M417 599h1M432 595h1M416 596h1M408 599h1M398 599h1M403 595h1M408 598h1M416 591h1M398 599h1M423 593h1M423 594h1M401 594h1M423 593h1M406 589h1M426 597h1M413 597h1M400 594h1M418 596h1M433 595h1M410 600h1M432 593h1M420 599h1M415 595h1M421 596h1M422 589h1M408 599h1M424 591h1M408 599h1M411 596h1M405 595h1M428 588h1M412 590h1M423 599h1M442 597h1M425 593h1M408 601h1M409 597h1M422 598h1M407 594h1M415 597h1M425 599h1M414 594h1M425 593h1M400 593h1M416 594h1M414 595h1M410 593h1M427 598h1M416 591h1M408 596h1M413 597h1M410 598h1M413 591h1M416 590h1M416 593h1M436 594h1M405 598h1M402 592h1M404 596h1M422 593h1M409 593h1M400 590h1M398 596h1M421 599h1M412 594h1M416 595h1M412 599h1M421 594h1M418 596h1M411 601h1M427 593h1M402 597h1M411 597h1M414 596h1M404 594h1M412 595h1M409 595h1M412 596h1M420 596h1M412 589h1M409 599h1M415 601h1M401 592h1M406 594h1M414 595h1M423 591h1M428 594h1M425 594h1M405 592h1M411 596h1M412 592h1M432 596h1M413 595h1M410 597h1M421 596h1M418 602h1M407 596h1M410 594h1M410 594h1M410 595h1M402 601h1M403 593h1M415 594h1M409 599h1M423 595h1M438 593h1M428 593h1M402 595h1M419 596h1M420 595h1M416 594h1M400 597h1M398 601h1M402 597h1M425 597h1M402 594h1M417 588h1M420 594h1M414 590h1M409 597h1M420 596h1M412 592h1M404 598h1M409 593h1M410 598h1M428 594h1M405 593h1M404 595h1M406 597h1M406 595h1M412 594h1M428 594h1M409 594h1M402 600h1M412 594h1M415 596h1M414 601h1M408 596h1M410 600h1M424 597h1M413 597h1M401 595h1M413 594h1M398 588h1M420 591h1M402 596h1M430 596h1M420 594h1M403 589h1M405 595h1M422 597h1M433 598h1M398 596h1M415 596h1M413 590h1M410 599h1M423 599h1M398 599h1M414 593h1M398 596h1M430 592h1M407 591h1M420 593h1M418 600h1M428 593h1M417 596h1M413 588h1M410 595h1M435 591h1M422 594h1M415 595h1M412 601h1M407 590h1M408 595h1M433 595h1M412 596h1M426 592h1M436 589h1M409 594h1M414 598h1M407 591h1M425 596h1M419 595h1M430 594h1M433 597h1M399 597h1M405 604h1M417 592h1M424 599h1M428 587h1M426 594h1M433 599h1M417 597h1M407 599h1M422 592h1M404 599h1M413 596h1M403 593h1M440 596h1M412 599h1M420 597h1M403 597h1M411 592h1M415 594h1M430 595h1M411 595h1M404 594h1M419 593h1M425 594h1M404 590h1M414 593h1M435 596h1M417 590h1M419 591h1M401 597h1M405 597h1M407 595h1M407 596h1M422 601h1M400 599h1M409 595h1M417 598h1M407 598h1M408 594h1M432 597h1M405 594h1M415 601h1M405 600h1M419 589h1M406 595h1M414 600h1M420 600h1M413 594h1M410 593h1M402 594h1M417 597h1M406 593h1M413 599h1M404 591h1M425 602h1M425 593h1M424 595h1M409 594h1M417 597h1M421 591h1M414 597h1M412 595h1M424 597h1M417 594h1M409 595h1M431 596h1M404 593h1M412 590h1M413 597h1M427 595h1M419 597h1M405 599h1M408 595h1M401 593h1M420 595h1M416 594h1M408 594h1M418 596h1M414 600h1M426 590h1M422 601h1M418 597h1M399 597h1M425 591h1M407 595h1M402 595h1M405 600h1M445 590h1M410 593h1M410 595h1M407 600h1M412 597h1M399 602h1M399 597h1M408 592h1M424 597h1M402 597h1M400 601h1M408 588h1M413 596h1M400 594h1M414 597h1M403 596h1M402 594h1M399 595h1M413 597h1M409 596h1M429 597h1M407 599h1M416 593h1M436 597h1M418 594h1M411 597h1M421 594h1M409 599h1M406 600h1M422 593h1M414 592h1M424 592h1M400 599h1M399 598h1M406 592h1M425 593h1M419 594h1M412 597h1M414 595h1M416 591h1M421 591h1M405 596h1M406 600h1M400 602h1M407 591h1M421 590h1M406 602h1M422 602h1M422 591h1M433 589h1M412 594h1M411 596h1M402 597h1M417 589h1M401 595h1M422 597h1M425 591h1M413 598h1M414 598h1M435 587h1M402 603h1M432 598h1M421 593h1M401 596h1M412 588h1M415 594h1M400 590h1M408 600h1M404 597h1M410 591h1M410 596h1M416 601h1M427 596h1M424 596h1M417 597h1M429 597h1M412 596h1M428 594h1M410 593h1M410 600h1M428 594h1M421 597h1M409 598h1M409 596h1M408 589h1M414 591h1M421 598h1M401 598h1M402 592h1M399 596h1M405 594h1M410 600h1M406 592h1M404 601h1M413 593h1M408 595h1M432 595h1M422 591h1M399 603h1M429 590h1M432 591h1M419 590h1M409 595h1M424 593h1M429 592h1M419 589h1M412 594h1M418 593h1M429 595h1M418 591h1M400 594h1M410 597h1M407 594h1M411 592h1M435 595h1M426 594h1M413 597h1M403 597h1M426 591h1M416 599h1M432 592h1M410 596h1M410 600h1M413 591h1M417 593h1M408 593h1M418 598h1M410 596h1M417 599h1M417 590h1M420 597h1M409 598h1M412 595h1M402 599h1M418 596h1M422 598h1M431 592h1M400 596h1M427 597h1M422 592h1M404 596h1M404 596h1M415 600h1M405 595h1M418 593h1M412 598h1M402 600h1M426 596h1M412 592h1M412 598h1M425 591h1M411 600h1M413 598h1M425 600h1M431 587h1M416 595h1M420 595h1M439 593h1M404 595h1M402 593h1M418 591h1M407 594h1M410 599h1M421 595h1M404 596h1M400 595h1M408 592h1M400 592h1M422 594h1M404 591h1M427 593h1M409 602h1M409 593h1M415 594h1M407 597h1M432 599h1M425 594h1M403 598h1M415 593h1M408 601h1M421 596h1M408 593h1M416 594h1M407 596h1M421 596h1M399 591h1M403 596h1M399 596h1M413 599h1M418 595h1M414 591h1M416 598h1M435 593h1M427 594h1M408 595h1M404 591h1M428 593h1M410 590h1M429 594h1M415 602h1M426 594h1M423 595h1M407 596h1M414 599h1M405 599h1M422 594h1M403 593h1M433 589h1M412 599h1M410 593h1M398 594h1M426 591h1M400 601h1M428 598h1M419 592h1M399 594h1M415 586h1M413 594h1M422 595h1M411 598h1M414 596h1M414 596h1M410 598h1M424 591h1M433 592h1M402 597h1M409 600h1M438 597h1M415 594h1M403 595h1M431 600h1M404 600h1M417 591h1M409 597h1M418 599h1M404 606h1M421 593h1M402 598h1M423 596h1M409 595h1M412 593h1M417 595h1M407 593h1M401 598h1M422 592h1M412 593h1M409 595h1M420 597h1M418 590h1M416 600h1M412 598h1M409 595h1M413 599h1M401 594h1M413 596h1M406 601h1M436 590h1M405 596h1M408 596h1M409 595h1M420 595h1M399 593h1M422 599h1M407 594h1M406 596h1M411 603h1M413 587h1M399 594h1M407 596h1M400 597h1M418 596h1M421 594h1M438 598h1M424 596h1M414 591h1M400 594h1M426 596h1M419 593h1M432 596h1M416 597h1M415 596h1M428 595h1M400 601h1M401 596h1M410 601h1M410 598h1M412 595h1M422 599h1M409 600h1M412 592h1M413 596h1M398 597h1M405 592h1M412 596h1M416 594h1M417 596h1M422 598h1M409 597h1M417 596h1M425 598h1M416 593h1M407 597h1M419 595h1M403 594h1M413 596h1M414 593h1M431 594h1M419 593h1M403 594h1M410 597h1M418 595h1M439 596h1M418 597h1M425 590h1M433 596h1M410 595h1M401 599h1M420 596h1M422 595h1M405 591h1M420 592h1M410 595h1M406 598h1M419 595h1M400 598h1M415 590h1M401 604h1M413 599h1M434 593h1M405 598h1M405 589h1M401 593h1M419 598h1M417 602h1M428 596h1M404 594h1M419 592h1M404 593h1M407 595h1M412 595h1M405 595h1M415 596h1M400 591h1M429 595h1M428 592h1M401 599h1M424 595h1M433 595h1M415 593h1M400 598h1M404 592h1M401 593h1M411 595h1M400 594h1M413 598h1M421 590h1M415 596h1M426 596h1M407 597h1M422 596h1M400 597h1M401 593h1M423 594h1M416 599h1M430 599h1M418 592h1M406 599h1M424 592h1M415 596h1M413 596h1M410 594h1M425 590h1M410 589h1M416 602h1M403 598h1M415 596h1M402 597h1M401 598h1M424 594h1M431 597h1M407 592h1M411 594h1M408 595h1M407 591h1M421 590h1M417 595h1M419 595h1M401 591h1M416 597h1M399 596h1M423 591h1M414 596h1M409 598h1M412 594h1M399 602h1M423 598h1M399 598h1M411 595h1M419 600h1M412 599h1M413 598h1M425 597h1M416 594h1M404 595h1M400 598h1M419 597h1M408 595h1M414 597h1M404 597h1M413 592h1M398 593h1M399 595h1M416 597h1M415 595h1M416 596h1M402 595h1M420 599h1M409 593h1M413 589h1M400 598h1M423 594h1M422 596h1M398 598h1M414 591h1M422 596h1M406 601h1M441 598h1M413 593h1M402 598h1M398 603h1M410 596h1M436 592h1M421 593h1M416 598h1M421 596h1M414 597h1M413 600h1" stroke="#b0108c" stroke-width="1" stroke-opacity="0.5" fill="none"/>
<path transform="translate(0 0.5)" d="M434 586h1M426 591h1M434 597h1M434 592h1M435 588h1M428 599h1M437 588h1M441 589h1M428 594h1M440 595h1M430 595h1M424 589h1M432 593h1M441 592h1M427 591h1M430 587h1M440 589h1M430 592h1M437 592h1M431 591h1M435 593h1M426 589h1M422 594h1M425 593h1M442 590h1M439 590h1M429 592h1M433 593h1M436 590h1M423 587h1M430 598h1M420 593h1M437 583h1M427 597h1M435 592h1M426 596h1M440 587h1M440 583h1M433 589h1M437 595h1M427 590h1M430 592h1M435 593h1M427 598h1M424 595h1M432 584h1M441 590h1M424 598h1M414 594h1M433 590h1M434 589h1M421 589h1M427 600h1M432 597h1M436 594h1M423 591h1M433 597h1M424 592h1M425 591h1M424 592h1M430 591h1M421 590h1M431 590h1M422 593h1M436 588h1M437 594h1M427 596h1M422 590h1M434 590h1M421 599h1M427 597h1M425 594h1M430 590h1M438 590h1M431 596h1M428 594h1M435 585h1M426 592h1M420 597h1M430 589h1M429 587h1M427 587h1M428 590h1M431 585h1M433 590h1M430 590h1M438 592h1M434 592h1M435 594h1M441 588h1M436 592h1M427 592h1M429 595h1M434 591h1M440 592h1M420 592h1M421 593h1M429 596h1M431 594h1M430 590h1M435 591h1M431 593h1M429 597h1M425 593h1M436 589h1M419 593h1M427 593h1M437 590h1M432 592h1M433 593h1M434 593h1M426 584h1M429 595h1M435 592h1M423 590h1M429 592h1M429 588h1M428 593h1M430 596h1M437 590h1" stroke="#b0108c" stroke-width="1" stroke-opacity="0.45" fill="none"/>
<ellipse cx="412" cy="596" rx="13.5" ry="3.3" fill="#b0108c" fill-opacity="0.8" transform="rotate(-4 412 596)" filter="url(#b12)"/>
</g>
<rect x="397.70" y="575.40" width="76.10" height="75.80" fill="none" stroke="#7a7a7a" stroke-width="1.1"/>
<path d="M396.1 654.8l2.6 -1.4M415.1 654.8l2.6 -1.4M434.1 654.8l2.6 -1.4M453.2 654.8l2.6 -1.4M472.2 654.8l2.6 -1.4M393.1 649.6l1.6 2.2M393.1 630.6l1.6 2.2M393.1 611.7l1.6 2.2M393.1 592.8l1.6 2.2M393.1 573.8l1.6 2.2" stroke="#666" stroke-width="1.1" fill="none"/>
<rect x="428.60" y="584.50" width="15.50" height="12.30" fill="none" stroke="#7a7ad0" stroke-width="1.0"/>
<rect x="435.60" y="614.20" width="23.60" height="36.80" fill="none" stroke="#7a7ad0" stroke-width="1.0"/>
<text transform="translate(469.60 590.20) scale(1 1.0)" font-size="10.2" fill="#1e1e1e" stroke="#1e1e1e" stroke-width="0.22" text-anchor="end" font-family='"Liberation Serif", serif' font-weight="normal" >3.1</text>
<text transform="translate(414.20 648.80) scale(1 1.0)" font-size="10.2" fill="#1e1e1e" stroke="#1e1e1e" stroke-width="0.22" text-anchor="start" font-family='"Liberation Serif", serif' font-weight="normal" >17.2</text>
<text transform="translate(394.8 624.9) rotate(-90) scale(1 1.0)" stroke="#1e1e1e" stroke-width="0.22" font-size="9.3" fill="#1e1e1e" font-family='"Liberation Serif", serif'>CD19</text>
<text transform="translate(439.80 663.60) scale(1 1.0)" font-size="9.8" fill="#1e1e1e" stroke="#1e1e1e" stroke-width="0.22" text-anchor="middle" font-family='"Liberation Serif", serif' font-weight="normal" >CD5</text>
<text transform="translate(130.95 689.20) scale(1 1.0)" font-size="10.2" fill="#1e1e1e" stroke="#1e1e1e" stroke-width="0.22" text-anchor="middle" font-family='"Liberation Serif", serif' font-weight="normal" >B1a cells</text>
<text transform="translate(130.95 701.20) scale(1 1.0)" font-size="10.2" fill="#1e1e1e" stroke="#1e1e1e" stroke-width="0.22" text-anchor="middle" font-family='"Liberation Serif", serif' xml:space="preserve"><tspan>(CD19</tspan><tspan dx="0" dy="-3.80" font-size="8.80">+</tspan><tspan dy="3.80" font-size="10.2">CD5</tspan><tspan dx="0" dy="-3.80" font-size="8.80">+</tspan><tspan dy="3.80" font-size="10.2">)</tspan></text>
<rect x="92.70" y="703.70" width="76.50" height="76.30" fill="none" stroke="#6a6a6a" stroke-width="1"/>
<path d="M93.2 779.0h1.5" stroke="#777" stroke-width="0.8"/>
<path d="M93.2 764.5h1.5" stroke="#777" stroke-width="0.8"/>
<path d="M93.2 750.0h1.5" stroke="#777" stroke-width="0.8"/>
<path d="M93.2 735.5h1.5" stroke="#777" stroke-width="0.8"/>
<path d="M93.2 721.0h1.5" stroke="#777" stroke-width="0.8"/>
<path d="M93.2 706.5h1.5" stroke="#777" stroke-width="0.8"/>
<path d="M92.7 779.5 L93.2 779.5 L93.7 779.5 L94.2 779.5 L94.7 779.5 L95.2 779.5 L95.7 779.5 L96.2 779.5 L96.7 779.5 L97.2 779.5 L97.7 779.5 L98.2 779.5 L98.7 779.5 L99.2 779.5 L99.7 779.5 L100.2 779.5 L100.8 779.5 L101.3 779.5 L101.8 779.5 L102.3 779.5 L102.8 779.5 L103.3 779.5 L103.8 779.5 L104.3 779.5 L104.8 779.5 L105.3 779.5 L105.8 779.5 L106.3 779.5 L106.8 779.5 L107.3 779.5 L107.8 779.5 L108.3 779.4 L108.8 779.4 L109.3 779.3 L109.8 779.2 L110.3 779.1 L110.8 779.0 L111.3 778.8 L111.8 778.6 L112.3 778.3 L112.8 778.1 L113.3 777.9 L113.8 777.8 L114.3 777.6 L114.8 777.6 L115.3 777.7 L115.9 777.8 L116.4 777.9 L116.9 778.2 L117.4 778.4 L117.9 778.6 L118.4 778.8 L118.9 779.0 L119.4 779.1 L119.9 779.3 L120.4 779.3 L120.9 779.4 L121.4 779.4 L121.9 779.5 L122.4 779.5 L122.9 779.5 L123.4 779.5 L123.9 779.5 L124.4 779.5 L124.9 779.4 L125.4 779.4 L125.9 779.3 L126.4 779.1 L126.9 778.9 L127.4 778.5 L127.9 777.9 L128.4 777.1 L128.9 775.9 L129.4 774.2 L129.9 771.9 L130.4 768.9 L130.9 765.1 L131.5 760.5 L132.0 755.1 L132.5 748.9 L133.0 742.2 L133.5 735.2 L134.0 728.2 L134.5 721.7 L135.0 716.1 L135.5 711.7 L136.0 709.0 L136.5 708.0 L137.0 708.9 L137.5 711.5 L138.0 715.8 L138.5 721.4 L139.0 727.9 L139.5 734.8 L140.0 741.8 L140.5 748.5 L141.0 754.7 L141.5 760.2 L142.0 764.9 L142.5 768.7 L143.0 771.7 L143.5 774.0 L144.0 775.8 L144.5 777.0 L145.0 777.9 L145.5 778.5 L146.0 778.9 L146.6 779.1 L147.1 779.3 L147.6 779.4 L148.1 779.4 L148.6 779.5 L149.1 779.5 L149.6 779.5 L150.1 779.5 L150.6 779.5 L151.1 779.5 L151.6 779.5 L152.1 779.5 L152.6 779.5 L153.1 779.5 L153.6 779.5 L154.1 779.5 L154.6 779.5 L155.1 779.5 L155.6 779.5 L156.1 779.5 L156.6 779.5 L157.1 779.5 L157.6 779.5 L158.1 779.5 L158.6 779.5 L159.1 779.5 L159.6 779.5 L160.1 779.5 L160.6 779.5 L161.1 779.5 L161.7 779.5 L162.2 779.5 L162.7 779.5 L163.2 779.5 L163.7 779.5 L164.2 779.5 L164.7 779.5 L165.2 779.5 L165.7 779.5 L166.2 779.5 L166.7 779.5 L167.2 779.5 L167.7 779.5 L168.2 779.5 L168.7 779.5 L169.2 779.5" fill="none" stroke="#333" stroke-width="0.9"/>
<path d="M92.7 779.0H169.2" stroke="#555" stroke-width="0.9"/>
<path d="M125.6 737.5H155.2M125.6 735.0v5M155.2 735.0v5M92.7 745.7H125.6M125.6 743.2v5" stroke="#555" stroke-width="1.3" fill="none"/>
<text transform="translate(104.20 742.70) scale(1 1.0)" font-size="10" fill="#3434b4" stroke="#3434b4" stroke-width="0.22" text-anchor="start" font-family='"Liberation Serif", serif' font-weight="normal" >3.7</text>
<text transform="translate(143.70 733.50) scale(1 1.0)" font-size="10" fill="#d22a48" stroke="#d22a48" stroke-width="0.22" text-anchor="start" font-family='"Liberation Serif", serif' font-weight="normal" >96.3</text>
<text transform="translate(130.95 791.80) scale(1 1.0)" font-size="9.9" fill="#1e1e1e" stroke="#1e1e1e" stroke-width="0.22" text-anchor="middle" font-family='"Liberation Serif", serif' font-weight="normal" >Ly-5.1</text>
<text transform="translate(229.35 689.20) scale(1 1.0)" font-size="10.2" fill="#1e1e1e" stroke="#1e1e1e" stroke-width="0.22" text-anchor="middle" font-family='"Liberation Serif", serif' font-weight="normal" >T cells</text>
<text transform="translate(229.35 701.20) scale(1 1.0)" font-size="10.2" fill="#1e1e1e" stroke="#1e1e1e" stroke-width="0.22" text-anchor="middle" font-family='"Liberation Serif", serif' xml:space="preserve"><tspan>(CD19</tspan><tspan dx="0" dy="-3.80" font-size="8.80">-</tspan><tspan dy="3.80" font-size="10.2">CD5</tspan><tspan dx="0" dy="-3.80" font-size="8.80">+</tspan><tspan dy="3.80" font-size="10.2">)</tspan></text>
<rect x="191.20" y="703.70" width="76.30" height="76.30" fill="none" stroke="#6a6a6a" stroke-width="1"/>
<path d="M191.7 779.0h1.5" stroke="#777" stroke-width="0.8"/>
<path d="M191.7 764.5h1.5" stroke="#777" stroke-width="0.8"/>
<path d="M191.7 750.0h1.5" stroke="#777" stroke-width="0.8"/>
<path d="M191.7 735.5h1.5" stroke="#777" stroke-width="0.8"/>
<path d="M191.7 721.0h1.5" stroke="#777" stroke-width="0.8"/>
<path d="M191.7 706.5h1.5" stroke="#777" stroke-width="0.8"/>
<path d="M191.2 778.1 L191.7 777.9 L192.2 777.7 L192.7 777.5 L193.2 777.3 L193.7 777.1 L194.2 776.9 L194.7 776.6 L195.2 776.3 L195.7 776.1 L196.2 775.8 L196.7 775.5 L197.2 775.2 L197.7 774.8 L198.2 774.5 L198.7 774.1 L199.2 773.8 L199.7 773.4 L200.2 773.1 L200.7 772.7 L201.2 772.4 L201.7 772.0 L202.2 771.7 L202.7 771.3 L203.2 771.0 L203.7 770.7 L204.3 770.4 L204.8 770.2 L205.3 769.9 L205.8 769.7 L206.3 769.5 L206.8 769.3 L207.3 769.2 L207.8 769.1 L208.3 769.0 L208.8 769.0 L209.3 769.0 L209.8 769.1 L210.3 769.4 L210.8 770.0 L211.3 770.7 L211.8 771.5 L212.3 772.3 L212.8 773.3 L213.3 774.2 L213.8 775.0 L214.3 775.8 L214.8 776.6 L215.3 777.2 L215.8 777.7 L216.3 778.2 L216.8 778.5 L217.3 778.8 L217.8 779.0 L218.3 779.1 L218.8 779.3 L219.3 779.3 L219.8 779.4 L220.3 779.4 L220.8 779.5 L221.3 779.5 L221.8 779.5 L222.3 779.5 L222.8 779.5 L223.3 779.5 L223.8 779.5 L224.3 779.5 L224.8 779.5 L225.3 779.5 L225.8 779.5 L226.3 779.5 L226.8 779.5 L227.3 779.5 L227.8 779.5 L228.3 779.5 L228.8 779.5 L229.3 779.5 L229.9 779.5 L230.4 779.5 L230.9 779.5 L231.4 779.4 L231.9 779.1 L232.4 778.4 L232.9 777.0 L233.4 774.1 L233.9 769.1 L234.4 761.2 L234.9 750.3 L235.4 737.3 L235.9 724.2 L236.4 713.9 L236.9 708.9 L237.4 710.7 L237.9 718.7 L238.4 730.8 L238.9 744.2 L239.4 756.3 L239.9 765.7 L240.4 772.0 L240.9 775.8 L241.4 777.9 L241.9 778.8 L242.4 779.3 L242.9 779.4 L243.4 779.5 L243.9 779.5 L244.4 779.5 L244.9 779.5 L245.4 779.5 L245.9 779.5 L246.4 779.5 L246.9 779.5 L247.4 779.5 L247.9 779.5 L248.4 779.5 L248.9 779.5 L249.4 779.5 L249.9 779.5 L250.4 779.5 L250.9 779.5 L251.4 779.5 L251.9 779.5 L252.4 779.5 L252.9 779.5 L253.4 779.5 L253.9 779.5 L254.4 779.5 L255.0 779.5 L255.5 779.5 L256.0 779.5 L256.5 779.5 L257.0 779.5 L257.5 779.5 L258.0 779.5 L258.5 779.5 L259.0 779.5 L259.5 779.5 L260.0 779.5 L260.5 779.5 L261.0 779.5 L261.5 779.5 L262.0 779.5 L262.5 779.5 L263.0 779.5 L263.5 779.5 L264.0 779.5 L264.5 779.5 L265.0 779.5 L265.5 779.5 L266.0 779.5 L266.5 779.5 L267.0 779.5 L267.5 779.5" fill="none" stroke="#333" stroke-width="0.9"/>
<path d="M191.2 779.0H267.5" stroke="#555" stroke-width="0.9"/>
<path d="M221.9 737.5H252.7M221.9 735.0v5M252.7 735.0v5M191.2 745.7H221.9M221.9 743.2v5" stroke="#555" stroke-width="1.3" fill="none"/>
<text transform="translate(198.30 742.70) scale(1 1.0)" font-size="10" fill="#3434b4" stroke="#3434b4" stroke-width="0.22" text-anchor="start" font-family='"Liberation Serif", serif' font-weight="normal" >32.9</text>
<text transform="translate(241.90 733.50) scale(1 1.0)" font-size="10" fill="#d22a48" stroke="#d22a48" stroke-width="0.22" text-anchor="start" font-family='"Liberation Serif", serif' font-weight="normal" >67.1</text>
<text transform="translate(229.35 791.80) scale(1 1.0)" font-size="9.9" fill="#1e1e1e" stroke="#1e1e1e" stroke-width="0.22" text-anchor="middle" font-family='"Liberation Serif", serif' font-weight="normal" >Ly-5.1</text>
<text transform="translate(337.60 689.20) scale(1 1.0)" font-size="10.2" fill="#1e1e1e" stroke="#1e1e1e" stroke-width="0.22" text-anchor="middle" font-family='"Liberation Serif", serif' font-weight="normal" >B1a cells</text>
<text transform="translate(337.60 701.20) scale(1 1.0)" font-size="10.2" fill="#1e1e1e" stroke="#1e1e1e" stroke-width="0.22" text-anchor="middle" font-family='"Liberation Serif", serif' xml:space="preserve"><tspan>(CD19</tspan><tspan dx="0" dy="-3.80" font-size="8.80">+</tspan><tspan dy="3.80" font-size="10.2">CD5</tspan><tspan dx="0" dy="-3.80" font-size="8.80">+</tspan><tspan dy="3.80" font-size="10.2">)</tspan></text>
<rect x="299.60" y="703.70" width="76.00" height="76.30" fill="none" stroke="#6a6a6a" stroke-width="1"/>
<path d="M300.1 779.0h1.5" stroke="#777" stroke-width="0.8"/>
<path d="M300.1 764.5h1.5" stroke="#777" stroke-width="0.8"/>
<path d="M300.1 750.0h1.5" stroke="#777" stroke-width="0.8"/>
<path d="M300.1 735.5h1.5" stroke="#777" stroke-width="0.8"/>
<path d="M300.1 721.0h1.5" stroke="#777" stroke-width="0.8"/>
<path d="M300.1 706.5h1.5" stroke="#777" stroke-width="0.8"/>
<path d="M299.6 779.5 L300.1 779.5 L300.6 779.5 L301.1 779.5 L301.6 779.5 L302.1 779.5 L302.6 779.5 L303.1 779.5 L303.6 779.5 L304.1 779.5 L304.6 779.5 L305.1 779.5 L305.6 779.4 L306.1 779.4 L306.6 779.4 L307.1 779.4 L307.6 779.3 L308.1 779.3 L308.6 779.2 L309.1 779.1 L309.6 779.0 L310.1 778.8 L310.6 778.6 L311.1 778.4 L311.6 778.1 L312.1 777.8 L312.6 777.4 L313.1 777.0 L313.6 776.5 L314.1 776.0 L314.6 775.3 L315.1 774.6 L315.6 773.8 L316.1 773.0 L316.6 772.1 L317.1 771.2 L317.6 770.2 L318.1 769.2 L318.6 768.2 L319.1 767.2 L319.6 766.2 L320.1 765.3 L320.6 764.4 L321.1 763.7 L321.6 763.0 L322.1 762.5 L322.6 762.1 L323.1 761.9 L323.6 761.8 L324.1 761.9 L324.6 762.3 L325.1 762.9 L325.6 763.7 L326.1 764.7 L326.6 765.8 L327.1 767.0 L327.6 768.3 L328.1 769.5 L328.6 770.8 L329.1 772.0 L329.6 773.1 L330.1 774.2 L330.6 775.1 L331.1 775.9 L331.6 776.6 L332.1 777.2 L332.6 777.7 L333.1 778.1 L333.6 778.3 L334.1 778.5 L334.6 778.5 L335.1 778.4 L335.6 778.0 L336.1 777.4 L336.6 776.5 L337.1 775.1 L337.6 773.1 L338.1 770.4 L338.6 766.9 L339.1 762.6 L339.6 757.4 L340.1 751.4 L340.6 744.7 L341.1 737.6 L341.6 730.4 L342.1 723.5 L342.6 717.4 L343.1 712.6 L343.6 709.4 L344.1 708.0 L344.6 708.6 L345.1 711.1 L345.6 715.3 L346.1 721.0 L346.6 727.6 L347.1 734.7 L347.6 741.9 L348.1 748.8 L348.6 755.1 L349.1 760.7 L349.6 765.3 L350.1 769.2 L350.6 772.2 L351.1 774.4 L351.6 776.1 L352.1 777.3 L352.6 778.1 L353.1 778.6 L353.6 779.0 L354.1 779.2 L354.6 779.3 L355.1 779.4 L355.6 779.4 L356.1 779.5 L356.6 779.5 L357.1 779.5 L357.6 779.5 L358.1 779.5 L358.6 779.5 L359.1 779.5 L359.6 779.5 L360.1 779.5 L360.6 779.5 L361.1 779.5 L361.6 779.5 L362.1 779.5 L362.6 779.5 L363.1 779.5 L363.6 779.5 L364.1 779.5 L364.6 779.5 L365.1 779.5 L365.6 779.5 L366.1 779.5 L366.6 779.5 L367.1 779.5 L367.6 779.5 L368.1 779.5 L368.6 779.5 L369.1 779.5 L369.6 779.5 L370.1 779.5 L370.6 779.5 L371.1 779.5 L371.6 779.5 L372.1 779.5 L372.6 779.5 L373.1 779.5 L373.6 779.5 L374.1 779.5 L374.6 779.5 L375.1 779.5 L375.6 779.5" fill="none" stroke="#333" stroke-width="0.9"/>
<path d="M299.6 779.0H375.6" stroke="#555" stroke-width="0.9"/>
<path d="M332.7 737.5H361.5M332.7 735.0v5M361.5 735.0v5M299.6 745.7H332.7M332.7 743.2v5" stroke="#555" stroke-width="1.3" fill="none"/>
<text transform="translate(307.70 742.70) scale(1 1.0)" font-size="10" fill="#3434b4" stroke="#3434b4" stroke-width="0.22" text-anchor="start" font-family='"Liberation Serif", serif' font-weight="normal" >27.1</text>
<text transform="translate(352.00 733.50) scale(1 1.0)" font-size="10" fill="#a23ab4" stroke="#a23ab4" stroke-width="0.22" text-anchor="start" font-family='"Liberation Serif", serif' font-weight="normal" >72.9</text>
<text transform="translate(337.60 791.80) scale(1 1.0)" font-size="9.9" fill="#1e1e1e" stroke="#1e1e1e" stroke-width="0.22" text-anchor="middle" font-family='"Liberation Serif", serif' font-weight="normal" >Ly-5.1</text>
<text transform="translate(435.65 689.20) scale(1 1.0)" font-size="10.2" fill="#1e1e1e" stroke="#1e1e1e" stroke-width="0.22" text-anchor="middle" font-family='"Liberation Serif", serif' font-weight="normal" >T cells</text>
<text transform="translate(435.65 701.20) scale(1 1.0)" font-size="10.2" fill="#1e1e1e" stroke="#1e1e1e" stroke-width="0.22" text-anchor="middle" font-family='"Liberation Serif", serif' xml:space="preserve"><tspan>(CD19</tspan><tspan dx="0" dy="-3.80" font-size="8.80">-</tspan><tspan dy="3.80" font-size="10.2">CD5</tspan><tspan dx="0" dy="-3.80" font-size="8.80">+</tspan><tspan dy="3.80" font-size="10.2">)</tspan></text>
<rect x="397.50" y="703.70" width="76.30" height="76.30" fill="none" stroke="#6a6a6a" stroke-width="1"/>
<path d="M398.0 779.0h1.5" stroke="#777" stroke-width="0.8"/>
<path d="M398.0 764.5h1.5" stroke="#777" stroke-width="0.8"/>
<path d="M398.0 750.0h1.5" stroke="#777" stroke-width="0.8"/>
<path d="M398.0 735.5h1.5" stroke="#777" stroke-width="0.8"/>
<path d="M398.0 721.0h1.5" stroke="#777" stroke-width="0.8"/>
<path d="M398.0 706.5h1.5" stroke="#777" stroke-width="0.8"/>
<path d="M397.5 778.7 L398.0 778.6 L398.5 778.4 L399.0 778.3 L399.5 778.1 L400.0 777.9 L400.5 777.7 L401.0 777.4 L401.5 777.2 L402.0 776.9 L402.5 776.6 L403.0 776.3 L403.5 776.0 L404.0 775.6 L404.5 775.2 L405.0 774.8 L405.5 774.4 L406.0 774.0 L406.5 773.5 L407.0 773.1 L407.5 772.6 L408.0 772.1 L408.5 771.6 L409.0 771.2 L409.5 770.7 L410.0 770.3 L410.6 769.8 L411.1 769.4 L411.6 769.0 L412.1 768.6 L412.6 768.3 L413.1 768.0 L413.6 767.7 L414.1 767.5 L414.6 767.3 L415.1 767.2 L415.6 767.1 L416.1 767.1 L416.6 767.1 L417.1 767.4 L417.6 767.8 L418.1 768.4 L418.6 769.2 L419.1 770.0 L419.6 771.0 L420.1 771.9 L420.6 772.9 L421.1 773.8 L421.6 774.7 L422.1 775.5 L422.6 776.3 L423.1 776.9 L423.6 777.4 L424.1 777.9 L424.6 778.3 L425.1 778.6 L425.6 778.8 L426.1 779.0 L426.6 779.1 L427.1 779.3 L427.6 779.3 L428.1 779.4 L428.6 779.4 L429.1 779.4 L429.6 779.5 L430.1 779.5 L430.6 779.5 L431.1 779.5 L431.6 779.5 L432.1 779.5 L432.6 779.5 L433.1 779.5 L433.6 779.5 L434.1 779.5 L434.6 779.5 L435.1 779.5 L435.6 779.5 L436.2 779.5 L436.7 779.5 L437.2 779.4 L437.7 779.2 L438.2 778.8 L438.7 777.8 L439.2 775.8 L439.7 772.3 L440.2 766.5 L440.7 758.1 L441.2 747.2 L441.7 734.7 L442.2 722.6 L442.7 713.3 L443.2 708.9 L443.7 710.5 L444.2 717.7 L444.7 728.7 L445.2 741.3 L445.7 753.1 L446.2 762.8 L446.7 769.8 L447.2 774.4 L447.7 777.0 L448.2 778.4 L448.7 779.0 L449.2 779.3 L449.7 779.4 L450.2 779.5 L450.7 779.5 L451.2 779.5 L451.7 779.5 L452.2 779.5 L452.7 779.5 L453.2 779.5 L453.7 779.5 L454.2 779.5 L454.7 779.5 L455.2 779.5 L455.7 779.5 L456.2 779.5 L456.7 779.5 L457.2 779.5 L457.7 779.5 L458.2 779.5 L458.7 779.5 L459.2 779.5 L459.7 779.5 L460.2 779.5 L460.7 779.5 L461.3 779.5 L461.8 779.5 L462.3 779.5 L462.8 779.5 L463.3 779.5 L463.8 779.5 L464.3 779.5 L464.8 779.5 L465.3 779.5 L465.8 779.5 L466.3 779.5 L466.8 779.5 L467.3 779.5 L467.8 779.5 L468.3 779.5 L468.8 779.5 L469.3 779.5 L469.8 779.5 L470.3 779.5 L470.8 779.5 L471.3 779.5 L471.8 779.5 L472.3 779.5 L472.8 779.5 L473.3 779.5 L473.8 779.5" fill="none" stroke="#333" stroke-width="0.9"/>
<path d="M397.5 779.0H473.8" stroke="#555" stroke-width="0.9"/>
<path d="M428.8 737.5H459.6M428.8 735.0v5M459.6 735.0v5M397.5 745.7H428.8M428.8 743.2v5" stroke="#555" stroke-width="1.3" fill="none"/>
<text transform="translate(404.60 742.70) scale(1 1.0)" font-size="10" fill="#3434b4" stroke="#3434b4" stroke-width="0.22" text-anchor="start" font-family='"Liberation Serif", serif' font-weight="normal" >41.3</text>
<text transform="translate(448.80 733.50) scale(1 1.0)" font-size="10" fill="#a23ab4" stroke="#a23ab4" stroke-width="0.22" text-anchor="start" font-family='"Liberation Serif", serif' font-weight="normal" >58.7</text>
<text transform="translate(435.65 791.80) scale(1 1.0)" font-size="9.9" fill="#1e1e1e" stroke="#1e1e1e" stroke-width="0.22" text-anchor="middle" font-family='"Liberation Serif", serif' font-weight="normal" >Ly-5.1</text>
</svg>
</body></html>
